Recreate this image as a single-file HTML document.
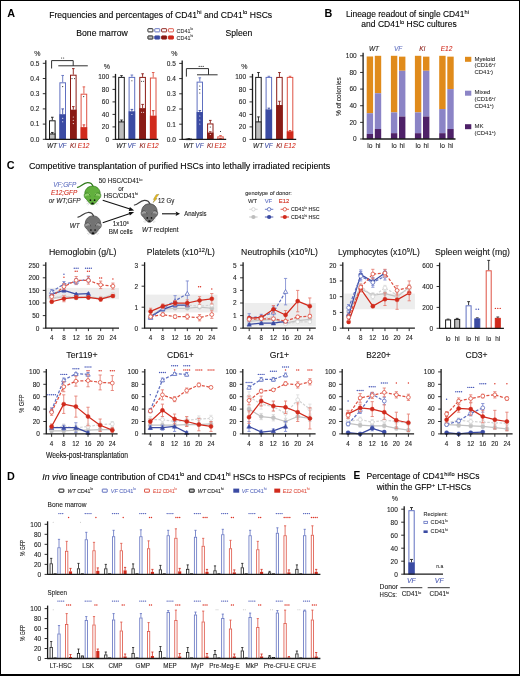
<!DOCTYPE html>
<html><head><meta charset="utf-8"><style>
html,body{margin:0;padding:0;background:#fff;}
#fig{position:relative;width:520px;height:676px;overflow:hidden;background:#fff;}
#fig svg{position:absolute;left:0;top:0;will-change:transform;}
#fig text{font-family:"Liberation Sans", sans-serif;}
#frame{position:absolute;left:0;top:0;width:518px;height:673px;border:1px solid #000;border-bottom-width:2px;}
</style></head><body><div id="fig">
<svg width="520" height="676" viewBox="0 0 520 676" font-family="Liberation Sans, sans-serif">
<text x="7.30" y="17.20" font-size="10.8" font-weight="bold">A</text>
<text x="49.20" y="17.60" font-size="8.6" stroke="#000" stroke-width="0.1" textLength="223.00" lengthAdjust="spacingAndGlyphs">Frequencies and percentages of CD41<tspan dy="-3.4" font-size="5.8">hi</tspan><tspan dy="3.4"> and CD41</tspan><tspan dy="-3.4" font-size="5.8">lo</tspan><tspan dy="3.4"> HSCs</tspan></text>
<text x="76.30" y="36.20" font-size="8.6" stroke="#000" stroke-width="0.1" textLength="51.40" lengthAdjust="spacingAndGlyphs">Bone marrow</text>
<text x="225.50" y="36.00" font-size="8.6" stroke="#000" stroke-width="0.1" textLength="26.80" lengthAdjust="spacingAndGlyphs">Spleen</text>
<rect x="147.90" y="28.70" width="5.00" height="3.20" fill="#fff" stroke="#1a1a1a" stroke-width="0.95" rx="0.5"/>
<rect x="147.90" y="35.90" width="5.00" height="3.20" fill="#bdbdbd" stroke="#1a1a1a" stroke-width="0.95" rx="0.5"/>
<rect x="154.75" y="28.70" width="5.00" height="3.20" fill="#fff" stroke="#6070c0" stroke-width="0.95" rx="0.5"/>
<rect x="154.75" y="35.90" width="5.00" height="3.20" fill="#3b4ba3" stroke="#3b4ba3" stroke-width="0.95" rx="0.5"/>
<rect x="161.60" y="28.70" width="5.00" height="3.20" fill="#fff" stroke="#8a1b15" stroke-width="0.95" rx="0.5"/>
<rect x="161.60" y="35.90" width="5.00" height="3.20" fill="#8a1b15" stroke="#8a1b15" stroke-width="0.95" rx="0.5"/>
<rect x="168.45" y="28.70" width="5.00" height="3.20" fill="#fff" stroke="#de5243" stroke-width="0.95" rx="0.5"/>
<rect x="168.45" y="35.90" width="5.00" height="3.20" fill="#d12a1c" stroke="#d12a1c" stroke-width="0.95" rx="0.5"/>
<text x="176.60" y="32.50" font-size="5.4" fill="#333" stroke="#333" stroke-width="0.1">CD41<tspan dy="-2.2" font-size="3.4">lo</tspan></text>
<text x="176.60" y="39.60" font-size="5.4" fill="#333" stroke="#333" stroke-width="0.1">CD41<tspan dy="-2.2" font-size="3.4">hi</tspan></text>
<line x1="45.80" y1="139.30" x2="45.80" y2="60.30" stroke="#1a1a1a" stroke-width="1.3"/>
<line x1="42.80" y1="139.30" x2="45.80" y2="139.30" stroke="#1a1a1a" stroke-width="0.9"/>
<text x="39.40" y="141.64" font-size="6.5" text-anchor="end" fill="#222" stroke="#222" stroke-width="0.1">0.0</text>
<line x1="42.80" y1="124.10" x2="45.80" y2="124.10" stroke="#1a1a1a" stroke-width="0.9"/>
<text x="39.40" y="126.44" font-size="6.5" text-anchor="end" fill="#222" stroke="#222" stroke-width="0.1">0.1</text>
<line x1="42.80" y1="108.90" x2="45.80" y2="108.90" stroke="#1a1a1a" stroke-width="0.9"/>
<text x="39.40" y="111.24" font-size="6.5" text-anchor="end" fill="#222" stroke="#222" stroke-width="0.1">0.2</text>
<line x1="42.80" y1="93.70" x2="45.80" y2="93.70" stroke="#1a1a1a" stroke-width="0.9"/>
<text x="39.40" y="96.04" font-size="6.5" text-anchor="end" fill="#222" stroke="#222" stroke-width="0.1">0.3</text>
<line x1="42.80" y1="78.50" x2="45.80" y2="78.50" stroke="#1a1a1a" stroke-width="0.9"/>
<text x="39.40" y="80.84" font-size="6.5" text-anchor="end" fill="#222" stroke="#222" stroke-width="0.1">0.4</text>
<line x1="42.80" y1="63.30" x2="45.80" y2="63.30" stroke="#1a1a1a" stroke-width="0.9"/>
<text x="39.40" y="65.64" font-size="6.5" text-anchor="end" fill="#222" stroke="#222" stroke-width="0.1">0.5</text>
<text x="34.30" y="55.60" font-size="7.0" fill="#222" stroke="#222" stroke-width="0.1">%</text>
<line x1="52.30" y1="120.30" x2="52.30" y2="117.26" stroke="#1a1a1a" stroke-width="0.9"/>
<line x1="51.00" y1="117.26" x2="53.60" y2="117.26" stroke="#1a1a1a" stroke-width="0.9"/>
<rect x="49.50" y="120.80" width="5.60" height="18.50" fill="#fff" stroke="#1a1a1a" stroke-width="1.0"/>
<rect x="49.00" y="133.98" width="6.60" height="5.32" fill="#bdbdbd"/>
<rect x="49.50" y="133.98" width="5.60" height="5.32" fill="#bdbdbd" stroke="#1a1a1a" stroke-width="1.0"/>
<line x1="52.30" y1="133.98" x2="52.30" y2="132.46" stroke="#1a1a1a" stroke-width="0.9"/>
<line x1="51.00" y1="132.46" x2="53.60" y2="132.46" stroke="#1a1a1a" stroke-width="0.9"/>
<line x1="62.70" y1="82.30" x2="62.70" y2="75.46" stroke="#6070c0" stroke-width="0.9"/>
<line x1="61.40" y1="75.46" x2="64.00" y2="75.46" stroke="#6070c0" stroke-width="0.9"/>
<rect x="59.90" y="82.80" width="5.60" height="56.50" fill="#fff" stroke="#6070c0" stroke-width="1.0"/>
<rect x="59.40" y="114.22" width="6.60" height="25.08" fill="#3b4ba3"/>
<line x1="62.70" y1="114.22" x2="62.70" y2="108.90" stroke="#3b4ba3" stroke-width="0.9"/>
<line x1="61.40" y1="108.90" x2="64.00" y2="108.90" stroke="#3b4ba3" stroke-width="0.9"/>
<line x1="73.30" y1="74.70" x2="73.30" y2="68.62" stroke="#8a1b15" stroke-width="0.9"/>
<line x1="72.00" y1="68.62" x2="74.60" y2="68.62" stroke="#8a1b15" stroke-width="0.9"/>
<rect x="70.50" y="75.20" width="5.60" height="64.10" fill="#fff" stroke="#8a1b15" stroke-width="1.0"/>
<rect x="70.00" y="109.66" width="6.60" height="29.64" fill="#8a1b15"/>
<line x1="73.30" y1="109.66" x2="73.30" y2="106.62" stroke="#8a1b15" stroke-width="0.9"/>
<line x1="72.00" y1="106.62" x2="74.60" y2="106.62" stroke="#8a1b15" stroke-width="0.9"/>
<line x1="83.90" y1="93.70" x2="83.90" y2="86.86" stroke="#de5243" stroke-width="0.9"/>
<line x1="82.60" y1="86.86" x2="85.20" y2="86.86" stroke="#de5243" stroke-width="0.9"/>
<rect x="81.10" y="94.20" width="5.60" height="45.10" fill="#fff" stroke="#de5243" stroke-width="1.0"/>
<rect x="80.60" y="127.14" width="6.60" height="12.16" fill="#d12a1c"/>
<line x1="83.90" y1="127.14" x2="83.90" y2="124.86" stroke="#d12a1c" stroke-width="0.9"/>
<line x1="82.60" y1="124.86" x2="85.20" y2="124.86" stroke="#d12a1c" stroke-width="0.9"/>
<line x1="45.30" y1="139.30" x2="88.00" y2="139.30" stroke="#1a1a1a" stroke-width="1.3"/>
<text x="52.00" y="147.80" font-size="6.5" text-anchor="middle" fill="#1a1a1a" stroke="#1a1a1a" stroke-width="0.1" font-style="italic">WT</text>
<text x="62.40" y="147.80" font-size="6.5" text-anchor="middle" fill="#3b4ba3" stroke="#3b4ba3" stroke-width="0.1" font-style="italic">VF</text>
<text x="73.00" y="147.80" font-size="6.5" text-anchor="middle" fill="#8a1b15" stroke="#8a1b15" stroke-width="0.1" font-style="italic">Ki</text>
<text x="83.60" y="147.80" font-size="6.5" text-anchor="middle" fill="#d12a1c" stroke="#d12a1c" stroke-width="0.1" font-style="italic">E12</text>
<polyline points="51.60,68.50 51.60,60.60 73.20,60.60 73.20,65.80" fill="none" stroke="#1a1a1a" stroke-width="0.9" stroke-linejoin="round"/>
<line x1="58.30" y1="65.80" x2="87.80" y2="65.80" stroke="#1a1a1a" stroke-width="0.9"/>
<circle cx="61.60" cy="58.00" r="0.6" fill="#333"/>
<circle cx="63.60" cy="58.00" r="0.6" fill="#333"/>
<circle cx="62.7" cy="86.6" r="0.55" fill="#1a1a1a"/>
<circle cx="62.7" cy="118.3" r="0.55" fill="#fff"/>
<circle cx="62.7" cy="121.7" r="0.55" fill="#fff"/>
<circle cx="72.0" cy="78.6" r="0.55" fill="#1a1a1a"/>
<circle cx="74.6" cy="78.6" r="0.55" fill="#1a1a1a"/>
<circle cx="73.3" cy="117" r="0.55" fill="#fff"/>
<circle cx="73.3" cy="120.3" r="0.55" fill="#fff"/>
<circle cx="73.3" cy="123.6" r="0.55" fill="#fff"/>
<circle cx="83.7" cy="96.6" r="0.55" fill="#1a1a1a"/>
<line x1="115.50" y1="139.40" x2="115.50" y2="73.90" stroke="#1a1a1a" stroke-width="1.3"/>
<line x1="112.50" y1="139.40" x2="115.50" y2="139.40" stroke="#1a1a1a" stroke-width="0.9"/>
<text x="109.10" y="141.74" font-size="6.5" text-anchor="end" fill="#222" stroke="#222" stroke-width="0.1">0</text>
<line x1="112.50" y1="126.90" x2="115.50" y2="126.90" stroke="#1a1a1a" stroke-width="0.9"/>
<text x="109.10" y="129.24" font-size="6.5" text-anchor="end" fill="#222" stroke="#222" stroke-width="0.1">20</text>
<line x1="112.50" y1="114.40" x2="115.50" y2="114.40" stroke="#1a1a1a" stroke-width="0.9"/>
<text x="109.10" y="116.74" font-size="6.5" text-anchor="end" fill="#222" stroke="#222" stroke-width="0.1">40</text>
<line x1="112.50" y1="101.90" x2="115.50" y2="101.90" stroke="#1a1a1a" stroke-width="0.9"/>
<text x="109.10" y="104.24" font-size="6.5" text-anchor="end" fill="#222" stroke="#222" stroke-width="0.1">60</text>
<line x1="112.50" y1="89.40" x2="115.50" y2="89.40" stroke="#1a1a1a" stroke-width="0.9"/>
<text x="109.10" y="91.74" font-size="6.5" text-anchor="end" fill="#222" stroke="#222" stroke-width="0.1">80</text>
<line x1="112.50" y1="76.90" x2="115.50" y2="76.90" stroke="#1a1a1a" stroke-width="0.9"/>
<text x="109.10" y="79.24" font-size="6.5" text-anchor="end" fill="#222" stroke="#222" stroke-width="0.1">100</text>
<text x="103.80" y="69.40" font-size="7.0" fill="#222" stroke="#222" stroke-width="0.1">%</text>
<line x1="121.50" y1="76.90" x2="121.50" y2="75.65" stroke="#1a1a1a" stroke-width="0.9"/>
<line x1="120.20" y1="75.65" x2="122.80" y2="75.65" stroke="#1a1a1a" stroke-width="0.9"/>
<rect x="118.70" y="77.40" width="5.60" height="62.00" fill="#fff" stroke="#1a1a1a" stroke-width="1.0"/>
<rect x="118.20" y="121.90" width="6.60" height="17.50" fill="#bdbdbd"/>
<rect x="118.70" y="121.90" width="5.60" height="17.50" fill="#bdbdbd" stroke="#1a1a1a" stroke-width="1.0"/>
<line x1="121.50" y1="121.90" x2="121.50" y2="120.03" stroke="#1a1a1a" stroke-width="0.9"/>
<line x1="120.20" y1="120.03" x2="122.80" y2="120.03" stroke="#1a1a1a" stroke-width="0.9"/>
<line x1="131.90" y1="76.90" x2="131.90" y2="75.03" stroke="#6070c0" stroke-width="0.9"/>
<line x1="130.60" y1="75.03" x2="133.20" y2="75.03" stroke="#6070c0" stroke-width="0.9"/>
<rect x="129.10" y="77.40" width="5.60" height="62.00" fill="#fff" stroke="#6070c0" stroke-width="1.0"/>
<rect x="128.60" y="111.28" width="6.60" height="28.12" fill="#3b4ba3"/>
<line x1="131.90" y1="111.28" x2="131.90" y2="109.40" stroke="#3b4ba3" stroke-width="0.9"/>
<line x1="130.60" y1="109.40" x2="133.20" y2="109.40" stroke="#3b4ba3" stroke-width="0.9"/>
<line x1="142.60" y1="76.90" x2="142.60" y2="73.78" stroke="#8a1b15" stroke-width="0.9"/>
<line x1="141.30" y1="73.78" x2="143.90" y2="73.78" stroke="#8a1b15" stroke-width="0.9"/>
<rect x="139.80" y="77.40" width="5.60" height="62.00" fill="#fff" stroke="#8a1b15" stroke-width="1.0"/>
<rect x="139.30" y="108.15" width="6.60" height="31.25" fill="#8a1b15"/>
<line x1="142.60" y1="108.15" x2="142.60" y2="104.40" stroke="#8a1b15" stroke-width="0.9"/>
<line x1="141.30" y1="104.40" x2="143.90" y2="104.40" stroke="#8a1b15" stroke-width="0.9"/>
<line x1="153.20" y1="77.53" x2="153.20" y2="72.53" stroke="#de5243" stroke-width="0.9"/>
<line x1="151.90" y1="72.53" x2="154.50" y2="72.53" stroke="#de5243" stroke-width="0.9"/>
<rect x="150.40" y="78.03" width="5.60" height="61.38" fill="#fff" stroke="#de5243" stroke-width="1.0"/>
<rect x="149.90" y="115.65" width="6.60" height="23.75" fill="#d12a1c"/>
<line x1="153.20" y1="115.65" x2="153.20" y2="110.65" stroke="#d12a1c" stroke-width="0.9"/>
<line x1="151.90" y1="110.65" x2="154.50" y2="110.65" stroke="#d12a1c" stroke-width="0.9"/>
<line x1="115.00" y1="139.40" x2="158.20" y2="139.40" stroke="#1a1a1a" stroke-width="1.3"/>
<text x="121.20" y="147.80" font-size="6.5" text-anchor="middle" fill="#1a1a1a" stroke="#1a1a1a" stroke-width="0.1" font-style="italic">WT</text>
<text x="131.60" y="147.80" font-size="6.5" text-anchor="middle" fill="#3b4ba3" stroke="#3b4ba3" stroke-width="0.1" font-style="italic">VF</text>
<text x="142.30" y="147.80" font-size="6.5" text-anchor="middle" fill="#8a1b15" stroke="#8a1b15" stroke-width="0.1" font-style="italic">Ki</text>
<text x="152.90" y="147.80" font-size="6.5" text-anchor="middle" fill="#d12a1c" stroke="#d12a1c" stroke-width="0.1" font-style="italic">E12</text>
<circle cx="131.9" cy="80.8" r="0.55" fill="#1a1a1a"/>
<circle cx="131.9" cy="114.5" r="0.55" fill="#fff"/>
<circle cx="141.6" cy="81.2" r="0.55" fill="#1a1a1a"/>
<circle cx="143.6" cy="81.2" r="0.55" fill="#1a1a1a"/>
<circle cx="141.6" cy="112.3" r="0.55" fill="#fff"/>
<circle cx="143.6" cy="112.3" r="0.55" fill="#fff"/>
<line x1="182.20" y1="139.40" x2="182.20" y2="60.40" stroke="#1a1a1a" stroke-width="1.3"/>
<line x1="179.20" y1="139.40" x2="182.20" y2="139.40" stroke="#1a1a1a" stroke-width="0.9"/>
<text x="175.80" y="141.74" font-size="6.5" text-anchor="end" fill="#222" stroke="#222" stroke-width="0.1">0.0</text>
<line x1="179.20" y1="124.20" x2="182.20" y2="124.20" stroke="#1a1a1a" stroke-width="0.9"/>
<text x="175.80" y="126.54" font-size="6.5" text-anchor="end" fill="#222" stroke="#222" stroke-width="0.1">0.1</text>
<line x1="179.20" y1="109.00" x2="182.20" y2="109.00" stroke="#1a1a1a" stroke-width="0.9"/>
<text x="175.80" y="111.34" font-size="6.5" text-anchor="end" fill="#222" stroke="#222" stroke-width="0.1">0.2</text>
<line x1="179.20" y1="93.80" x2="182.20" y2="93.80" stroke="#1a1a1a" stroke-width="0.9"/>
<text x="175.80" y="96.14" font-size="6.5" text-anchor="end" fill="#222" stroke="#222" stroke-width="0.1">0.3</text>
<line x1="179.20" y1="78.60" x2="182.20" y2="78.60" stroke="#1a1a1a" stroke-width="0.9"/>
<text x="175.80" y="80.94" font-size="6.5" text-anchor="end" fill="#222" stroke="#222" stroke-width="0.1">0.4</text>
<line x1="179.20" y1="63.40" x2="182.20" y2="63.40" stroke="#1a1a1a" stroke-width="0.9"/>
<text x="175.80" y="65.74" font-size="6.5" text-anchor="end" fill="#222" stroke="#222" stroke-width="0.1">0.5</text>
<text x="171.30" y="55.60" font-size="7.0" fill="#222" stroke="#222" stroke-width="0.1">%</text>
<line x1="188.80" y1="138.79" x2="188.80" y2="138.64" stroke="#1a1a1a" stroke-width="0.9"/>
<line x1="187.50" y1="138.64" x2="190.10" y2="138.64" stroke="#1a1a1a" stroke-width="0.9"/>
<rect x="186.10" y="139.29" width="5.40" height="0.30" fill="#fff" stroke="#1a1a1a" stroke-width="1.0"/>
<rect x="185.60" y="139.25" width="6.40" height="0.15" fill="#bdbdbd"/>
<rect x="186.10" y="139.25" width="5.40" height="0.15" fill="#bdbdbd" stroke="#1a1a1a" stroke-width="1.0"/>
<line x1="199.80" y1="81.64" x2="199.80" y2="77.84" stroke="#6070c0" stroke-width="0.9"/>
<line x1="198.50" y1="77.84" x2="201.10" y2="77.84" stroke="#6070c0" stroke-width="0.9"/>
<rect x="197.10" y="82.14" width="5.40" height="57.26" fill="#fff" stroke="#6070c0" stroke-width="1.0"/>
<rect x="196.60" y="112.04" width="6.40" height="27.36" fill="#3b4ba3"/>
<line x1="199.80" y1="112.04" x2="199.80" y2="110.52" stroke="#3b4ba3" stroke-width="0.9"/>
<line x1="198.50" y1="110.52" x2="201.10" y2="110.52" stroke="#3b4ba3" stroke-width="0.9"/>
<line x1="210.30" y1="123.44" x2="210.30" y2="120.40" stroke="#8a1b15" stroke-width="0.9"/>
<line x1="209.00" y1="120.40" x2="211.60" y2="120.40" stroke="#8a1b15" stroke-width="0.9"/>
<rect x="207.60" y="123.94" width="5.40" height="15.46" fill="#fff" stroke="#8a1b15" stroke-width="1.0"/>
<rect x="207.10" y="132.56" width="6.40" height="6.84" fill="#8a1b15"/>
<line x1="210.30" y1="132.56" x2="210.30" y2="131.80" stroke="#8a1b15" stroke-width="0.9"/>
<line x1="209.00" y1="131.80" x2="211.60" y2="131.80" stroke="#8a1b15" stroke-width="0.9"/>
<line x1="220.50" y1="136.36" x2="220.50" y2="135.60" stroke="#de5243" stroke-width="0.9"/>
<line x1="219.20" y1="135.60" x2="221.80" y2="135.60" stroke="#de5243" stroke-width="0.9"/>
<rect x="217.80" y="136.86" width="5.40" height="2.54" fill="#fff" stroke="#de5243" stroke-width="1.0"/>
<rect x="217.30" y="138.64" width="6.40" height="0.76" fill="#d12a1c"/>
<line x1="220.50" y1="138.64" x2="220.50" y2="138.49" stroke="#d12a1c" stroke-width="0.9"/>
<line x1="219.20" y1="138.49" x2="221.80" y2="138.49" stroke="#d12a1c" stroke-width="0.9"/>
<line x1="181.70" y1="139.40" x2="226.20" y2="139.40" stroke="#1a1a1a" stroke-width="1.3"/>
<text x="188.50" y="147.80" font-size="6.5" text-anchor="middle" fill="#1a1a1a" stroke="#1a1a1a" stroke-width="0.1" font-style="italic">WT</text>
<text x="199.50" y="147.80" font-size="6.5" text-anchor="middle" fill="#3b4ba3" stroke="#3b4ba3" stroke-width="0.1" font-style="italic">VF</text>
<text x="210.00" y="147.80" font-size="6.5" text-anchor="middle" fill="#8a1b15" stroke="#8a1b15" stroke-width="0.1" font-style="italic">Ki</text>
<text x="220.20" y="147.80" font-size="6.5" text-anchor="middle" fill="#d12a1c" stroke="#d12a1c" stroke-width="0.1" font-style="italic">E12</text>
<polyline points="186.40,76.60 186.40,68.60 208.50,68.60 208.50,74.70" fill="none" stroke="#1a1a1a" stroke-width="0.9" stroke-linejoin="round"/>
<line x1="197.00" y1="74.80" x2="217.60" y2="74.80" stroke="#1a1a1a" stroke-width="0.9"/>
<circle cx="199.20" cy="66.40" r="0.6" fill="#333"/>
<circle cx="201.20" cy="66.40" r="0.6" fill="#333"/>
<circle cx="203.20" cy="66.40" r="0.6" fill="#333"/>
<circle cx="199.8" cy="86" r="0.55" fill="#1a1a1a"/>
<circle cx="199.8" cy="89.5" r="0.55" fill="#1a1a1a"/>
<circle cx="199.8" cy="93" r="0.55" fill="#1a1a1a"/>
<circle cx="199.8" cy="116" r="0.55" fill="#fff"/>
<circle cx="199.8" cy="120" r="0.55" fill="#fff"/>
<circle cx="199.8" cy="124" r="0.55" fill="#fff"/>
<circle cx="210.3" cy="127" r="0.55" fill="#1a1a1a"/>
<circle cx="210.3" cy="134.5" r="0.55" fill="#fff"/>
<circle cx="220.5" cy="131.5" r="0.55" fill="#1a1a1a"/>
<line x1="252.50" y1="139.40" x2="252.50" y2="73.90" stroke="#1a1a1a" stroke-width="1.3"/>
<line x1="249.50" y1="139.40" x2="252.50" y2="139.40" stroke="#1a1a1a" stroke-width="0.9"/>
<text x="246.10" y="141.74" font-size="6.5" text-anchor="end" fill="#222" stroke="#222" stroke-width="0.1">0</text>
<line x1="249.50" y1="126.90" x2="252.50" y2="126.90" stroke="#1a1a1a" stroke-width="0.9"/>
<text x="246.10" y="129.24" font-size="6.5" text-anchor="end" fill="#222" stroke="#222" stroke-width="0.1">20</text>
<line x1="249.50" y1="114.40" x2="252.50" y2="114.40" stroke="#1a1a1a" stroke-width="0.9"/>
<text x="246.10" y="116.74" font-size="6.5" text-anchor="end" fill="#222" stroke="#222" stroke-width="0.1">40</text>
<line x1="249.50" y1="101.90" x2="252.50" y2="101.90" stroke="#1a1a1a" stroke-width="0.9"/>
<text x="246.10" y="104.24" font-size="6.5" text-anchor="end" fill="#222" stroke="#222" stroke-width="0.1">60</text>
<line x1="249.50" y1="89.40" x2="252.50" y2="89.40" stroke="#1a1a1a" stroke-width="0.9"/>
<text x="246.10" y="91.74" font-size="6.5" text-anchor="end" fill="#222" stroke="#222" stroke-width="0.1">80</text>
<line x1="249.50" y1="76.90" x2="252.50" y2="76.90" stroke="#1a1a1a" stroke-width="0.9"/>
<text x="246.10" y="79.24" font-size="6.5" text-anchor="end" fill="#222" stroke="#222" stroke-width="0.1">100</text>
<text x="241.30" y="69.40" font-size="7.0" fill="#222" stroke="#222" stroke-width="0.1">%</text>
<line x1="258.45" y1="76.90" x2="258.45" y2="72.53" stroke="#1a1a1a" stroke-width="0.9"/>
<line x1="257.15" y1="72.53" x2="259.75" y2="72.53" stroke="#1a1a1a" stroke-width="0.9"/>
<rect x="255.70" y="77.40" width="5.50" height="62.00" fill="#fff" stroke="#1a1a1a" stroke-width="1.0"/>
<rect x="255.20" y="121.90" width="6.50" height="17.50" fill="#bdbdbd"/>
<rect x="255.70" y="121.90" width="5.50" height="17.50" fill="#bdbdbd" stroke="#1a1a1a" stroke-width="1.0"/>
<line x1="258.45" y1="121.90" x2="258.45" y2="116.90" stroke="#1a1a1a" stroke-width="0.9"/>
<line x1="257.15" y1="116.90" x2="259.75" y2="116.90" stroke="#1a1a1a" stroke-width="0.9"/>
<line x1="268.85" y1="76.90" x2="268.85" y2="76.28" stroke="#6070c0" stroke-width="0.9"/>
<line x1="267.55" y1="76.28" x2="270.15" y2="76.28" stroke="#6070c0" stroke-width="0.9"/>
<rect x="266.10" y="77.40" width="5.50" height="62.00" fill="#fff" stroke="#6070c0" stroke-width="1.0"/>
<rect x="265.60" y="109.40" width="6.50" height="30.00" fill="#3b4ba3"/>
<line x1="268.85" y1="109.40" x2="268.85" y2="108.15" stroke="#3b4ba3" stroke-width="0.9"/>
<line x1="267.55" y1="108.15" x2="270.15" y2="108.15" stroke="#3b4ba3" stroke-width="0.9"/>
<line x1="279.45" y1="76.90" x2="279.45" y2="72.53" stroke="#8a1b15" stroke-width="0.9"/>
<line x1="278.15" y1="72.53" x2="280.75" y2="72.53" stroke="#8a1b15" stroke-width="0.9"/>
<rect x="276.70" y="77.40" width="5.50" height="62.00" fill="#fff" stroke="#8a1b15" stroke-width="1.0"/>
<rect x="276.20" y="105.03" width="6.50" height="34.38" fill="#8a1b15"/>
<line x1="279.45" y1="105.03" x2="279.45" y2="101.28" stroke="#8a1b15" stroke-width="0.9"/>
<line x1="278.15" y1="101.28" x2="280.75" y2="101.28" stroke="#8a1b15" stroke-width="0.9"/>
<line x1="290.05" y1="76.90" x2="290.05" y2="76.28" stroke="#de5243" stroke-width="0.9"/>
<line x1="288.75" y1="76.28" x2="291.35" y2="76.28" stroke="#de5243" stroke-width="0.9"/>
<rect x="287.30" y="77.40" width="5.50" height="62.00" fill="#fff" stroke="#de5243" stroke-width="1.0"/>
<rect x="286.80" y="131.28" width="6.50" height="8.12" fill="#d12a1c"/>
<line x1="290.05" y1="131.28" x2="290.05" y2="130.65" stroke="#d12a1c" stroke-width="0.9"/>
<line x1="288.75" y1="130.65" x2="291.35" y2="130.65" stroke="#d12a1c" stroke-width="0.9"/>
<line x1="252.00" y1="139.40" x2="296.20" y2="139.40" stroke="#1a1a1a" stroke-width="1.3"/>
<text x="258.15" y="147.80" font-size="6.5" text-anchor="middle" fill="#1a1a1a" stroke="#1a1a1a" stroke-width="0.1" font-style="italic">WT</text>
<text x="268.55" y="147.80" font-size="6.5" text-anchor="middle" fill="#3b4ba3" stroke="#3b4ba3" stroke-width="0.1" font-style="italic">VF</text>
<text x="279.15" y="147.80" font-size="6.5" text-anchor="middle" fill="#8a1b15" stroke="#8a1b15" stroke-width="0.1" font-style="italic">Ki</text>
<text x="289.75" y="147.80" font-size="6.5" text-anchor="middle" fill="#d12a1c" stroke="#d12a1c" stroke-width="0.1" font-style="italic">E12</text>
<text x="324.60" y="17.40" font-size="10.8" font-weight="bold">B</text>
<text x="345.90" y="17.40" font-size="8.4" stroke="#000" stroke-width="0.1" textLength="123.00" lengthAdjust="spacingAndGlyphs">Lineage readout of single CD41<tspan dy="-3.4" font-size="5.6">hi</tspan></text>
<text x="361.30" y="27.40" font-size="8.4" stroke="#000" stroke-width="0.1" textLength="95.40" lengthAdjust="spacingAndGlyphs">and CD41<tspan dy="-3.4" font-size="5.6">lo</tspan><tspan dy="3.4"> HSC cultures</tspan></text>
<line x1="363.10" y1="139.00" x2="363.10" y2="52.80" stroke="#1a1a1a" stroke-width="1.3"/>
<line x1="360.10" y1="139.00" x2="363.10" y2="139.00" stroke="#1a1a1a" stroke-width="0.9"/>
<text x="356.70" y="141.34" font-size="6.5" text-anchor="end" fill="#222" stroke="#222" stroke-width="0.1">0</text>
<line x1="360.10" y1="122.36" x2="363.10" y2="122.36" stroke="#1a1a1a" stroke-width="0.9"/>
<text x="356.70" y="124.70" font-size="6.5" text-anchor="end" fill="#222" stroke="#222" stroke-width="0.1">20</text>
<line x1="360.10" y1="105.72" x2="363.10" y2="105.72" stroke="#1a1a1a" stroke-width="0.9"/>
<text x="356.70" y="108.06" font-size="6.5" text-anchor="end" fill="#222" stroke="#222" stroke-width="0.1">40</text>
<line x1="360.10" y1="89.08" x2="363.10" y2="89.08" stroke="#1a1a1a" stroke-width="0.9"/>
<text x="356.70" y="91.42" font-size="6.5" text-anchor="end" fill="#222" stroke="#222" stroke-width="0.1">60</text>
<line x1="360.10" y1="72.44" x2="363.10" y2="72.44" stroke="#1a1a1a" stroke-width="0.9"/>
<text x="356.70" y="74.78" font-size="6.5" text-anchor="end" fill="#222" stroke="#222" stroke-width="0.1">80</text>
<line x1="360.10" y1="55.80" x2="363.10" y2="55.80" stroke="#1a1a1a" stroke-width="0.9"/>
<text x="356.70" y="58.14" font-size="6.5" text-anchor="end" fill="#222" stroke="#222" stroke-width="0.1">100</text>
<text x="0.00" y="0.00" font-size="7.0" text-anchor="middle" fill="#222" stroke="#222" stroke-width="0.1" textLength="39.00" lengthAdjust="spacingAndGlyphs" transform="translate(340.8,96.6) rotate(-90)">% of colonies</text>
<rect x="366.70" y="56.47" width="6.40" height="56.74" fill="#e08b1b"/>
<rect x="366.70" y="113.21" width="6.40" height="20.80" fill="#8b84c6"/>
<rect x="366.70" y="134.01" width="6.40" height="4.99" fill="#4e2168"/>
<text x="369.90" y="148.00" font-size="6.7" text-anchor="middle" fill="#222" stroke="#222" stroke-width="0.1">lo</text>
<rect x="374.80" y="55.80" width="6.40" height="37.44" fill="#e08b1b"/>
<rect x="374.80" y="93.24" width="6.40" height="35.78" fill="#8b84c6"/>
<rect x="374.80" y="129.02" width="6.40" height="9.98" fill="#4e2168"/>
<text x="378.00" y="148.00" font-size="6.7" text-anchor="middle" fill="#222" stroke="#222" stroke-width="0.1">hi</text>
<text x="374.00" y="51.30" font-size="6.5" text-anchor="middle" fill="#1a1a1a" stroke="#1a1a1a" stroke-width="0.1" font-style="italic">WT</text>
<rect x="390.90" y="55.80" width="6.40" height="56.58" fill="#e08b1b"/>
<rect x="390.90" y="112.38" width="6.40" height="20.80" fill="#8b84c6"/>
<rect x="390.90" y="133.18" width="6.40" height="5.82" fill="#4e2168"/>
<text x="394.10" y="148.00" font-size="6.7" text-anchor="middle" fill="#222" stroke="#222" stroke-width="0.1">lo</text>
<rect x="399.00" y="56.63" width="6.40" height="14.14" fill="#e08b1b"/>
<rect x="399.00" y="70.78" width="6.40" height="45.76" fill="#8b84c6"/>
<rect x="399.00" y="116.54" width="6.40" height="22.46" fill="#4e2168"/>
<text x="402.20" y="148.00" font-size="6.7" text-anchor="middle" fill="#222" stroke="#222" stroke-width="0.1">hi</text>
<text x="398.20" y="51.30" font-size="6.5" text-anchor="middle" fill="#6070c0" stroke="#6070c0" stroke-width="0.1" font-style="italic">VF</text>
<rect x="414.90" y="55.80" width="6.40" height="56.58" fill="#e08b1b"/>
<rect x="414.90" y="112.38" width="6.40" height="20.80" fill="#8b84c6"/>
<rect x="414.90" y="133.18" width="6.40" height="5.82" fill="#4e2168"/>
<text x="418.10" y="148.00" font-size="6.7" text-anchor="middle" fill="#222" stroke="#222" stroke-width="0.1">lo</text>
<rect x="423.00" y="56.63" width="6.40" height="14.14" fill="#e08b1b"/>
<rect x="423.00" y="70.78" width="6.40" height="45.76" fill="#8b84c6"/>
<rect x="423.00" y="116.54" width="6.40" height="22.46" fill="#4e2168"/>
<text x="426.20" y="148.00" font-size="6.7" text-anchor="middle" fill="#222" stroke="#222" stroke-width="0.1">hi</text>
<text x="422.20" y="51.30" font-size="6.5" text-anchor="middle" fill="#8a1b15" stroke="#8a1b15" stroke-width="0.1" font-style="italic">Ki</text>
<rect x="439.20" y="55.80" width="6.40" height="53.25" fill="#e08b1b"/>
<rect x="439.20" y="109.05" width="6.40" height="24.13" fill="#8b84c6"/>
<rect x="439.20" y="133.18" width="6.40" height="5.82" fill="#4e2168"/>
<text x="442.40" y="148.00" font-size="6.7" text-anchor="middle" fill="#222" stroke="#222" stroke-width="0.1">lo</text>
<rect x="447.30" y="56.63" width="6.40" height="32.45" fill="#e08b1b"/>
<rect x="447.30" y="89.08" width="6.40" height="39.94" fill="#8b84c6"/>
<rect x="447.30" y="129.02" width="6.40" height="9.98" fill="#4e2168"/>
<text x="450.50" y="148.00" font-size="6.7" text-anchor="middle" fill="#222" stroke="#222" stroke-width="0.1">hi</text>
<text x="446.50" y="51.30" font-size="6.5" text-anchor="middle" fill="#d12a1c" stroke="#d12a1c" stroke-width="0.1" font-style="italic">E12</text>
<line x1="362.60" y1="139.00" x2="455.50" y2="139.00" stroke="#1a1a1a" stroke-width="1.3"/>
<rect x="465.00" y="56.80" width="6.30" height="5.00" fill="#e08b1b"/>
<text x="474.40" y="60.50" font-size="6.0" fill="#333" stroke="#333" stroke-width="0.1">Myeloid</text>
<text x="474.40" y="67.20" font-size="6.0" fill="#333" stroke="#333" stroke-width="0.1">(CD16<tspan dy="-1.8" font-size="3.4">+</tspan><tspan dy="1.8">/</tspan></text>
<text x="474.40" y="73.90" font-size="6.0" fill="#333" stroke="#333" stroke-width="0.1">CD41<tspan dy="-1.8" font-size="3.4">-</tspan><tspan dy="1.8">)</tspan></text>
<rect x="465.00" y="90.70" width="6.30" height="5.00" fill="#8b84c6"/>
<text x="474.40" y="94.40" font-size="6.0" fill="#333" stroke="#333" stroke-width="0.1">Mixed</text>
<text x="474.40" y="101.10" font-size="6.0" fill="#333" stroke="#333" stroke-width="0.1">(CD16<tspan dy="-1.8" font-size="3.4">+</tspan><tspan dy="1.8">/</tspan></text>
<text x="474.40" y="107.80" font-size="6.0" fill="#333" stroke="#333" stroke-width="0.1">CD41<tspan dy="-1.8" font-size="3.4">+</tspan><tspan dy="1.8">)</tspan></text>
<rect x="465.00" y="124.20" width="6.30" height="5.00" fill="#4e2168"/>
<text x="474.40" y="127.90" font-size="6.0" fill="#333" stroke="#333" stroke-width="0.1">MK</text>
<text x="474.40" y="134.60" font-size="6.0" fill="#333" stroke="#333" stroke-width="0.1">(CD41<tspan dy="-1.8" font-size="3.4">+</tspan><tspan dy="1.8">)</tspan></text>
<text x="6.80" y="168.90" font-size="10.8" font-weight="bold">C</text>
<text x="28.90" y="168.80" font-size="8.6" stroke="#000" stroke-width="0.1" textLength="301.30" lengthAdjust="spacingAndGlyphs">Competitive transplantation of purified HSCs into lethally irradiated recipients</text>
<text x="76.30" y="187.10" font-size="6.4" text-anchor="end" fill="#6070c0" stroke="#6070c0" stroke-width="0.1" font-style="italic">VF;GFP</text>
<text x="77.20" y="194.90" font-size="6.4" text-anchor="end" fill="#d12a1c" stroke="#d12a1c" stroke-width="0.1" font-style="italic">E12;GFP</text>
<text x="80.60" y="202.70" font-size="6.4" text-anchor="end" fill="#222" stroke="#222" stroke-width="0.1" font-style="italic">or WT;GFP</text>
<text x="79.60" y="227.70" font-size="6.4" text-anchor="end" fill="#222" stroke="#222" stroke-width="0.1" font-style="italic">WT</text>
<g transform="translate(92.50,186.10) scale(1.0)">
<path d="M -15,1.2 C -11.5,0.8 -9.5,-3.2 -5,-3.4 C -2,-3.5 -0.2,-2.2 0.6,0.4" fill="none" stroke="#2f7a1a" stroke-width="1.25" stroke-linecap="round"/>
<path d="M -2.4,15.4 L -6.4,15.0 M -2.4,16.0 L -6.0,17.8 M -2.6,16.6 L -4.8,19.2 M 2.4,15.4 L 6.4,15.0 M 2.4,16.0 L 6.0,17.8 M 2.6,16.6 L 4.8,19.2" stroke="#c4c4c4" stroke-width="0.55" fill="none"/>
<path d="M 0,0 C 4.8,0 7.7,3.6 7.7,7.4 C 8.5,8.4 8.5,10.4 7.6,11.6 C 6.4,13.0 5.0,14.2 3.6,16.2 C 2.4,17.8 1.2,18.5 0,18.5 C -1.2,18.5 -2.4,17.8 -3.6,16.2 C -5.0,14.2 -6.4,13.0 -7.6,11.6 C -8.5,10.4 -8.5,8.4 -7.7,7.4 C -7.7,3.6 -4.8,0 0,0 Z" fill="#62b03e" stroke="#2f7a1a" stroke-width="0.7"/>
<path d="M -7.90,10.60 C -8.00,8.00 -6.20,6.60 -4.60,6.60 C -3.00,6.60 -2.00,7.80 -2.00,10.20 C -2.90,9.40 -3.90,9.20 -5.00,9.50 C -6.20,9.80 -7.20,10.20 -7.90,10.60 Z" fill="#93d06e"/>
<path d="M -7.40,8.00 C -6.20,6.40 -3.00,6.00 -2.30,10.40" fill="none" stroke="#2f7a1a" stroke-width="0.75"/>
<path d="M 7.90,10.60 C 8.00,8.00 6.20,6.60 4.60,6.60 C 3.00,6.60 2.00,7.80 2.00,10.20 C 2.90,9.40 3.90,9.20 5.00,9.50 C 6.20,9.80 7.20,10.20 7.90,10.60 Z" fill="#93d06e"/>
<path d="M 7.40,8.00 C 6.20,6.40 3.00,6.00 2.30,10.40" fill="none" stroke="#2f7a1a" stroke-width="0.75"/>
<circle cx="-2.1" cy="14.1" r="0.85" fill="#111"/><circle cx="2.1" cy="14.1" r="0.85" fill="#111"/>
<ellipse cx="0" cy="17.3" rx="1.3" ry="0.85" fill="#111"/>
</g>
<g transform="translate(93.00,215.90) scale(1.0)">
<path d="M -15,1.2 C -11.5,0.8 -9.5,-3.2 -5,-3.4 C -2,-3.5 -0.2,-2.2 0.6,0.4" fill="none" stroke="#3e3e3e" stroke-width="1.25" stroke-linecap="round"/>
<path d="M -2.4,15.4 L -6.4,15.0 M -2.4,16.0 L -6.0,17.8 M -2.6,16.6 L -4.8,19.2 M 2.4,15.4 L 6.4,15.0 M 2.4,16.0 L 6.0,17.8 M 2.6,16.6 L 4.8,19.2" stroke="#c4c4c4" stroke-width="0.55" fill="none"/>
<path d="M 0,0 C 4.8,0 7.7,3.6 7.7,7.4 C 8.5,8.4 8.5,10.4 7.6,11.6 C 6.4,13.0 5.0,14.2 3.6,16.2 C 2.4,17.8 1.2,18.5 0,18.5 C -1.2,18.5 -2.4,17.8 -3.6,16.2 C -5.0,14.2 -6.4,13.0 -7.6,11.6 C -8.5,10.4 -8.5,8.4 -7.7,7.4 C -7.7,3.6 -4.8,0 0,0 Z" fill="#737373" stroke="#3e3e3e" stroke-width="0.7"/>
<path d="M -7.90,10.60 C -8.00,8.00 -6.20,6.60 -4.60,6.60 C -3.00,6.60 -2.00,7.80 -2.00,10.20 C -2.90,9.40 -3.90,9.20 -5.00,9.50 C -6.20,9.80 -7.20,10.20 -7.90,10.60 Z" fill="#a0a0a0"/>
<path d="M -7.40,8.00 C -6.20,6.40 -3.00,6.00 -2.30,10.40" fill="none" stroke="#3e3e3e" stroke-width="0.75"/>
<path d="M 7.90,10.60 C 8.00,8.00 6.20,6.60 4.60,6.60 C 3.00,6.60 2.00,7.80 2.00,10.20 C 2.90,9.40 3.90,9.20 5.00,9.50 C 6.20,9.80 7.20,10.20 7.90,10.60 Z" fill="#a0a0a0"/>
<path d="M 7.40,8.00 C 6.20,6.40 3.00,6.00 2.30,10.40" fill="none" stroke="#3e3e3e" stroke-width="0.75"/>
<circle cx="-2.1" cy="14.1" r="0.85" fill="#111"/><circle cx="2.1" cy="14.1" r="0.85" fill="#111"/>
<ellipse cx="0" cy="17.3" rx="1.3" ry="0.85" fill="#111"/>
</g>
<g transform="translate(149.40,203.80) scale(1.0)">
<path d="M -15,1.2 C -11.5,0.8 -9.5,-3.2 -5,-3.4 C -2,-3.5 -0.2,-2.2 0.6,0.4" fill="none" stroke="#3e3e3e" stroke-width="1.25" stroke-linecap="round"/>
<path d="M -2.4,15.4 L -6.4,15.0 M -2.4,16.0 L -6.0,17.8 M -2.6,16.6 L -4.8,19.2 M 2.4,15.4 L 6.4,15.0 M 2.4,16.0 L 6.0,17.8 M 2.6,16.6 L 4.8,19.2" stroke="#c4c4c4" stroke-width="0.55" fill="none"/>
<path d="M 0,0 C 4.8,0 7.7,3.6 7.7,7.4 C 8.5,8.4 8.5,10.4 7.6,11.6 C 6.4,13.0 5.0,14.2 3.6,16.2 C 2.4,17.8 1.2,18.5 0,18.5 C -1.2,18.5 -2.4,17.8 -3.6,16.2 C -5.0,14.2 -6.4,13.0 -7.6,11.6 C -8.5,10.4 -8.5,8.4 -7.7,7.4 C -7.7,3.6 -4.8,0 0,0 Z" fill="#737373" stroke="#3e3e3e" stroke-width="0.7"/>
<path d="M -7.90,10.60 C -8.00,8.00 -6.20,6.60 -4.60,6.60 C -3.00,6.60 -2.00,7.80 -2.00,10.20 C -2.90,9.40 -3.90,9.20 -5.00,9.50 C -6.20,9.80 -7.20,10.20 -7.90,10.60 Z" fill="#a0a0a0"/>
<path d="M -7.40,8.00 C -6.20,6.40 -3.00,6.00 -2.30,10.40" fill="none" stroke="#3e3e3e" stroke-width="0.75"/>
<path d="M 7.90,10.60 C 8.00,8.00 6.20,6.60 4.60,6.60 C 3.00,6.60 2.00,7.80 2.00,10.20 C 2.90,9.40 3.90,9.20 5.00,9.50 C 6.20,9.80 7.20,10.20 7.90,10.60 Z" fill="#a0a0a0"/>
<path d="M 7.40,8.00 C 6.20,6.40 3.00,6.00 2.30,10.40" fill="none" stroke="#3e3e3e" stroke-width="0.75"/>
<circle cx="-2.1" cy="14.1" r="0.85" fill="#111"/><circle cx="2.1" cy="14.1" r="0.85" fill="#111"/>
<ellipse cx="0" cy="17.3" rx="1.3" ry="0.85" fill="#111"/>
</g>
<text x="98.80" y="183.10" font-size="6.4" fill="#222" stroke="#222" stroke-width="0.1">50 HSC/CD41<tspan dy="-2.6" font-size="4">lo</tspan></text>
<text x="121.10" y="190.60" font-size="6.4" text-anchor="middle" fill="#222" stroke="#222" stroke-width="0.1">or</text>
<text x="103.50" y="197.70" font-size="6.4" fill="#222" stroke="#222" stroke-width="0.1">HSC/CD41<tspan dy="-2.6" font-size="4">hi</tspan></text>
<text x="112.70" y="226.10" font-size="6.4" fill="#222" stroke="#222" stroke-width="0.1">1x10<tspan dy="-2.6" font-size="4">6</tspan></text>
<text x="108.80" y="233.70" font-size="6.4" fill="#222" stroke="#222" stroke-width="0.1" textLength="23.90" lengthAdjust="spacingAndGlyphs">BM cells</text>
<line x1="102.70" y1="200.20" x2="130.00" y2="209.00" stroke="#111" stroke-width="1.1"/>
<line x1="102.70" y1="222.80" x2="130.00" y2="213.60" stroke="#111" stroke-width="1.1"/>
<polygon points="134.2,210.4 129.9,206.9 128.7,210.9" fill="#111"/>
<polygon points="134.2,211.9 128.7,211.9 129.9,215.6" fill="#111"/>
<line x1="162.00" y1="213.80" x2="176.50" y2="213.80" stroke="#111" stroke-width="1.1"/>
<polygon points="180.0,213.8 175.6,211.6 176.4,213.8 175.6,216.0" fill="#111"/>
<path d="M 158.9,194.3 L 155.6,198.4 L 157.1,198.6 L 153.0,202.6 L 154.6,199.6 L 153.4,199.4 L 156.2,194.7 Z" fill="#f2c21b" stroke="#6b5a10" stroke-width="0.35"/>
<text x="157.90" y="202.80" font-size="6.4" fill="#222" stroke="#222" stroke-width="0.1" textLength="16.30" lengthAdjust="spacingAndGlyphs">12 Gy</text>
<text x="184.30" y="215.60" font-size="6.4" fill="#222" stroke="#222" stroke-width="0.1" textLength="22.20" lengthAdjust="spacingAndGlyphs">Analysis</text>
<text x="142.00" y="232.20" font-size="6.4" fill="#222" stroke="#222" stroke-width="0.1" textLength="36.50" lengthAdjust="spacingAndGlyphs"><tspan font-style="italic">WT</tspan> recipient</text>
<text x="245.20" y="194.80" font-size="5.5" fill="#333" stroke="#333" stroke-width="0.1" textLength="46.70" lengthAdjust="spacingAndGlyphs">genotype of donor:</text>
<text x="252.60" y="203.30" font-size="5.9" text-anchor="middle" fill="#333" stroke="#333" stroke-width="0.1">WT</text>
<text x="268.40" y="203.30" font-size="5.9" text-anchor="middle" fill="#6070c0" stroke="#6070c0" stroke-width="0.1">VF</text>
<text x="284.10" y="203.30" font-size="5.9" text-anchor="middle" fill="#d12a1c" stroke="#d12a1c" stroke-width="0.1">E12</text>
<line x1="249.20" y1="209.30" x2="257.60" y2="209.30" stroke="#d3d3d3" stroke-width="0.9"/>
<circle cx="253.40" cy="209.3" r="1.75" fill="#fff" stroke="#d3d3d3" stroke-width="0.9"/>
<line x1="249.20" y1="217.00" x2="257.60" y2="217.00" stroke="#bdbdbd" stroke-width="0.9"/>
<circle cx="253.40" cy="217.0" r="2.1" fill="#bdbdbd"/>
<line x1="264.90" y1="209.30" x2="273.30" y2="209.30" stroke="#6070c0" stroke-width="0.9"/>
<circle cx="269.10" cy="209.3" r="1.75" fill="#fff" stroke="#6070c0" stroke-width="0.9"/>
<line x1="264.90" y1="217.00" x2="273.30" y2="217.00" stroke="#3b4ba3" stroke-width="0.9"/>
<circle cx="269.10" cy="217.0" r="2.1" fill="#3b4ba3"/>
<line x1="280.60" y1="209.30" x2="289.00" y2="209.30" stroke="#de5243" stroke-width="0.9"/>
<circle cx="284.80" cy="209.3" r="1.75" fill="#fff" stroke="#de5243" stroke-width="0.9"/>
<line x1="280.60" y1="217.00" x2="289.00" y2="217.00" stroke="#d12a1c" stroke-width="0.9"/>
<circle cx="284.80" cy="217.0" r="2.1" fill="#d12a1c"/>
<text x="291.00" y="211.30" font-size="5.9" fill="#222" stroke="#222" stroke-width="0.1" textLength="28.60" lengthAdjust="spacingAndGlyphs">CD41<tspan dy="-2.2" font-size="3.6">lo</tspan><tspan dy="2.2"> HSC</tspan></text>
<text x="291.00" y="219.00" font-size="5.9" fill="#222" stroke="#222" stroke-width="0.1" textLength="28.60" lengthAdjust="spacingAndGlyphs">CD41<tspan dy="-2.2" font-size="3.6">hi</tspan><tspan dy="2.2"> HSC</tspan></text>
<rect x="47.30" y="287.88" width="71.70" height="11.34" fill="#ededed"/>
<text x="48.90" y="255.20" font-size="8.6" fill="#111" stroke="#111" stroke-width="0.1" textLength="67.60" lengthAdjust="spacingAndGlyphs">Hemoglobin (g/L)</text>
<line x1="51.70" y1="297.20" x2="51.70" y2="299.72" stroke="#d6d6d6" stroke-width="0.85"/>
<line x1="50.10" y1="297.20" x2="53.30" y2="297.20" stroke="#d6d6d6" stroke-width="0.85"/>
<line x1="50.10" y1="299.72" x2="53.30" y2="299.72" stroke="#d6d6d6" stroke-width="0.85"/>
<line x1="63.94" y1="295.44" x2="63.94" y2="297.96" stroke="#d6d6d6" stroke-width="0.85"/>
<line x1="62.34" y1="295.44" x2="65.54" y2="295.44" stroke="#d6d6d6" stroke-width="0.85"/>
<line x1="62.34" y1="297.96" x2="65.54" y2="297.96" stroke="#d6d6d6" stroke-width="0.85"/>
<line x1="76.18" y1="296.70" x2="76.18" y2="299.22" stroke="#d6d6d6" stroke-width="0.85"/>
<line x1="74.58" y1="296.70" x2="77.78" y2="296.70" stroke="#d6d6d6" stroke-width="0.85"/>
<line x1="74.58" y1="299.22" x2="77.78" y2="299.22" stroke="#d6d6d6" stroke-width="0.85"/>
<line x1="88.42" y1="295.94" x2="88.42" y2="298.46" stroke="#d6d6d6" stroke-width="0.85"/>
<line x1="86.82" y1="295.94" x2="90.02" y2="295.94" stroke="#d6d6d6" stroke-width="0.85"/>
<line x1="86.82" y1="298.46" x2="90.02" y2="298.46" stroke="#d6d6d6" stroke-width="0.85"/>
<line x1="100.66" y1="297.20" x2="100.66" y2="299.72" stroke="#d6d6d6" stroke-width="0.85"/>
<line x1="99.06" y1="297.20" x2="102.26" y2="297.20" stroke="#d6d6d6" stroke-width="0.85"/>
<line x1="99.06" y1="299.72" x2="102.26" y2="299.72" stroke="#d6d6d6" stroke-width="0.85"/>
<line x1="112.90" y1="293.68" x2="112.90" y2="296.20" stroke="#d6d6d6" stroke-width="0.85"/>
<line x1="111.30" y1="293.68" x2="114.50" y2="293.68" stroke="#d6d6d6" stroke-width="0.85"/>
<line x1="111.30" y1="296.20" x2="114.50" y2="296.20" stroke="#d6d6d6" stroke-width="0.85"/>
<polyline points="51.70,298.46 63.94,296.70 76.18,297.96 88.42,297.20 100.66,298.46 112.90,294.94" fill="none" stroke="#c2c2c2" stroke-width="1.25" stroke-linejoin="round"/>
<circle cx="51.70" cy="298.46" r="2.00" fill="#c2c2c2" stroke="#c2c2c2" stroke-width="0.5"/>
<circle cx="63.94" cy="296.70" r="2.00" fill="#c2c2c2" stroke="#c2c2c2" stroke-width="0.5"/>
<circle cx="76.18" cy="297.96" r="2.00" fill="#c2c2c2" stroke="#c2c2c2" stroke-width="0.5"/>
<circle cx="88.42" cy="297.20" r="2.00" fill="#c2c2c2" stroke="#c2c2c2" stroke-width="0.5"/>
<circle cx="100.66" cy="298.46" r="2.00" fill="#c2c2c2" stroke="#c2c2c2" stroke-width="0.5"/>
<circle cx="112.90" cy="294.94" r="2.00" fill="#c2c2c2" stroke="#c2c2c2" stroke-width="0.5"/>
<line x1="51.70" y1="296.45" x2="51.70" y2="299.47" stroke="#dedede" stroke-width="0.85"/>
<line x1="50.10" y1="296.45" x2="53.30" y2="296.45" stroke="#dedede" stroke-width="0.85"/>
<line x1="50.10" y1="299.47" x2="53.30" y2="299.47" stroke="#dedede" stroke-width="0.85"/>
<line x1="63.94" y1="294.43" x2="63.94" y2="297.46" stroke="#dedede" stroke-width="0.85"/>
<line x1="62.34" y1="294.43" x2="65.54" y2="294.43" stroke="#dedede" stroke-width="0.85"/>
<line x1="62.34" y1="297.46" x2="65.54" y2="297.46" stroke="#dedede" stroke-width="0.85"/>
<line x1="76.18" y1="295.94" x2="76.18" y2="298.97" stroke="#dedede" stroke-width="0.85"/>
<line x1="74.58" y1="295.94" x2="77.78" y2="295.94" stroke="#dedede" stroke-width="0.85"/>
<line x1="74.58" y1="298.97" x2="77.78" y2="298.97" stroke="#dedede" stroke-width="0.85"/>
<line x1="88.42" y1="295.19" x2="88.42" y2="298.21" stroke="#dedede" stroke-width="0.85"/>
<line x1="86.82" y1="295.19" x2="90.02" y2="295.19" stroke="#dedede" stroke-width="0.85"/>
<line x1="86.82" y1="298.21" x2="90.02" y2="298.21" stroke="#dedede" stroke-width="0.85"/>
<line x1="100.66" y1="296.45" x2="100.66" y2="299.47" stroke="#dedede" stroke-width="0.85"/>
<line x1="99.06" y1="296.45" x2="102.26" y2="296.45" stroke="#dedede" stroke-width="0.85"/>
<line x1="99.06" y1="299.47" x2="102.26" y2="299.47" stroke="#dedede" stroke-width="0.85"/>
<line x1="112.90" y1="292.67" x2="112.90" y2="295.69" stroke="#dedede" stroke-width="0.85"/>
<line x1="111.30" y1="292.67" x2="114.50" y2="292.67" stroke="#dedede" stroke-width="0.85"/>
<line x1="111.30" y1="295.69" x2="114.50" y2="295.69" stroke="#dedede" stroke-width="0.85"/>
<polyline points="51.70,297.96 63.94,295.94 76.18,297.46 88.42,296.70 100.66,297.96 112.90,294.18" fill="none" stroke="#d4d4d4" stroke-width="1.25" stroke-linejoin="round" stroke-dasharray="2.6,1.5"/>
<circle cx="51.70" cy="297.96" r="1.90" fill="#fff" stroke="#d4d4d4" stroke-width="0.8"/>
<circle cx="63.94" cy="295.94" r="1.90" fill="#fff" stroke="#d4d4d4" stroke-width="0.8"/>
<circle cx="76.18" cy="297.46" r="1.90" fill="#fff" stroke="#d4d4d4" stroke-width="0.8"/>
<circle cx="88.42" cy="296.70" r="1.90" fill="#fff" stroke="#d4d4d4" stroke-width="0.8"/>
<circle cx="100.66" cy="297.96" r="1.90" fill="#fff" stroke="#d4d4d4" stroke-width="0.8"/>
<circle cx="112.90" cy="294.18" r="1.90" fill="#fff" stroke="#d4d4d4" stroke-width="0.8"/>
<line x1="51.70" y1="292.92" x2="51.70" y2="295.44" stroke="#7d8ad0" stroke-width="0.85"/>
<line x1="50.10" y1="292.92" x2="53.30" y2="292.92" stroke="#7d8ad0" stroke-width="0.85"/>
<line x1="50.10" y1="295.44" x2="53.30" y2="295.44" stroke="#7d8ad0" stroke-width="0.85"/>
<line x1="63.94" y1="289.14" x2="63.94" y2="291.66" stroke="#7d8ad0" stroke-width="0.85"/>
<line x1="62.34" y1="289.14" x2="65.54" y2="289.14" stroke="#7d8ad0" stroke-width="0.85"/>
<line x1="62.34" y1="291.66" x2="65.54" y2="291.66" stroke="#7d8ad0" stroke-width="0.85"/>
<line x1="76.18" y1="293.42" x2="76.18" y2="294.94" stroke="#7d8ad0" stroke-width="0.85"/>
<line x1="74.58" y1="293.42" x2="77.78" y2="293.42" stroke="#7d8ad0" stroke-width="0.85"/>
<line x1="74.58" y1="294.94" x2="77.78" y2="294.94" stroke="#7d8ad0" stroke-width="0.85"/>
<line x1="88.42" y1="292.92" x2="88.42" y2="294.43" stroke="#7d8ad0" stroke-width="0.85"/>
<line x1="86.82" y1="292.92" x2="90.02" y2="292.92" stroke="#7d8ad0" stroke-width="0.85"/>
<line x1="86.82" y1="294.43" x2="90.02" y2="294.43" stroke="#7d8ad0" stroke-width="0.85"/>
<polyline points="51.70,294.18 63.94,290.40 76.18,294.18 88.42,293.68" fill="none" stroke="#3b4ba3" stroke-width="1.25" stroke-linejoin="round"/>
<polygon points="51.70,291.98 53.90,295.94 49.50,295.94" fill="#3b4ba3" stroke="#3b4ba3" stroke-width="0.5"/>
<polygon points="63.94,288.20 66.14,292.16 61.74,292.16" fill="#3b4ba3" stroke="#3b4ba3" stroke-width="0.5"/>
<polygon points="76.18,291.98 78.38,295.94 73.98,295.94" fill="#3b4ba3" stroke="#3b4ba3" stroke-width="0.5"/>
<polygon points="88.42,291.48 90.62,295.44 86.22,295.44" fill="#3b4ba3" stroke="#3b4ba3" stroke-width="0.5"/>
<line x1="51.70" y1="289.64" x2="51.70" y2="293.68" stroke="#7d8ad0" stroke-width="0.85"/>
<line x1="50.10" y1="289.64" x2="53.30" y2="289.64" stroke="#7d8ad0" stroke-width="0.85"/>
<line x1="50.10" y1="293.68" x2="53.30" y2="293.68" stroke="#7d8ad0" stroke-width="0.85"/>
<line x1="63.94" y1="281.58" x2="63.94" y2="286.62" stroke="#7d8ad0" stroke-width="0.85"/>
<line x1="62.34" y1="281.58" x2="65.54" y2="281.58" stroke="#7d8ad0" stroke-width="0.85"/>
<line x1="62.34" y1="286.62" x2="65.54" y2="286.62" stroke="#7d8ad0" stroke-width="0.85"/>
<line x1="76.18" y1="278.56" x2="76.18" y2="284.60" stroke="#7d8ad0" stroke-width="0.85"/>
<line x1="74.58" y1="278.56" x2="77.78" y2="278.56" stroke="#7d8ad0" stroke-width="0.85"/>
<line x1="74.58" y1="284.60" x2="77.78" y2="284.60" stroke="#7d8ad0" stroke-width="0.85"/>
<line x1="88.42" y1="276.04" x2="88.42" y2="282.08" stroke="#7d8ad0" stroke-width="0.85"/>
<line x1="86.82" y1="276.04" x2="90.02" y2="276.04" stroke="#7d8ad0" stroke-width="0.85"/>
<line x1="86.82" y1="282.08" x2="90.02" y2="282.08" stroke="#7d8ad0" stroke-width="0.85"/>
<polyline points="51.70,291.66 63.94,284.10 76.18,281.58 88.42,279.06" fill="none" stroke="#6070c0" stroke-width="1.25" stroke-linejoin="round" stroke-dasharray="3,1.6"/>
<polygon points="51.70,289.46 53.90,293.42 49.50,293.42" fill="#fff" stroke="#6070c0" stroke-width="0.8"/>
<polygon points="63.94,281.90 66.14,285.86 61.74,285.86" fill="#fff" stroke="#6070c0" stroke-width="0.8"/>
<polygon points="76.18,279.38 78.38,283.34 73.98,283.34" fill="#fff" stroke="#6070c0" stroke-width="0.8"/>
<polygon points="88.42,276.86 90.62,280.82 86.22,280.82" fill="#fff" stroke="#6070c0" stroke-width="0.8"/>
<line x1="51.70" y1="300.48" x2="51.70" y2="303.00" stroke="#e57b6f" stroke-width="0.85"/>
<line x1="50.10" y1="300.48" x2="53.30" y2="300.48" stroke="#e57b6f" stroke-width="0.85"/>
<line x1="50.10" y1="303.00" x2="53.30" y2="303.00" stroke="#e57b6f" stroke-width="0.85"/>
<line x1="63.94" y1="295.69" x2="63.94" y2="301.74" stroke="#e57b6f" stroke-width="0.85"/>
<line x1="62.34" y1="295.69" x2="65.54" y2="295.69" stroke="#e57b6f" stroke-width="0.85"/>
<line x1="62.34" y1="301.74" x2="65.54" y2="301.74" stroke="#e57b6f" stroke-width="0.85"/>
<line x1="76.18" y1="295.44" x2="76.18" y2="299.47" stroke="#e57b6f" stroke-width="0.85"/>
<line x1="74.58" y1="295.44" x2="77.78" y2="295.44" stroke="#e57b6f" stroke-width="0.85"/>
<line x1="74.58" y1="299.47" x2="77.78" y2="299.47" stroke="#e57b6f" stroke-width="0.85"/>
<line x1="88.42" y1="295.94" x2="88.42" y2="298.97" stroke="#e57b6f" stroke-width="0.85"/>
<line x1="86.82" y1="295.94" x2="90.02" y2="295.94" stroke="#e57b6f" stroke-width="0.85"/>
<line x1="86.82" y1="298.97" x2="90.02" y2="298.97" stroke="#e57b6f" stroke-width="0.85"/>
<line x1="100.66" y1="297.20" x2="100.66" y2="301.24" stroke="#e57b6f" stroke-width="0.85"/>
<line x1="99.06" y1="297.20" x2="102.26" y2="297.20" stroke="#e57b6f" stroke-width="0.85"/>
<line x1="99.06" y1="301.24" x2="102.26" y2="301.24" stroke="#e57b6f" stroke-width="0.85"/>
<line x1="112.90" y1="294.68" x2="112.90" y2="297.20" stroke="#e57b6f" stroke-width="0.85"/>
<line x1="111.30" y1="294.68" x2="114.50" y2="294.68" stroke="#e57b6f" stroke-width="0.85"/>
<line x1="111.30" y1="297.20" x2="114.50" y2="297.20" stroke="#e57b6f" stroke-width="0.85"/>
<polyline points="51.70,301.74 63.94,298.72 76.18,297.46 88.42,297.46 100.66,299.22 112.90,295.94" fill="none" stroke="#d12a1c" stroke-width="1.25" stroke-linejoin="round"/>
<circle cx="51.70" cy="301.74" r="2.00" fill="#d12a1c" stroke="#d12a1c" stroke-width="0.5"/>
<circle cx="63.94" cy="298.72" r="2.00" fill="#d12a1c" stroke="#d12a1c" stroke-width="0.5"/>
<circle cx="76.18" cy="297.46" r="2.00" fill="#d12a1c" stroke="#d12a1c" stroke-width="0.5"/>
<circle cx="88.42" cy="297.46" r="2.00" fill="#d12a1c" stroke="#d12a1c" stroke-width="0.5"/>
<circle cx="100.66" cy="299.22" r="2.00" fill="#d12a1c" stroke="#d12a1c" stroke-width="0.5"/>
<circle cx="112.90" cy="295.94" r="2.00" fill="#d12a1c" stroke="#d12a1c" stroke-width="0.5"/>
<line x1="51.70" y1="294.18" x2="51.70" y2="299.22" stroke="#e57b6f" stroke-width="0.85"/>
<line x1="50.10" y1="294.18" x2="53.30" y2="294.18" stroke="#e57b6f" stroke-width="0.85"/>
<line x1="50.10" y1="299.22" x2="53.30" y2="299.22" stroke="#e57b6f" stroke-width="0.85"/>
<line x1="63.94" y1="283.60" x2="63.94" y2="289.64" stroke="#e57b6f" stroke-width="0.85"/>
<line x1="62.34" y1="283.60" x2="65.54" y2="283.60" stroke="#e57b6f" stroke-width="0.85"/>
<line x1="62.34" y1="289.64" x2="65.54" y2="289.64" stroke="#e57b6f" stroke-width="0.85"/>
<line x1="76.18" y1="276.54" x2="76.18" y2="284.10" stroke="#e57b6f" stroke-width="0.85"/>
<line x1="74.58" y1="276.54" x2="77.78" y2="276.54" stroke="#e57b6f" stroke-width="0.85"/>
<line x1="74.58" y1="284.10" x2="77.78" y2="284.10" stroke="#e57b6f" stroke-width="0.85"/>
<line x1="88.42" y1="276.54" x2="88.42" y2="284.10" stroke="#e57b6f" stroke-width="0.85"/>
<line x1="86.82" y1="276.54" x2="90.02" y2="276.54" stroke="#e57b6f" stroke-width="0.85"/>
<line x1="86.82" y1="284.10" x2="90.02" y2="284.10" stroke="#e57b6f" stroke-width="0.85"/>
<line x1="100.66" y1="281.08" x2="100.66" y2="288.64" stroke="#e57b6f" stroke-width="0.85"/>
<line x1="99.06" y1="281.08" x2="102.26" y2="281.08" stroke="#e57b6f" stroke-width="0.85"/>
<line x1="99.06" y1="288.64" x2="102.26" y2="288.64" stroke="#e57b6f" stroke-width="0.85"/>
<line x1="112.90" y1="283.09" x2="112.90" y2="289.14" stroke="#e57b6f" stroke-width="0.85"/>
<line x1="111.30" y1="283.09" x2="114.50" y2="283.09" stroke="#e57b6f" stroke-width="0.85"/>
<line x1="111.30" y1="289.14" x2="114.50" y2="289.14" stroke="#e57b6f" stroke-width="0.85"/>
<polyline points="51.70,296.70 63.94,286.62 76.18,280.32 88.42,280.32 100.66,284.86 112.90,286.12" fill="none" stroke="#de5243" stroke-width="1.25" stroke-linejoin="round" stroke-dasharray="3,1.6"/>
<circle cx="51.70" cy="296.70" r="1.90" fill="#fff" stroke="#de5243" stroke-width="0.8"/>
<circle cx="63.94" cy="286.62" r="1.90" fill="#fff" stroke="#de5243" stroke-width="0.8"/>
<circle cx="76.18" cy="280.32" r="1.90" fill="#fff" stroke="#de5243" stroke-width="0.8"/>
<circle cx="88.42" cy="280.32" r="1.90" fill="#fff" stroke="#de5243" stroke-width="0.8"/>
<circle cx="100.66" cy="284.86" r="1.90" fill="#fff" stroke="#de5243" stroke-width="0.8"/>
<circle cx="112.90" cy="286.12" r="1.90" fill="#fff" stroke="#de5243" stroke-width="0.8"/>
<circle cx="63.94" cy="274.27" r="0.72" fill="#4858b8"/>
<circle cx="63.94" cy="277.30" r="0.72" fill="#dc3325"/>
<circle cx="74.28" cy="268.22" r="0.72" fill="#4858b8"/>
<circle cx="76.18" cy="268.22" r="0.72" fill="#4858b8"/>
<circle cx="78.08" cy="268.22" r="0.72" fill="#4858b8"/>
<circle cx="75.23" cy="271.25" r="0.72" fill="#dc3325"/>
<circle cx="77.13" cy="271.25" r="0.72" fill="#dc3325"/>
<circle cx="85.57" cy="268.22" r="0.72" fill="#4858b8"/>
<circle cx="87.47" cy="268.22" r="0.72" fill="#4858b8"/>
<circle cx="89.37" cy="268.22" r="0.72" fill="#4858b8"/>
<circle cx="91.27" cy="268.22" r="0.72" fill="#4858b8"/>
<circle cx="87.47" cy="271.25" r="0.72" fill="#dc3325"/>
<circle cx="89.37" cy="271.25" r="0.72" fill="#dc3325"/>
<circle cx="99.71" cy="278.05" r="0.72" fill="#dc3325"/>
<circle cx="101.61" cy="278.05" r="0.72" fill="#dc3325"/>
<circle cx="112.90" cy="279.06" r="0.72" fill="#dc3325"/>
<line x1="45.80" y1="328.20" x2="45.80" y2="262.20" stroke="#1a1a1a" stroke-width="1.3"/>
<line x1="42.80" y1="328.20" x2="45.80" y2="328.20" stroke="#1a1a1a" stroke-width="0.9"/>
<text x="39.40" y="330.54" font-size="6.5" text-anchor="end" fill="#222" stroke="#222" stroke-width="0.1">0</text>
<line x1="42.80" y1="315.60" x2="45.80" y2="315.60" stroke="#1a1a1a" stroke-width="0.9"/>
<text x="39.40" y="317.94" font-size="6.5" text-anchor="end" fill="#222" stroke="#222" stroke-width="0.1">50</text>
<line x1="42.80" y1="303.00" x2="45.80" y2="303.00" stroke="#1a1a1a" stroke-width="0.9"/>
<text x="39.40" y="305.34" font-size="6.5" text-anchor="end" fill="#222" stroke="#222" stroke-width="0.1">100</text>
<line x1="42.80" y1="290.40" x2="45.80" y2="290.40" stroke="#1a1a1a" stroke-width="0.9"/>
<text x="39.40" y="292.74" font-size="6.5" text-anchor="end" fill="#222" stroke="#222" stroke-width="0.1">150</text>
<line x1="42.80" y1="277.80" x2="45.80" y2="277.80" stroke="#1a1a1a" stroke-width="0.9"/>
<text x="39.40" y="280.14" font-size="6.5" text-anchor="end" fill="#222" stroke="#222" stroke-width="0.1">200</text>
<line x1="42.80" y1="265.20" x2="45.80" y2="265.20" stroke="#1a1a1a" stroke-width="0.9"/>
<text x="39.40" y="267.54" font-size="6.5" text-anchor="end" fill="#222" stroke="#222" stroke-width="0.1">250</text>
<line x1="45.30" y1="328.20" x2="119.00" y2="328.20" stroke="#1a1a1a" stroke-width="1.3"/>
<line x1="51.70" y1="328.20" x2="51.70" y2="331.10" stroke="#1a1a1a" stroke-width="0.9"/>
<text x="51.70" y="340.10" font-size="6.3" text-anchor="middle" fill="#222" stroke="#222" stroke-width="0.1">4</text>
<line x1="63.94" y1="328.20" x2="63.94" y2="331.10" stroke="#1a1a1a" stroke-width="0.9"/>
<text x="63.94" y="340.10" font-size="6.3" text-anchor="middle" fill="#222" stroke="#222" stroke-width="0.1">8</text>
<line x1="76.18" y1="328.20" x2="76.18" y2="331.10" stroke="#1a1a1a" stroke-width="0.9"/>
<text x="76.18" y="340.10" font-size="6.3" text-anchor="middle" fill="#222" stroke="#222" stroke-width="0.1">12</text>
<line x1="88.42" y1="328.20" x2="88.42" y2="331.10" stroke="#1a1a1a" stroke-width="0.9"/>
<text x="88.42" y="340.10" font-size="6.3" text-anchor="middle" fill="#222" stroke="#222" stroke-width="0.1">16</text>
<line x1="100.66" y1="328.20" x2="100.66" y2="331.10" stroke="#1a1a1a" stroke-width="0.9"/>
<text x="100.66" y="340.10" font-size="6.3" text-anchor="middle" fill="#222" stroke="#222" stroke-width="0.1">20</text>
<line x1="112.90" y1="328.20" x2="112.90" y2="331.10" stroke="#1a1a1a" stroke-width="0.9"/>
<text x="112.90" y="340.10" font-size="6.3" text-anchor="middle" fill="#222" stroke="#222" stroke-width="0.1">24</text>
<rect x="146.10" y="294.60" width="71.40" height="17.85" fill="#ededed"/>
<text x="146.80" y="255.20" font-size="8.6" fill="#111" stroke="#111" stroke-width="0.1" textLength="68.10" lengthAdjust="spacingAndGlyphs">Platelets (x10<tspan dy="-3.3" font-size="5.8">12</tspan><tspan dy="3.3">/L)</tspan></text>
<line x1="150.60" y1="314.34" x2="150.60" y2="316.86" stroke="#d6d6d6" stroke-width="0.85"/>
<line x1="149.00" y1="314.34" x2="152.20" y2="314.34" stroke="#d6d6d6" stroke-width="0.85"/>
<line x1="149.00" y1="316.86" x2="152.20" y2="316.86" stroke="#d6d6d6" stroke-width="0.85"/>
<line x1="162.84" y1="308.04" x2="162.84" y2="310.56" stroke="#d6d6d6" stroke-width="0.85"/>
<line x1="161.24" y1="308.04" x2="164.44" y2="308.04" stroke="#d6d6d6" stroke-width="0.85"/>
<line x1="161.24" y1="310.56" x2="164.44" y2="310.56" stroke="#d6d6d6" stroke-width="0.85"/>
<line x1="175.08" y1="306.99" x2="175.08" y2="309.51" stroke="#d6d6d6" stroke-width="0.85"/>
<line x1="173.48" y1="306.99" x2="176.68" y2="306.99" stroke="#d6d6d6" stroke-width="0.85"/>
<line x1="173.48" y1="309.51" x2="176.68" y2="309.51" stroke="#d6d6d6" stroke-width="0.85"/>
<line x1="187.32" y1="306.99" x2="187.32" y2="309.51" stroke="#d6d6d6" stroke-width="0.85"/>
<line x1="185.72" y1="306.99" x2="188.92" y2="306.99" stroke="#d6d6d6" stroke-width="0.85"/>
<line x1="185.72" y1="309.51" x2="188.92" y2="309.51" stroke="#d6d6d6" stroke-width="0.85"/>
<line x1="199.56" y1="305.94" x2="199.56" y2="308.46" stroke="#d6d6d6" stroke-width="0.85"/>
<line x1="197.96" y1="305.94" x2="201.16" y2="305.94" stroke="#d6d6d6" stroke-width="0.85"/>
<line x1="197.96" y1="308.46" x2="201.16" y2="308.46" stroke="#d6d6d6" stroke-width="0.85"/>
<line x1="211.80" y1="306.99" x2="211.80" y2="309.51" stroke="#d6d6d6" stroke-width="0.85"/>
<line x1="210.20" y1="306.99" x2="213.40" y2="306.99" stroke="#d6d6d6" stroke-width="0.85"/>
<line x1="210.20" y1="309.51" x2="213.40" y2="309.51" stroke="#d6d6d6" stroke-width="0.85"/>
<polyline points="150.60,315.60 162.84,309.30 175.08,308.25 187.32,308.25 199.56,307.20 211.80,308.25" fill="none" stroke="#c2c2c2" stroke-width="1.25" stroke-linejoin="round"/>
<circle cx="150.60" cy="315.60" r="2.00" fill="#c2c2c2" stroke="#c2c2c2" stroke-width="0.5"/>
<circle cx="162.84" cy="309.30" r="2.00" fill="#c2c2c2" stroke="#c2c2c2" stroke-width="0.5"/>
<circle cx="175.08" cy="308.25" r="2.00" fill="#c2c2c2" stroke="#c2c2c2" stroke-width="0.5"/>
<circle cx="187.32" cy="308.25" r="2.00" fill="#c2c2c2" stroke="#c2c2c2" stroke-width="0.5"/>
<circle cx="199.56" cy="307.20" r="2.00" fill="#c2c2c2" stroke="#c2c2c2" stroke-width="0.5"/>
<circle cx="211.80" cy="308.25" r="2.00" fill="#c2c2c2" stroke="#c2c2c2" stroke-width="0.5"/>
<line x1="150.60" y1="313.92" x2="150.60" y2="317.28" stroke="#dedede" stroke-width="0.85"/>
<line x1="149.00" y1="313.92" x2="152.20" y2="313.92" stroke="#dedede" stroke-width="0.85"/>
<line x1="149.00" y1="317.28" x2="152.20" y2="317.28" stroke="#dedede" stroke-width="0.85"/>
<line x1="162.84" y1="306.57" x2="162.84" y2="309.93" stroke="#dedede" stroke-width="0.85"/>
<line x1="161.24" y1="306.57" x2="164.44" y2="306.57" stroke="#dedede" stroke-width="0.85"/>
<line x1="161.24" y1="309.93" x2="164.44" y2="309.93" stroke="#dedede" stroke-width="0.85"/>
<line x1="175.08" y1="304.47" x2="175.08" y2="307.83" stroke="#dedede" stroke-width="0.85"/>
<line x1="173.48" y1="304.47" x2="176.68" y2="304.47" stroke="#dedede" stroke-width="0.85"/>
<line x1="173.48" y1="307.83" x2="176.68" y2="307.83" stroke="#dedede" stroke-width="0.85"/>
<line x1="187.32" y1="303.42" x2="187.32" y2="306.78" stroke="#dedede" stroke-width="0.85"/>
<line x1="185.72" y1="303.42" x2="188.92" y2="303.42" stroke="#dedede" stroke-width="0.85"/>
<line x1="185.72" y1="306.78" x2="188.92" y2="306.78" stroke="#dedede" stroke-width="0.85"/>
<line x1="199.56" y1="304.47" x2="199.56" y2="307.83" stroke="#dedede" stroke-width="0.85"/>
<line x1="197.96" y1="304.47" x2="201.16" y2="304.47" stroke="#dedede" stroke-width="0.85"/>
<line x1="197.96" y1="307.83" x2="201.16" y2="307.83" stroke="#dedede" stroke-width="0.85"/>
<line x1="211.80" y1="303.42" x2="211.80" y2="306.78" stroke="#dedede" stroke-width="0.85"/>
<line x1="210.20" y1="303.42" x2="213.40" y2="303.42" stroke="#dedede" stroke-width="0.85"/>
<line x1="210.20" y1="306.78" x2="213.40" y2="306.78" stroke="#dedede" stroke-width="0.85"/>
<polyline points="150.60,315.60 162.84,308.25 175.08,306.15 187.32,305.10 199.56,306.15 211.80,305.10" fill="none" stroke="#d4d4d4" stroke-width="1.25" stroke-linejoin="round" stroke-dasharray="2.6,1.5"/>
<circle cx="150.60" cy="315.60" r="1.90" fill="#fff" stroke="#d4d4d4" stroke-width="0.8"/>
<circle cx="162.84" cy="308.25" r="1.90" fill="#fff" stroke="#d4d4d4" stroke-width="0.8"/>
<circle cx="175.08" cy="306.15" r="1.90" fill="#fff" stroke="#d4d4d4" stroke-width="0.8"/>
<circle cx="187.32" cy="305.10" r="1.90" fill="#fff" stroke="#d4d4d4" stroke-width="0.8"/>
<circle cx="199.56" cy="306.15" r="1.90" fill="#fff" stroke="#d4d4d4" stroke-width="0.8"/>
<circle cx="211.80" cy="305.10" r="1.90" fill="#fff" stroke="#d4d4d4" stroke-width="0.8"/>
<line x1="150.60" y1="315.60" x2="150.60" y2="317.70" stroke="#7d8ad0" stroke-width="0.85"/>
<line x1="149.00" y1="315.60" x2="152.20" y2="315.60" stroke="#7d8ad0" stroke-width="0.85"/>
<line x1="149.00" y1="317.70" x2="152.20" y2="317.70" stroke="#7d8ad0" stroke-width="0.85"/>
<line x1="162.84" y1="307.62" x2="162.84" y2="310.98" stroke="#7d8ad0" stroke-width="0.85"/>
<line x1="161.24" y1="307.62" x2="164.44" y2="307.62" stroke="#7d8ad0" stroke-width="0.85"/>
<line x1="161.24" y1="310.98" x2="164.44" y2="310.98" stroke="#7d8ad0" stroke-width="0.85"/>
<line x1="175.08" y1="303.00" x2="175.08" y2="307.20" stroke="#7d8ad0" stroke-width="0.85"/>
<line x1="173.48" y1="303.00" x2="176.68" y2="303.00" stroke="#7d8ad0" stroke-width="0.85"/>
<line x1="173.48" y1="307.20" x2="176.68" y2="307.20" stroke="#7d8ad0" stroke-width="0.85"/>
<line x1="187.32" y1="303.42" x2="187.32" y2="306.78" stroke="#7d8ad0" stroke-width="0.85"/>
<line x1="185.72" y1="303.42" x2="188.92" y2="303.42" stroke="#7d8ad0" stroke-width="0.85"/>
<line x1="185.72" y1="306.78" x2="188.92" y2="306.78" stroke="#7d8ad0" stroke-width="0.85"/>
<polyline points="150.60,316.65 162.84,309.30 175.08,305.10 187.32,305.10" fill="none" stroke="#3b4ba3" stroke-width="1.25" stroke-linejoin="round"/>
<polygon points="150.60,314.45 152.80,318.41 148.40,318.41" fill="#3b4ba3" stroke="#3b4ba3" stroke-width="0.5"/>
<polygon points="162.84,307.10 165.04,311.06 160.64,311.06" fill="#3b4ba3" stroke="#3b4ba3" stroke-width="0.5"/>
<polygon points="175.08,302.90 177.28,306.86 172.88,306.86" fill="#3b4ba3" stroke="#3b4ba3" stroke-width="0.5"/>
<polygon points="187.32,302.90 189.52,306.86 185.12,306.86" fill="#3b4ba3" stroke="#3b4ba3" stroke-width="0.5"/>
<line x1="150.60" y1="316.65" x2="150.60" y2="318.75" stroke="#7d8ad0" stroke-width="0.85"/>
<line x1="149.00" y1="316.65" x2="152.20" y2="316.65" stroke="#7d8ad0" stroke-width="0.85"/>
<line x1="149.00" y1="318.75" x2="152.20" y2="318.75" stroke="#7d8ad0" stroke-width="0.85"/>
<line x1="162.84" y1="306.15" x2="162.84" y2="310.35" stroke="#7d8ad0" stroke-width="0.85"/>
<line x1="161.24" y1="306.15" x2="164.44" y2="306.15" stroke="#7d8ad0" stroke-width="0.85"/>
<line x1="161.24" y1="310.35" x2="164.44" y2="310.35" stroke="#7d8ad0" stroke-width="0.85"/>
<line x1="175.08" y1="295.65" x2="175.08" y2="306.15" stroke="#7d8ad0" stroke-width="0.85"/>
<line x1="173.48" y1="295.65" x2="176.68" y2="295.65" stroke="#7d8ad0" stroke-width="0.85"/>
<line x1="173.48" y1="306.15" x2="176.68" y2="306.15" stroke="#7d8ad0" stroke-width="0.85"/>
<line x1="187.32" y1="280.95" x2="187.32" y2="306.15" stroke="#7d8ad0" stroke-width="0.85"/>
<line x1="185.72" y1="280.95" x2="188.92" y2="280.95" stroke="#7d8ad0" stroke-width="0.85"/>
<line x1="185.72" y1="306.15" x2="188.92" y2="306.15" stroke="#7d8ad0" stroke-width="0.85"/>
<polyline points="150.60,317.70 162.84,308.25 175.08,300.90 187.32,293.55" fill="none" stroke="#6070c0" stroke-width="1.25" stroke-linejoin="round" stroke-dasharray="3,1.6"/>
<polygon points="150.60,315.50 152.80,319.46 148.40,319.46" fill="#fff" stroke="#6070c0" stroke-width="0.8"/>
<polygon points="162.84,306.05 165.04,310.01 160.64,310.01" fill="#fff" stroke="#6070c0" stroke-width="0.8"/>
<polygon points="175.08,298.70 177.28,302.66 172.88,302.66" fill="#fff" stroke="#6070c0" stroke-width="0.8"/>
<polygon points="187.32,291.35 189.52,295.31 185.12,295.31" fill="#fff" stroke="#6070c0" stroke-width="0.8"/>
<line x1="150.60" y1="308.25" x2="150.60" y2="314.55" stroke="#e57b6f" stroke-width="0.85"/>
<line x1="149.00" y1="308.25" x2="152.20" y2="308.25" stroke="#e57b6f" stroke-width="0.85"/>
<line x1="149.00" y1="314.55" x2="152.20" y2="314.55" stroke="#e57b6f" stroke-width="0.85"/>
<line x1="162.84" y1="304.05" x2="162.84" y2="308.25" stroke="#e57b6f" stroke-width="0.85"/>
<line x1="161.24" y1="304.05" x2="164.44" y2="304.05" stroke="#e57b6f" stroke-width="0.85"/>
<line x1="161.24" y1="308.25" x2="164.44" y2="308.25" stroke="#e57b6f" stroke-width="0.85"/>
<line x1="175.08" y1="300.48" x2="175.08" y2="305.52" stroke="#e57b6f" stroke-width="0.85"/>
<line x1="173.48" y1="300.48" x2="176.68" y2="300.48" stroke="#e57b6f" stroke-width="0.85"/>
<line x1="173.48" y1="305.52" x2="176.68" y2="305.52" stroke="#e57b6f" stroke-width="0.85"/>
<line x1="187.32" y1="299.85" x2="187.32" y2="306.15" stroke="#e57b6f" stroke-width="0.85"/>
<line x1="185.72" y1="299.85" x2="188.92" y2="299.85" stroke="#e57b6f" stroke-width="0.85"/>
<line x1="185.72" y1="306.15" x2="188.92" y2="306.15" stroke="#e57b6f" stroke-width="0.85"/>
<line x1="199.56" y1="296.70" x2="199.56" y2="304.26" stroke="#e57b6f" stroke-width="0.85"/>
<line x1="197.96" y1="296.70" x2="201.16" y2="296.70" stroke="#e57b6f" stroke-width="0.85"/>
<line x1="197.96" y1="304.26" x2="201.16" y2="304.26" stroke="#e57b6f" stroke-width="0.85"/>
<line x1="211.80" y1="293.55" x2="211.80" y2="304.05" stroke="#e57b6f" stroke-width="0.85"/>
<line x1="210.20" y1="293.55" x2="213.40" y2="293.55" stroke="#e57b6f" stroke-width="0.85"/>
<line x1="210.20" y1="304.05" x2="213.40" y2="304.05" stroke="#e57b6f" stroke-width="0.85"/>
<polyline points="150.60,311.40 162.84,306.15 175.08,303.00 187.32,303.00 199.56,300.48 211.80,298.80" fill="none" stroke="#d12a1c" stroke-width="1.25" stroke-linejoin="round"/>
<circle cx="150.60" cy="311.40" r="2.00" fill="#d12a1c" stroke="#d12a1c" stroke-width="0.5"/>
<circle cx="162.84" cy="306.15" r="2.00" fill="#d12a1c" stroke="#d12a1c" stroke-width="0.5"/>
<circle cx="175.08" cy="303.00" r="2.00" fill="#d12a1c" stroke="#d12a1c" stroke-width="0.5"/>
<circle cx="187.32" cy="303.00" r="2.00" fill="#d12a1c" stroke="#d12a1c" stroke-width="0.5"/>
<circle cx="199.56" cy="300.48" r="2.00" fill="#d12a1c" stroke="#d12a1c" stroke-width="0.5"/>
<circle cx="211.80" cy="298.80" r="2.00" fill="#d12a1c" stroke="#d12a1c" stroke-width="0.5"/>
<line x1="150.60" y1="315.60" x2="150.60" y2="317.70" stroke="#e57b6f" stroke-width="0.85"/>
<line x1="149.00" y1="315.60" x2="152.20" y2="315.60" stroke="#e57b6f" stroke-width="0.85"/>
<line x1="149.00" y1="317.70" x2="152.20" y2="317.70" stroke="#e57b6f" stroke-width="0.85"/>
<line x1="162.84" y1="312.87" x2="162.84" y2="316.23" stroke="#e57b6f" stroke-width="0.85"/>
<line x1="161.24" y1="312.87" x2="164.44" y2="312.87" stroke="#e57b6f" stroke-width="0.85"/>
<line x1="161.24" y1="316.23" x2="164.44" y2="316.23" stroke="#e57b6f" stroke-width="0.85"/>
<line x1="175.08" y1="314.97" x2="175.08" y2="318.33" stroke="#e57b6f" stroke-width="0.85"/>
<line x1="173.48" y1="314.97" x2="176.68" y2="314.97" stroke="#e57b6f" stroke-width="0.85"/>
<line x1="173.48" y1="318.33" x2="176.68" y2="318.33" stroke="#e57b6f" stroke-width="0.85"/>
<line x1="187.32" y1="314.13" x2="187.32" y2="319.17" stroke="#e57b6f" stroke-width="0.85"/>
<line x1="185.72" y1="314.13" x2="188.92" y2="314.13" stroke="#e57b6f" stroke-width="0.85"/>
<line x1="185.72" y1="319.17" x2="188.92" y2="319.17" stroke="#e57b6f" stroke-width="0.85"/>
<line x1="199.56" y1="314.55" x2="199.56" y2="320.85" stroke="#e57b6f" stroke-width="0.85"/>
<line x1="197.96" y1="314.55" x2="201.16" y2="314.55" stroke="#e57b6f" stroke-width="0.85"/>
<line x1="197.96" y1="320.85" x2="201.16" y2="320.85" stroke="#e57b6f" stroke-width="0.85"/>
<line x1="211.80" y1="310.77" x2="211.80" y2="318.33" stroke="#e57b6f" stroke-width="0.85"/>
<line x1="210.20" y1="310.77" x2="213.40" y2="310.77" stroke="#e57b6f" stroke-width="0.85"/>
<line x1="210.20" y1="318.33" x2="213.40" y2="318.33" stroke="#e57b6f" stroke-width="0.85"/>
<polyline points="150.60,316.65 162.84,314.55 175.08,316.65 187.32,316.65 199.56,317.70 211.80,314.55" fill="none" stroke="#de5243" stroke-width="1.25" stroke-linejoin="round" stroke-dasharray="3,1.6"/>
<circle cx="150.60" cy="316.65" r="1.90" fill="#fff" stroke="#de5243" stroke-width="0.8"/>
<circle cx="162.84" cy="314.55" r="1.90" fill="#fff" stroke="#de5243" stroke-width="0.8"/>
<circle cx="175.08" cy="316.65" r="1.90" fill="#fff" stroke="#de5243" stroke-width="0.8"/>
<circle cx="187.32" cy="316.65" r="1.90" fill="#fff" stroke="#de5243" stroke-width="0.8"/>
<circle cx="199.56" cy="317.70" r="1.90" fill="#fff" stroke="#de5243" stroke-width="0.8"/>
<circle cx="211.80" cy="314.55" r="1.90" fill="#fff" stroke="#de5243" stroke-width="0.8"/>
<circle cx="198.61" cy="286.83" r="0.72" fill="#dc3325"/>
<circle cx="200.51" cy="286.83" r="0.72" fill="#dc3325"/>
<circle cx="211.80" cy="288.93" r="0.72" fill="#dc3325"/>
<line x1="144.60" y1="328.20" x2="144.60" y2="262.20" stroke="#1a1a1a" stroke-width="1.3"/>
<line x1="141.60" y1="328.20" x2="144.60" y2="328.20" stroke="#1a1a1a" stroke-width="0.9"/>
<text x="138.20" y="330.54" font-size="6.5" text-anchor="end" fill="#222" stroke="#222" stroke-width="0.1">0</text>
<line x1="141.60" y1="307.20" x2="144.60" y2="307.20" stroke="#1a1a1a" stroke-width="0.9"/>
<text x="138.20" y="309.54" font-size="6.5" text-anchor="end" fill="#222" stroke="#222" stroke-width="0.1">1</text>
<line x1="141.60" y1="286.20" x2="144.60" y2="286.20" stroke="#1a1a1a" stroke-width="0.9"/>
<text x="138.20" y="288.54" font-size="6.5" text-anchor="end" fill="#222" stroke="#222" stroke-width="0.1">2</text>
<line x1="141.60" y1="265.20" x2="144.60" y2="265.20" stroke="#1a1a1a" stroke-width="0.9"/>
<text x="138.20" y="267.54" font-size="6.5" text-anchor="end" fill="#222" stroke="#222" stroke-width="0.1">3</text>
<line x1="144.10" y1="328.20" x2="217.50" y2="328.20" stroke="#1a1a1a" stroke-width="1.3"/>
<line x1="150.60" y1="328.20" x2="150.60" y2="331.10" stroke="#1a1a1a" stroke-width="0.9"/>
<text x="150.60" y="340.10" font-size="6.3" text-anchor="middle" fill="#222" stroke="#222" stroke-width="0.1">4</text>
<line x1="162.84" y1="328.20" x2="162.84" y2="331.10" stroke="#1a1a1a" stroke-width="0.9"/>
<text x="162.84" y="340.10" font-size="6.3" text-anchor="middle" fill="#222" stroke="#222" stroke-width="0.1">8</text>
<line x1="175.08" y1="328.20" x2="175.08" y2="331.10" stroke="#1a1a1a" stroke-width="0.9"/>
<text x="175.08" y="340.10" font-size="6.3" text-anchor="middle" fill="#222" stroke="#222" stroke-width="0.1">12</text>
<line x1="187.32" y1="328.20" x2="187.32" y2="331.10" stroke="#1a1a1a" stroke-width="0.9"/>
<text x="187.32" y="340.10" font-size="6.3" text-anchor="middle" fill="#222" stroke="#222" stroke-width="0.1">16</text>
<line x1="199.56" y1="328.20" x2="199.56" y2="331.10" stroke="#1a1a1a" stroke-width="0.9"/>
<text x="199.56" y="340.10" font-size="6.3" text-anchor="middle" fill="#222" stroke="#222" stroke-width="0.1">20</text>
<line x1="211.80" y1="328.20" x2="211.80" y2="331.10" stroke="#1a1a1a" stroke-width="0.9"/>
<text x="211.80" y="340.10" font-size="6.3" text-anchor="middle" fill="#222" stroke="#222" stroke-width="0.1">24</text>
<rect x="244.60" y="303.00" width="71.20" height="23.31" fill="#ededed"/>
<text x="241.10" y="255.20" font-size="8.6" fill="#111" stroke="#111" stroke-width="0.1" textLength="76.80" lengthAdjust="spacingAndGlyphs">Neutrophils (x10<tspan dy="-3.3" font-size="5.8">9</tspan><tspan dy="3.3">/L)</tspan></text>
<line x1="249.20" y1="320.26" x2="249.20" y2="322.28" stroke="#d6d6d6" stroke-width="0.85"/>
<line x1="247.60" y1="320.26" x2="250.80" y2="320.26" stroke="#d6d6d6" stroke-width="0.85"/>
<line x1="247.60" y1="322.28" x2="250.80" y2="322.28" stroke="#d6d6d6" stroke-width="0.85"/>
<line x1="261.32" y1="319.00" x2="261.32" y2="321.02" stroke="#d6d6d6" stroke-width="0.85"/>
<line x1="259.72" y1="319.00" x2="262.92" y2="319.00" stroke="#d6d6d6" stroke-width="0.85"/>
<line x1="259.72" y1="321.02" x2="262.92" y2="321.02" stroke="#d6d6d6" stroke-width="0.85"/>
<line x1="273.44" y1="318.37" x2="273.44" y2="320.39" stroke="#d6d6d6" stroke-width="0.85"/>
<line x1="271.84" y1="318.37" x2="275.04" y2="318.37" stroke="#d6d6d6" stroke-width="0.85"/>
<line x1="271.84" y1="320.39" x2="275.04" y2="320.39" stroke="#d6d6d6" stroke-width="0.85"/>
<line x1="285.56" y1="322.15" x2="285.56" y2="324.17" stroke="#d6d6d6" stroke-width="0.85"/>
<line x1="283.96" y1="322.15" x2="287.16" y2="322.15" stroke="#d6d6d6" stroke-width="0.85"/>
<line x1="283.96" y1="324.17" x2="287.16" y2="324.17" stroke="#d6d6d6" stroke-width="0.85"/>
<line x1="297.68" y1="319.63" x2="297.68" y2="321.65" stroke="#d6d6d6" stroke-width="0.85"/>
<line x1="296.08" y1="319.63" x2="299.28" y2="319.63" stroke="#d6d6d6" stroke-width="0.85"/>
<line x1="296.08" y1="321.65" x2="299.28" y2="321.65" stroke="#d6d6d6" stroke-width="0.85"/>
<line x1="309.80" y1="318.37" x2="309.80" y2="320.39" stroke="#d6d6d6" stroke-width="0.85"/>
<line x1="308.20" y1="318.37" x2="311.40" y2="318.37" stroke="#d6d6d6" stroke-width="0.85"/>
<line x1="308.20" y1="320.39" x2="311.40" y2="320.39" stroke="#d6d6d6" stroke-width="0.85"/>
<polyline points="249.20,321.27 261.32,320.01 273.44,319.38 285.56,323.16 297.68,320.64 309.80,319.38" fill="none" stroke="#c2c2c2" stroke-width="1.25" stroke-linejoin="round"/>
<circle cx="249.20" cy="321.27" r="2.00" fill="#c2c2c2" stroke="#c2c2c2" stroke-width="0.5"/>
<circle cx="261.32" cy="320.01" r="2.00" fill="#c2c2c2" stroke="#c2c2c2" stroke-width="0.5"/>
<circle cx="273.44" cy="319.38" r="2.00" fill="#c2c2c2" stroke="#c2c2c2" stroke-width="0.5"/>
<circle cx="285.56" cy="323.16" r="2.00" fill="#c2c2c2" stroke="#c2c2c2" stroke-width="0.5"/>
<circle cx="297.68" cy="320.64" r="2.00" fill="#c2c2c2" stroke="#c2c2c2" stroke-width="0.5"/>
<circle cx="309.80" cy="319.38" r="2.00" fill="#c2c2c2" stroke="#c2c2c2" stroke-width="0.5"/>
<line x1="249.20" y1="319.38" x2="249.20" y2="321.90" stroke="#dedede" stroke-width="0.85"/>
<line x1="247.60" y1="319.38" x2="250.80" y2="319.38" stroke="#dedede" stroke-width="0.85"/>
<line x1="247.60" y1="321.90" x2="250.80" y2="321.90" stroke="#dedede" stroke-width="0.85"/>
<line x1="261.32" y1="317.49" x2="261.32" y2="320.01" stroke="#dedede" stroke-width="0.85"/>
<line x1="259.72" y1="317.49" x2="262.92" y2="317.49" stroke="#dedede" stroke-width="0.85"/>
<line x1="259.72" y1="320.01" x2="262.92" y2="320.01" stroke="#dedede" stroke-width="0.85"/>
<line x1="273.44" y1="315.60" x2="273.44" y2="318.12" stroke="#dedede" stroke-width="0.85"/>
<line x1="271.84" y1="315.60" x2="275.04" y2="315.60" stroke="#dedede" stroke-width="0.85"/>
<line x1="271.84" y1="318.12" x2="275.04" y2="318.12" stroke="#dedede" stroke-width="0.85"/>
<line x1="285.56" y1="322.53" x2="285.56" y2="325.05" stroke="#dedede" stroke-width="0.85"/>
<line x1="283.96" y1="322.53" x2="287.16" y2="322.53" stroke="#dedede" stroke-width="0.85"/>
<line x1="283.96" y1="325.05" x2="287.16" y2="325.05" stroke="#dedede" stroke-width="0.85"/>
<line x1="297.68" y1="320.64" x2="297.68" y2="323.16" stroke="#dedede" stroke-width="0.85"/>
<line x1="296.08" y1="320.64" x2="299.28" y2="320.64" stroke="#dedede" stroke-width="0.85"/>
<line x1="296.08" y1="323.16" x2="299.28" y2="323.16" stroke="#dedede" stroke-width="0.85"/>
<line x1="309.80" y1="320.64" x2="309.80" y2="323.16" stroke="#dedede" stroke-width="0.85"/>
<line x1="308.20" y1="320.64" x2="311.40" y2="320.64" stroke="#dedede" stroke-width="0.85"/>
<line x1="308.20" y1="323.16" x2="311.40" y2="323.16" stroke="#dedede" stroke-width="0.85"/>
<polyline points="249.20,320.64 261.32,318.75 273.44,316.86 285.56,323.79 297.68,321.90 309.80,321.90" fill="none" stroke="#d4d4d4" stroke-width="1.25" stroke-linejoin="round" stroke-dasharray="2.6,1.5"/>
<circle cx="249.20" cy="320.64" r="1.90" fill="#fff" stroke="#d4d4d4" stroke-width="0.8"/>
<circle cx="261.32" cy="318.75" r="1.90" fill="#fff" stroke="#d4d4d4" stroke-width="0.8"/>
<circle cx="273.44" cy="316.86" r="1.90" fill="#fff" stroke="#d4d4d4" stroke-width="0.8"/>
<circle cx="285.56" cy="323.79" r="1.90" fill="#fff" stroke="#d4d4d4" stroke-width="0.8"/>
<circle cx="297.68" cy="321.90" r="1.90" fill="#fff" stroke="#d4d4d4" stroke-width="0.8"/>
<circle cx="309.80" cy="321.90" r="1.90" fill="#fff" stroke="#d4d4d4" stroke-width="0.8"/>
<line x1="249.20" y1="323.66" x2="249.20" y2="325.18" stroke="#7d8ad0" stroke-width="0.85"/>
<line x1="247.60" y1="323.66" x2="250.80" y2="323.66" stroke="#7d8ad0" stroke-width="0.85"/>
<line x1="247.60" y1="325.18" x2="250.80" y2="325.18" stroke="#7d8ad0" stroke-width="0.85"/>
<line x1="261.32" y1="322.40" x2="261.32" y2="323.92" stroke="#7d8ad0" stroke-width="0.85"/>
<line x1="259.72" y1="322.40" x2="262.92" y2="322.40" stroke="#7d8ad0" stroke-width="0.85"/>
<line x1="259.72" y1="323.92" x2="262.92" y2="323.92" stroke="#7d8ad0" stroke-width="0.85"/>
<line x1="273.44" y1="322.40" x2="273.44" y2="323.92" stroke="#7d8ad0" stroke-width="0.85"/>
<line x1="271.84" y1="322.40" x2="275.04" y2="322.40" stroke="#7d8ad0" stroke-width="0.85"/>
<line x1="271.84" y1="323.92" x2="275.04" y2="323.92" stroke="#7d8ad0" stroke-width="0.85"/>
<line x1="285.56" y1="320.51" x2="285.56" y2="322.03" stroke="#7d8ad0" stroke-width="0.85"/>
<line x1="283.96" y1="320.51" x2="287.16" y2="320.51" stroke="#7d8ad0" stroke-width="0.85"/>
<line x1="283.96" y1="322.03" x2="287.16" y2="322.03" stroke="#7d8ad0" stroke-width="0.85"/>
<polyline points="249.20,324.42 261.32,323.16 273.44,323.16 285.56,321.27" fill="none" stroke="#3b4ba3" stroke-width="1.25" stroke-linejoin="round"/>
<polygon points="249.20,322.22 251.40,326.18 247.00,326.18" fill="#3b4ba3" stroke="#3b4ba3" stroke-width="0.5"/>
<polygon points="261.32,320.96 263.52,324.92 259.12,324.92" fill="#3b4ba3" stroke="#3b4ba3" stroke-width="0.5"/>
<polygon points="273.44,320.96 275.64,324.92 271.24,324.92" fill="#3b4ba3" stroke="#3b4ba3" stroke-width="0.5"/>
<polygon points="285.56,319.07 287.76,323.03 283.36,323.03" fill="#3b4ba3" stroke="#3b4ba3" stroke-width="0.5"/>
<line x1="249.20" y1="313.71" x2="249.20" y2="321.27" stroke="#7d8ad0" stroke-width="0.85"/>
<line x1="247.60" y1="313.71" x2="250.80" y2="313.71" stroke="#7d8ad0" stroke-width="0.85"/>
<line x1="247.60" y1="321.27" x2="250.80" y2="321.27" stroke="#7d8ad0" stroke-width="0.85"/>
<line x1="261.32" y1="314.34" x2="261.32" y2="319.38" stroke="#7d8ad0" stroke-width="0.85"/>
<line x1="259.72" y1="314.34" x2="262.92" y2="314.34" stroke="#7d8ad0" stroke-width="0.85"/>
<line x1="259.72" y1="319.38" x2="262.92" y2="319.38" stroke="#7d8ad0" stroke-width="0.85"/>
<line x1="273.44" y1="306.15" x2="273.44" y2="318.75" stroke="#7d8ad0" stroke-width="0.85"/>
<line x1="271.84" y1="306.15" x2="275.04" y2="306.15" stroke="#7d8ad0" stroke-width="0.85"/>
<line x1="271.84" y1="318.75" x2="275.04" y2="318.75" stroke="#7d8ad0" stroke-width="0.85"/>
<line x1="285.56" y1="278.43" x2="285.56" y2="304.89" stroke="#7d8ad0" stroke-width="0.85"/>
<line x1="283.96" y1="278.43" x2="287.16" y2="278.43" stroke="#7d8ad0" stroke-width="0.85"/>
<line x1="283.96" y1="304.89" x2="287.16" y2="304.89" stroke="#7d8ad0" stroke-width="0.85"/>
<polyline points="249.20,317.49 261.32,316.86 273.44,312.45 285.56,291.66" fill="none" stroke="#6070c0" stroke-width="1.25" stroke-linejoin="round" stroke-dasharray="3,1.6"/>
<polygon points="249.20,315.29 251.40,319.25 247.00,319.25" fill="#fff" stroke="#6070c0" stroke-width="0.8"/>
<polygon points="261.32,314.66 263.52,318.62 259.12,318.62" fill="#fff" stroke="#6070c0" stroke-width="0.8"/>
<polygon points="273.44,310.25 275.64,314.21 271.24,314.21" fill="#fff" stroke="#6070c0" stroke-width="0.8"/>
<polygon points="285.56,289.46 287.76,293.42 283.36,293.42" fill="#fff" stroke="#6070c0" stroke-width="0.8"/>
<line x1="249.20" y1="316.86" x2="249.20" y2="319.38" stroke="#e57b6f" stroke-width="0.85"/>
<line x1="247.60" y1="316.86" x2="250.80" y2="316.86" stroke="#e57b6f" stroke-width="0.85"/>
<line x1="247.60" y1="319.38" x2="250.80" y2="319.38" stroke="#e57b6f" stroke-width="0.85"/>
<line x1="261.32" y1="315.60" x2="261.32" y2="319.38" stroke="#e57b6f" stroke-width="0.85"/>
<line x1="259.72" y1="315.60" x2="262.92" y2="315.60" stroke="#e57b6f" stroke-width="0.85"/>
<line x1="259.72" y1="319.38" x2="262.92" y2="319.38" stroke="#e57b6f" stroke-width="0.85"/>
<line x1="273.44" y1="305.52" x2="273.44" y2="313.08" stroke="#e57b6f" stroke-width="0.85"/>
<line x1="271.84" y1="305.52" x2="275.04" y2="305.52" stroke="#e57b6f" stroke-width="0.85"/>
<line x1="271.84" y1="313.08" x2="275.04" y2="313.08" stroke="#e57b6f" stroke-width="0.85"/>
<line x1="285.56" y1="310.56" x2="285.56" y2="319.38" stroke="#e57b6f" stroke-width="0.85"/>
<line x1="283.96" y1="310.56" x2="287.16" y2="310.56" stroke="#e57b6f" stroke-width="0.85"/>
<line x1="283.96" y1="319.38" x2="287.16" y2="319.38" stroke="#e57b6f" stroke-width="0.85"/>
<line x1="297.68" y1="290.40" x2="297.68" y2="311.82" stroke="#e57b6f" stroke-width="0.85"/>
<line x1="296.08" y1="290.40" x2="299.28" y2="290.40" stroke="#e57b6f" stroke-width="0.85"/>
<line x1="296.08" y1="311.82" x2="299.28" y2="311.82" stroke="#e57b6f" stroke-width="0.85"/>
<line x1="309.80" y1="297.96" x2="309.80" y2="314.34" stroke="#e57b6f" stroke-width="0.85"/>
<line x1="308.20" y1="297.96" x2="311.40" y2="297.96" stroke="#e57b6f" stroke-width="0.85"/>
<line x1="308.20" y1="314.34" x2="311.40" y2="314.34" stroke="#e57b6f" stroke-width="0.85"/>
<polyline points="249.20,318.12 261.32,317.49 273.44,309.30 285.56,314.97 297.68,301.11 309.80,306.15" fill="none" stroke="#d12a1c" stroke-width="1.25" stroke-linejoin="round"/>
<circle cx="249.20" cy="318.12" r="2.00" fill="#d12a1c" stroke="#d12a1c" stroke-width="0.5"/>
<circle cx="261.32" cy="317.49" r="2.00" fill="#d12a1c" stroke="#d12a1c" stroke-width="0.5"/>
<circle cx="273.44" cy="309.30" r="2.00" fill="#d12a1c" stroke="#d12a1c" stroke-width="0.5"/>
<circle cx="285.56" cy="314.97" r="2.00" fill="#d12a1c" stroke="#d12a1c" stroke-width="0.5"/>
<circle cx="297.68" cy="301.11" r="2.00" fill="#d12a1c" stroke="#d12a1c" stroke-width="0.5"/>
<circle cx="309.80" cy="306.15" r="2.00" fill="#d12a1c" stroke="#d12a1c" stroke-width="0.5"/>
<line x1="249.20" y1="317.87" x2="249.20" y2="320.89" stroke="#e57b6f" stroke-width="0.85"/>
<line x1="247.60" y1="317.87" x2="250.80" y2="317.87" stroke="#e57b6f" stroke-width="0.85"/>
<line x1="247.60" y1="320.89" x2="250.80" y2="320.89" stroke="#e57b6f" stroke-width="0.85"/>
<line x1="261.32" y1="317.24" x2="261.32" y2="320.26" stroke="#e57b6f" stroke-width="0.85"/>
<line x1="259.72" y1="317.24" x2="262.92" y2="317.24" stroke="#e57b6f" stroke-width="0.85"/>
<line x1="259.72" y1="320.26" x2="262.92" y2="320.26" stroke="#e57b6f" stroke-width="0.85"/>
<line x1="273.44" y1="317.24" x2="273.44" y2="320.26" stroke="#e57b6f" stroke-width="0.85"/>
<line x1="271.84" y1="317.24" x2="275.04" y2="317.24" stroke="#e57b6f" stroke-width="0.85"/>
<line x1="271.84" y1="320.26" x2="275.04" y2="320.26" stroke="#e57b6f" stroke-width="0.85"/>
<line x1="285.56" y1="319.76" x2="285.56" y2="322.78" stroke="#e57b6f" stroke-width="0.85"/>
<line x1="283.96" y1="319.76" x2="287.16" y2="319.76" stroke="#e57b6f" stroke-width="0.85"/>
<line x1="283.96" y1="322.78" x2="287.16" y2="322.78" stroke="#e57b6f" stroke-width="0.85"/>
<line x1="297.68" y1="315.35" x2="297.68" y2="318.37" stroke="#e57b6f" stroke-width="0.85"/>
<line x1="296.08" y1="315.35" x2="299.28" y2="315.35" stroke="#e57b6f" stroke-width="0.85"/>
<line x1="296.08" y1="318.37" x2="299.28" y2="318.37" stroke="#e57b6f" stroke-width="0.85"/>
<line x1="309.80" y1="314.72" x2="309.80" y2="317.74" stroke="#e57b6f" stroke-width="0.85"/>
<line x1="308.20" y1="314.72" x2="311.40" y2="314.72" stroke="#e57b6f" stroke-width="0.85"/>
<line x1="308.20" y1="317.74" x2="311.40" y2="317.74" stroke="#e57b6f" stroke-width="0.85"/>
<polyline points="249.20,319.38 261.32,318.75 273.44,318.75 285.56,321.27 297.68,316.86 309.80,316.23" fill="none" stroke="#de5243" stroke-width="1.25" stroke-linejoin="round" stroke-dasharray="3,1.6"/>
<circle cx="249.20" cy="319.38" r="1.90" fill="#fff" stroke="#de5243" stroke-width="0.8"/>
<circle cx="261.32" cy="318.75" r="1.90" fill="#fff" stroke="#de5243" stroke-width="0.8"/>
<circle cx="273.44" cy="318.75" r="1.90" fill="#fff" stroke="#de5243" stroke-width="0.8"/>
<circle cx="285.56" cy="321.27" r="1.90" fill="#fff" stroke="#de5243" stroke-width="0.8"/>
<circle cx="297.68" cy="316.86" r="1.90" fill="#fff" stroke="#de5243" stroke-width="0.8"/>
<circle cx="309.80" cy="316.23" r="1.90" fill="#fff" stroke="#de5243" stroke-width="0.8"/>
<line x1="243.10" y1="328.20" x2="243.10" y2="262.20" stroke="#1a1a1a" stroke-width="1.3"/>
<line x1="240.10" y1="328.20" x2="243.10" y2="328.20" stroke="#1a1a1a" stroke-width="0.9"/>
<text x="236.70" y="330.54" font-size="6.5" text-anchor="end" fill="#222" stroke="#222" stroke-width="0.1">0</text>
<line x1="240.10" y1="315.60" x2="243.10" y2="315.60" stroke="#1a1a1a" stroke-width="0.9"/>
<text x="236.70" y="317.94" font-size="6.5" text-anchor="end" fill="#222" stroke="#222" stroke-width="0.1">1</text>
<line x1="240.10" y1="303.00" x2="243.10" y2="303.00" stroke="#1a1a1a" stroke-width="0.9"/>
<text x="236.70" y="305.34" font-size="6.5" text-anchor="end" fill="#222" stroke="#222" stroke-width="0.1">2</text>
<line x1="240.10" y1="290.40" x2="243.10" y2="290.40" stroke="#1a1a1a" stroke-width="0.9"/>
<text x="236.70" y="292.74" font-size="6.5" text-anchor="end" fill="#222" stroke="#222" stroke-width="0.1">3</text>
<line x1="240.10" y1="277.80" x2="243.10" y2="277.80" stroke="#1a1a1a" stroke-width="0.9"/>
<text x="236.70" y="280.14" font-size="6.5" text-anchor="end" fill="#222" stroke="#222" stroke-width="0.1">4</text>
<line x1="240.10" y1="265.20" x2="243.10" y2="265.20" stroke="#1a1a1a" stroke-width="0.9"/>
<text x="236.70" y="267.54" font-size="6.5" text-anchor="end" fill="#222" stroke="#222" stroke-width="0.1">5</text>
<line x1="242.60" y1="328.20" x2="315.80" y2="328.20" stroke="#1a1a1a" stroke-width="1.3"/>
<line x1="249.20" y1="328.20" x2="249.20" y2="331.10" stroke="#1a1a1a" stroke-width="0.9"/>
<text x="249.20" y="340.10" font-size="6.3" text-anchor="middle" fill="#222" stroke="#222" stroke-width="0.1">4</text>
<line x1="261.32" y1="328.20" x2="261.32" y2="331.10" stroke="#1a1a1a" stroke-width="0.9"/>
<text x="261.32" y="340.10" font-size="6.3" text-anchor="middle" fill="#222" stroke="#222" stroke-width="0.1">8</text>
<line x1="273.44" y1="328.20" x2="273.44" y2="331.10" stroke="#1a1a1a" stroke-width="0.9"/>
<text x="273.44" y="340.10" font-size="6.3" text-anchor="middle" fill="#222" stroke="#222" stroke-width="0.1">12</text>
<line x1="285.56" y1="328.20" x2="285.56" y2="331.10" stroke="#1a1a1a" stroke-width="0.9"/>
<text x="285.56" y="340.10" font-size="6.3" text-anchor="middle" fill="#222" stroke="#222" stroke-width="0.1">16</text>
<line x1="297.68" y1="328.20" x2="297.68" y2="331.10" stroke="#1a1a1a" stroke-width="0.9"/>
<text x="297.68" y="340.10" font-size="6.3" text-anchor="middle" fill="#222" stroke="#222" stroke-width="0.1">20</text>
<line x1="309.80" y1="328.20" x2="309.80" y2="331.10" stroke="#1a1a1a" stroke-width="0.9"/>
<text x="309.80" y="340.10" font-size="6.3" text-anchor="middle" fill="#222" stroke="#222" stroke-width="0.1">24</text>
<rect x="344.30" y="293.55" width="70.60" height="15.75" fill="#ededed"/>
<text x="338.10" y="255.20" font-size="8.6" fill="#111" stroke="#111" stroke-width="0.1" textLength="81.80" lengthAdjust="spacingAndGlyphs">Lymphocytes (x10<tspan dy="-3.3" font-size="5.8">9</tspan><tspan dy="3.3">/L)</tspan></text>
<line x1="348.60" y1="308.67" x2="348.60" y2="313.08" stroke="#d6d6d6" stroke-width="0.85"/>
<line x1="347.00" y1="308.67" x2="350.20" y2="308.67" stroke="#d6d6d6" stroke-width="0.85"/>
<line x1="347.00" y1="313.08" x2="350.20" y2="313.08" stroke="#d6d6d6" stroke-width="0.85"/>
<line x1="360.72" y1="286.62" x2="360.72" y2="291.03" stroke="#d6d6d6" stroke-width="0.85"/>
<line x1="359.12" y1="286.62" x2="362.32" y2="286.62" stroke="#d6d6d6" stroke-width="0.85"/>
<line x1="359.12" y1="291.03" x2="362.32" y2="291.03" stroke="#d6d6d6" stroke-width="0.85"/>
<line x1="372.84" y1="292.92" x2="372.84" y2="297.33" stroke="#d6d6d6" stroke-width="0.85"/>
<line x1="371.24" y1="292.92" x2="374.44" y2="292.92" stroke="#d6d6d6" stroke-width="0.85"/>
<line x1="371.24" y1="297.33" x2="374.44" y2="297.33" stroke="#d6d6d6" stroke-width="0.85"/>
<line x1="384.96" y1="291.34" x2="384.96" y2="295.75" stroke="#d6d6d6" stroke-width="0.85"/>
<line x1="383.36" y1="291.34" x2="386.56" y2="291.34" stroke="#d6d6d6" stroke-width="0.85"/>
<line x1="383.36" y1="295.75" x2="386.56" y2="295.75" stroke="#d6d6d6" stroke-width="0.85"/>
<line x1="397.08" y1="294.50" x2="397.08" y2="298.90" stroke="#d6d6d6" stroke-width="0.85"/>
<line x1="395.48" y1="294.50" x2="398.68" y2="294.50" stroke="#d6d6d6" stroke-width="0.85"/>
<line x1="395.48" y1="298.90" x2="398.68" y2="298.90" stroke="#d6d6d6" stroke-width="0.85"/>
<line x1="409.20" y1="285.05" x2="409.20" y2="289.45" stroke="#d6d6d6" stroke-width="0.85"/>
<line x1="407.60" y1="285.05" x2="410.80" y2="285.05" stroke="#d6d6d6" stroke-width="0.85"/>
<line x1="407.60" y1="289.45" x2="410.80" y2="289.45" stroke="#d6d6d6" stroke-width="0.85"/>
<polyline points="348.60,310.88 360.72,288.82 372.84,295.12 384.96,293.55 397.08,296.70 409.20,287.25" fill="none" stroke="#c2c2c2" stroke-width="1.25" stroke-linejoin="round"/>
<circle cx="348.60" cy="310.88" r="2.00" fill="#c2c2c2" stroke="#c2c2c2" stroke-width="0.5"/>
<circle cx="360.72" cy="288.82" r="2.00" fill="#c2c2c2" stroke="#c2c2c2" stroke-width="0.5"/>
<circle cx="372.84" cy="295.12" r="2.00" fill="#c2c2c2" stroke="#c2c2c2" stroke-width="0.5"/>
<circle cx="384.96" cy="293.55" r="2.00" fill="#c2c2c2" stroke="#c2c2c2" stroke-width="0.5"/>
<circle cx="397.08" cy="296.70" r="2.00" fill="#c2c2c2" stroke="#c2c2c2" stroke-width="0.5"/>
<circle cx="409.20" cy="287.25" r="2.00" fill="#c2c2c2" stroke="#c2c2c2" stroke-width="0.5"/>
<line x1="348.60" y1="309.93" x2="348.60" y2="314.97" stroke="#dedede" stroke-width="0.85"/>
<line x1="347.00" y1="309.93" x2="350.20" y2="309.93" stroke="#dedede" stroke-width="0.85"/>
<line x1="347.00" y1="314.97" x2="350.20" y2="314.97" stroke="#dedede" stroke-width="0.85"/>
<line x1="360.72" y1="283.15" x2="360.72" y2="288.19" stroke="#dedede" stroke-width="0.85"/>
<line x1="359.12" y1="283.15" x2="362.32" y2="283.15" stroke="#dedede" stroke-width="0.85"/>
<line x1="359.12" y1="288.19" x2="362.32" y2="288.19" stroke="#dedede" stroke-width="0.85"/>
<line x1="372.84" y1="294.18" x2="372.84" y2="299.22" stroke="#dedede" stroke-width="0.85"/>
<line x1="371.24" y1="294.18" x2="374.44" y2="294.18" stroke="#dedede" stroke-width="0.85"/>
<line x1="371.24" y1="299.22" x2="374.44" y2="299.22" stroke="#dedede" stroke-width="0.85"/>
<line x1="384.96" y1="285.36" x2="384.96" y2="290.40" stroke="#dedede" stroke-width="0.85"/>
<line x1="383.36" y1="285.36" x2="386.56" y2="285.36" stroke="#dedede" stroke-width="0.85"/>
<line x1="383.36" y1="290.40" x2="386.56" y2="290.40" stroke="#dedede" stroke-width="0.85"/>
<line x1="397.08" y1="292.61" x2="397.08" y2="297.64" stroke="#dedede" stroke-width="0.85"/>
<line x1="395.48" y1="292.61" x2="398.68" y2="292.61" stroke="#dedede" stroke-width="0.85"/>
<line x1="395.48" y1="297.64" x2="398.68" y2="297.64" stroke="#dedede" stroke-width="0.85"/>
<line x1="409.20" y1="286.31" x2="409.20" y2="291.34" stroke="#dedede" stroke-width="0.85"/>
<line x1="407.60" y1="286.31" x2="410.80" y2="286.31" stroke="#dedede" stroke-width="0.85"/>
<line x1="407.60" y1="291.34" x2="410.80" y2="291.34" stroke="#dedede" stroke-width="0.85"/>
<polyline points="348.60,312.45 360.72,285.68 372.84,296.70 384.96,287.88 397.08,295.12 409.20,288.82" fill="none" stroke="#d4d4d4" stroke-width="1.25" stroke-linejoin="round" stroke-dasharray="2.6,1.5"/>
<circle cx="348.60" cy="312.45" r="1.90" fill="#fff" stroke="#d4d4d4" stroke-width="0.8"/>
<circle cx="360.72" cy="285.68" r="1.90" fill="#fff" stroke="#d4d4d4" stroke-width="0.8"/>
<circle cx="372.84" cy="296.70" r="1.90" fill="#fff" stroke="#d4d4d4" stroke-width="0.8"/>
<circle cx="384.96" cy="287.88" r="1.90" fill="#fff" stroke="#d4d4d4" stroke-width="0.8"/>
<circle cx="397.08" cy="295.12" r="1.90" fill="#fff" stroke="#d4d4d4" stroke-width="0.8"/>
<circle cx="409.20" cy="288.82" r="1.90" fill="#fff" stroke="#d4d4d4" stroke-width="0.8"/>
<line x1="348.60" y1="312.45" x2="348.60" y2="318.75" stroke="#7d8ad0" stroke-width="0.85"/>
<line x1="347.00" y1="312.45" x2="350.20" y2="312.45" stroke="#7d8ad0" stroke-width="0.85"/>
<line x1="347.00" y1="318.75" x2="350.20" y2="318.75" stroke="#7d8ad0" stroke-width="0.85"/>
<line x1="360.72" y1="269.93" x2="360.72" y2="279.38" stroke="#7d8ad0" stroke-width="0.85"/>
<line x1="359.12" y1="269.93" x2="362.32" y2="269.93" stroke="#7d8ad0" stroke-width="0.85"/>
<line x1="359.12" y1="279.38" x2="362.32" y2="279.38" stroke="#7d8ad0" stroke-width="0.85"/>
<line x1="372.84" y1="277.80" x2="372.84" y2="285.36" stroke="#7d8ad0" stroke-width="0.85"/>
<line x1="371.24" y1="277.80" x2="374.44" y2="277.80" stroke="#7d8ad0" stroke-width="0.85"/>
<line x1="371.24" y1="285.36" x2="374.44" y2="285.36" stroke="#7d8ad0" stroke-width="0.85"/>
<line x1="384.96" y1="269.93" x2="384.96" y2="276.22" stroke="#7d8ad0" stroke-width="0.85"/>
<line x1="383.36" y1="269.93" x2="386.56" y2="269.93" stroke="#7d8ad0" stroke-width="0.85"/>
<line x1="383.36" y1="276.22" x2="386.56" y2="276.22" stroke="#7d8ad0" stroke-width="0.85"/>
<polyline points="348.60,315.60 360.72,274.65 372.84,281.58 384.96,273.07" fill="none" stroke="#3b4ba3" stroke-width="1.25" stroke-linejoin="round"/>
<circle cx="348.60" cy="315.60" r="2.00" fill="#3b4ba3" stroke="#3b4ba3" stroke-width="0.5"/>
<circle cx="360.72" cy="274.65" r="2.00" fill="#3b4ba3" stroke="#3b4ba3" stroke-width="0.5"/>
<circle cx="372.84" cy="281.58" r="2.00" fill="#3b4ba3" stroke="#3b4ba3" stroke-width="0.5"/>
<circle cx="384.96" cy="273.07" r="2.00" fill="#3b4ba3" stroke="#3b4ba3" stroke-width="0.5"/>
<line x1="348.60" y1="304.57" x2="348.60" y2="310.88" stroke="#7d8ad0" stroke-width="0.85"/>
<line x1="347.00" y1="304.57" x2="350.20" y2="304.57" stroke="#7d8ad0" stroke-width="0.85"/>
<line x1="347.00" y1="310.88" x2="350.20" y2="310.88" stroke="#7d8ad0" stroke-width="0.85"/>
<line x1="360.72" y1="271.50" x2="360.72" y2="280.95" stroke="#7d8ad0" stroke-width="0.85"/>
<line x1="359.12" y1="271.50" x2="362.32" y2="271.50" stroke="#7d8ad0" stroke-width="0.85"/>
<line x1="359.12" y1="280.95" x2="362.32" y2="280.95" stroke="#7d8ad0" stroke-width="0.85"/>
<line x1="372.84" y1="277.80" x2="372.84" y2="287.25" stroke="#7d8ad0" stroke-width="0.85"/>
<line x1="371.24" y1="277.80" x2="374.44" y2="277.80" stroke="#7d8ad0" stroke-width="0.85"/>
<line x1="371.24" y1="287.25" x2="374.44" y2="287.25" stroke="#7d8ad0" stroke-width="0.85"/>
<line x1="384.96" y1="272.44" x2="384.96" y2="280.00" stroke="#7d8ad0" stroke-width="0.85"/>
<line x1="383.36" y1="272.44" x2="386.56" y2="272.44" stroke="#7d8ad0" stroke-width="0.85"/>
<line x1="383.36" y1="280.00" x2="386.56" y2="280.00" stroke="#7d8ad0" stroke-width="0.85"/>
<polyline points="348.60,307.72 360.72,276.22 372.84,282.52 384.96,276.22" fill="none" stroke="#6070c0" stroke-width="1.25" stroke-linejoin="round" stroke-dasharray="3,1.6"/>
<circle cx="348.60" cy="307.72" r="1.90" fill="#fff" stroke="#6070c0" stroke-width="0.8"/>
<circle cx="360.72" cy="276.22" r="1.90" fill="#fff" stroke="#6070c0" stroke-width="0.8"/>
<circle cx="372.84" cy="282.52" r="1.90" fill="#fff" stroke="#6070c0" stroke-width="0.8"/>
<circle cx="384.96" cy="276.22" r="1.90" fill="#fff" stroke="#6070c0" stroke-width="0.8"/>
<line x1="348.60" y1="320.32" x2="348.60" y2="323.47" stroke="#e57b6f" stroke-width="0.85"/>
<line x1="347.00" y1="320.32" x2="350.20" y2="320.32" stroke="#e57b6f" stroke-width="0.85"/>
<line x1="347.00" y1="323.47" x2="350.20" y2="323.47" stroke="#e57b6f" stroke-width="0.85"/>
<line x1="360.72" y1="285.68" x2="360.72" y2="291.97" stroke="#e57b6f" stroke-width="0.85"/>
<line x1="359.12" y1="285.68" x2="362.32" y2="285.68" stroke="#e57b6f" stroke-width="0.85"/>
<line x1="359.12" y1="291.97" x2="362.32" y2="291.97" stroke="#e57b6f" stroke-width="0.85"/>
<line x1="372.84" y1="304.57" x2="372.84" y2="307.72" stroke="#e57b6f" stroke-width="0.85"/>
<line x1="371.24" y1="304.57" x2="374.44" y2="304.57" stroke="#e57b6f" stroke-width="0.85"/>
<line x1="371.24" y1="307.72" x2="374.44" y2="307.72" stroke="#e57b6f" stroke-width="0.85"/>
<line x1="384.96" y1="292.92" x2="384.96" y2="305.52" stroke="#e57b6f" stroke-width="0.85"/>
<line x1="383.36" y1="292.92" x2="386.56" y2="292.92" stroke="#e57b6f" stroke-width="0.85"/>
<line x1="383.36" y1="305.52" x2="386.56" y2="305.52" stroke="#e57b6f" stroke-width="0.85"/>
<line x1="397.08" y1="290.40" x2="397.08" y2="309.30" stroke="#e57b6f" stroke-width="0.85"/>
<line x1="395.48" y1="290.40" x2="398.68" y2="290.40" stroke="#e57b6f" stroke-width="0.85"/>
<line x1="395.48" y1="309.30" x2="398.68" y2="309.30" stroke="#e57b6f" stroke-width="0.85"/>
<line x1="409.20" y1="285.05" x2="409.20" y2="300.80" stroke="#e57b6f" stroke-width="0.85"/>
<line x1="407.60" y1="285.05" x2="410.80" y2="285.05" stroke="#e57b6f" stroke-width="0.85"/>
<line x1="407.60" y1="300.80" x2="410.80" y2="300.80" stroke="#e57b6f" stroke-width="0.85"/>
<polyline points="348.60,321.90 360.72,288.82 372.84,306.15 384.96,299.22 397.08,299.85 409.20,292.92" fill="none" stroke="#d12a1c" stroke-width="1.25" stroke-linejoin="round"/>
<circle cx="348.60" cy="321.90" r="2.00" fill="#d12a1c" stroke="#d12a1c" stroke-width="0.5"/>
<circle cx="360.72" cy="288.82" r="2.00" fill="#d12a1c" stroke="#d12a1c" stroke-width="0.5"/>
<circle cx="372.84" cy="306.15" r="2.00" fill="#d12a1c" stroke="#d12a1c" stroke-width="0.5"/>
<circle cx="384.96" cy="299.22" r="2.00" fill="#d12a1c" stroke="#d12a1c" stroke-width="0.5"/>
<circle cx="397.08" cy="299.85" r="2.00" fill="#d12a1c" stroke="#d12a1c" stroke-width="0.5"/>
<circle cx="409.20" cy="292.92" r="2.00" fill="#d12a1c" stroke="#d12a1c" stroke-width="0.5"/>
<line x1="348.60" y1="314.02" x2="348.60" y2="320.32" stroke="#e57b6f" stroke-width="0.85"/>
<line x1="347.00" y1="314.02" x2="350.20" y2="314.02" stroke="#e57b6f" stroke-width="0.85"/>
<line x1="347.00" y1="320.32" x2="350.20" y2="320.32" stroke="#e57b6f" stroke-width="0.85"/>
<line x1="360.72" y1="284.10" x2="360.72" y2="290.40" stroke="#e57b6f" stroke-width="0.85"/>
<line x1="359.12" y1="284.10" x2="362.32" y2="284.10" stroke="#e57b6f" stroke-width="0.85"/>
<line x1="359.12" y1="290.40" x2="362.32" y2="290.40" stroke="#e57b6f" stroke-width="0.85"/>
<line x1="372.84" y1="269.30" x2="372.84" y2="278.75" stroke="#e57b6f" stroke-width="0.85"/>
<line x1="371.24" y1="269.30" x2="374.44" y2="269.30" stroke="#e57b6f" stroke-width="0.85"/>
<line x1="371.24" y1="278.75" x2="374.44" y2="278.75" stroke="#e57b6f" stroke-width="0.85"/>
<line x1="384.96" y1="269.30" x2="384.96" y2="276.86" stroke="#e57b6f" stroke-width="0.85"/>
<line x1="383.36" y1="269.30" x2="386.56" y2="269.30" stroke="#e57b6f" stroke-width="0.85"/>
<line x1="383.36" y1="276.86" x2="386.56" y2="276.86" stroke="#e57b6f" stroke-width="0.85"/>
<line x1="397.08" y1="285.68" x2="397.08" y2="295.12" stroke="#e57b6f" stroke-width="0.85"/>
<line x1="395.48" y1="285.68" x2="398.68" y2="285.68" stroke="#e57b6f" stroke-width="0.85"/>
<line x1="395.48" y1="295.12" x2="398.68" y2="295.12" stroke="#e57b6f" stroke-width="0.85"/>
<line x1="409.20" y1="280.95" x2="409.20" y2="293.55" stroke="#e57b6f" stroke-width="0.85"/>
<line x1="407.60" y1="280.95" x2="410.80" y2="280.95" stroke="#e57b6f" stroke-width="0.85"/>
<line x1="407.60" y1="293.55" x2="410.80" y2="293.55" stroke="#e57b6f" stroke-width="0.85"/>
<polyline points="348.60,317.18 360.72,287.25 372.84,274.02 384.96,273.07 397.08,290.40 409.20,287.25" fill="none" stroke="#de5243" stroke-width="1.25" stroke-linejoin="round" stroke-dasharray="3,1.6"/>
<circle cx="348.60" cy="317.18" r="1.90" fill="#fff" stroke="#de5243" stroke-width="0.8"/>
<circle cx="360.72" cy="287.25" r="1.90" fill="#fff" stroke="#de5243" stroke-width="0.8"/>
<circle cx="372.84" cy="274.02" r="1.90" fill="#fff" stroke="#de5243" stroke-width="0.8"/>
<circle cx="384.96" cy="273.07" r="1.90" fill="#fff" stroke="#de5243" stroke-width="0.8"/>
<circle cx="397.08" cy="290.40" r="1.90" fill="#fff" stroke="#de5243" stroke-width="0.8"/>
<circle cx="409.20" cy="287.25" r="1.90" fill="#fff" stroke="#de5243" stroke-width="0.8"/>
<line x1="342.80" y1="328.20" x2="342.80" y2="262.20" stroke="#1a1a1a" stroke-width="1.3"/>
<line x1="339.80" y1="328.20" x2="342.80" y2="328.20" stroke="#1a1a1a" stroke-width="0.9"/>
<text x="336.40" y="330.54" font-size="6.5" text-anchor="end" fill="#222" stroke="#222" stroke-width="0.1">0</text>
<line x1="339.80" y1="312.45" x2="342.80" y2="312.45" stroke="#1a1a1a" stroke-width="0.9"/>
<text x="336.40" y="314.79" font-size="6.5" text-anchor="end" fill="#222" stroke="#222" stroke-width="0.1">5</text>
<line x1="339.80" y1="296.70" x2="342.80" y2="296.70" stroke="#1a1a1a" stroke-width="0.9"/>
<text x="336.40" y="299.04" font-size="6.5" text-anchor="end" fill="#222" stroke="#222" stroke-width="0.1">10</text>
<line x1="339.80" y1="280.95" x2="342.80" y2="280.95" stroke="#1a1a1a" stroke-width="0.9"/>
<text x="336.40" y="283.29" font-size="6.5" text-anchor="end" fill="#222" stroke="#222" stroke-width="0.1">15</text>
<line x1="339.80" y1="265.20" x2="342.80" y2="265.20" stroke="#1a1a1a" stroke-width="0.9"/>
<text x="336.40" y="267.54" font-size="6.5" text-anchor="end" fill="#222" stroke="#222" stroke-width="0.1">20</text>
<line x1="342.30" y1="328.20" x2="414.90" y2="328.20" stroke="#1a1a1a" stroke-width="1.3"/>
<line x1="348.60" y1="328.20" x2="348.60" y2="331.10" stroke="#1a1a1a" stroke-width="0.9"/>
<text x="348.60" y="340.10" font-size="6.3" text-anchor="middle" fill="#222" stroke="#222" stroke-width="0.1">4</text>
<line x1="360.72" y1="328.20" x2="360.72" y2="331.10" stroke="#1a1a1a" stroke-width="0.9"/>
<text x="360.72" y="340.10" font-size="6.3" text-anchor="middle" fill="#222" stroke="#222" stroke-width="0.1">8</text>
<line x1="372.84" y1="328.20" x2="372.84" y2="331.10" stroke="#1a1a1a" stroke-width="0.9"/>
<text x="372.84" y="340.10" font-size="6.3" text-anchor="middle" fill="#222" stroke="#222" stroke-width="0.1">12</text>
<line x1="384.96" y1="328.20" x2="384.96" y2="331.10" stroke="#1a1a1a" stroke-width="0.9"/>
<text x="384.96" y="340.10" font-size="6.3" text-anchor="middle" fill="#222" stroke="#222" stroke-width="0.1">16</text>
<line x1="397.08" y1="328.20" x2="397.08" y2="331.10" stroke="#1a1a1a" stroke-width="0.9"/>
<text x="397.08" y="340.10" font-size="6.3" text-anchor="middle" fill="#222" stroke="#222" stroke-width="0.1">20</text>
<line x1="409.20" y1="328.20" x2="409.20" y2="331.10" stroke="#1a1a1a" stroke-width="0.9"/>
<text x="409.20" y="340.10" font-size="6.3" text-anchor="middle" fill="#222" stroke="#222" stroke-width="0.1">24</text>
<text x="435.00" y="255.20" font-size="8.6" fill="#111" stroke="#111" stroke-width="0.1" textLength="75.00" lengthAdjust="spacingAndGlyphs">Spleen weight (mg)</text>
<line x1="448.10" y1="319.42" x2="448.10" y2="319.10" stroke="#222" stroke-width="0.9"/>
<line x1="446.70" y1="319.10" x2="449.50" y2="319.10" stroke="#222" stroke-width="0.9"/>
<rect x="445.60" y="319.92" width="5.00" height="8.38" fill="#fff" stroke="#1a1a1a" stroke-width="1.0"/>
<text x="448.10" y="340.60" font-size="6.3" text-anchor="middle" fill="#222" stroke="#222" stroke-width="0.1">lo</text>
<line x1="457.20" y1="318.90" x2="457.20" y2="318.37" stroke="#222" stroke-width="0.9"/>
<line x1="455.80" y1="318.37" x2="458.60" y2="318.37" stroke="#222" stroke-width="0.9"/>
<rect x="454.70" y="319.40" width="5.00" height="8.90" fill="#bdbdbd" stroke="#1a1a1a" stroke-width="1.0"/>
<text x="457.20" y="340.60" font-size="6.3" text-anchor="middle" fill="#222" stroke="#222" stroke-width="0.1">hi</text>
<line x1="468.60" y1="305.31" x2="468.60" y2="301.65" stroke="#222" stroke-width="0.9"/>
<line x1="467.20" y1="301.65" x2="470.00" y2="301.65" stroke="#222" stroke-width="0.9"/>
<rect x="466.10" y="305.81" width="5.00" height="22.49" fill="#fff" stroke="#6070c0" stroke-width="1.0"/>
<text x="468.60" y="340.60" font-size="6.3" text-anchor="middle" fill="#222" stroke="#222" stroke-width="0.1">lo</text>
<line x1="477.30" y1="318.37" x2="477.30" y2="317.85" stroke="#222" stroke-width="0.9"/>
<line x1="475.90" y1="317.85" x2="478.70" y2="317.85" stroke="#222" stroke-width="0.9"/>
<rect x="474.80" y="318.87" width="5.00" height="9.43" fill="#3b4ba3" stroke="#3b4ba3" stroke-width="1.0"/>
<text x="477.30" y="340.60" font-size="6.3" text-anchor="middle" fill="#222" stroke="#222" stroke-width="0.1">hi</text>
<line x1="488.70" y1="270.30" x2="488.70" y2="260.38" stroke="#222" stroke-width="0.9"/>
<line x1="487.30" y1="260.38" x2="490.10" y2="260.38" stroke="#222" stroke-width="0.9"/>
<rect x="486.20" y="270.80" width="5.00" height="57.50" fill="#fff" stroke="#de5243" stroke-width="1.0"/>
<text x="488.70" y="340.60" font-size="6.3" text-anchor="middle" fill="#222" stroke="#222" stroke-width="0.1">lo</text>
<line x1="497.80" y1="317.85" x2="497.80" y2="317.01" stroke="#222" stroke-width="0.9"/>
<line x1="496.40" y1="317.01" x2="499.20" y2="317.01" stroke="#222" stroke-width="0.9"/>
<rect x="495.30" y="318.35" width="5.00" height="9.95" fill="#d12a1c" stroke="#d12a1c" stroke-width="1.0"/>
<text x="497.80" y="340.60" font-size="6.3" text-anchor="middle" fill="#222" stroke="#222" stroke-width="0.1">hi</text>
<circle cx="476.10" cy="309.20" r="0.72" fill="#4858b8"/>
<circle cx="478.50" cy="309.20" r="0.72" fill="#4858b8"/>
<circle cx="495.40" cy="308.40" r="0.72" fill="#dc3325"/>
<circle cx="497.80" cy="308.40" r="0.72" fill="#dc3325"/>
<circle cx="500.20" cy="308.40" r="0.72" fill="#dc3325"/>
<line x1="439.60" y1="328.30" x2="439.60" y2="262.60" stroke="#1a1a1a" stroke-width="1.3"/>
<line x1="436.60" y1="328.30" x2="439.60" y2="328.30" stroke="#1a1a1a" stroke-width="0.9"/>
<text x="433.20" y="330.64" font-size="6.5" text-anchor="end" fill="#222" stroke="#222" stroke-width="0.1">0</text>
<line x1="436.60" y1="307.40" x2="439.60" y2="307.40" stroke="#1a1a1a" stroke-width="0.9"/>
<text x="433.20" y="309.74" font-size="6.5" text-anchor="end" fill="#222" stroke="#222" stroke-width="0.1">200</text>
<line x1="436.60" y1="286.50" x2="439.60" y2="286.50" stroke="#1a1a1a" stroke-width="0.9"/>
<text x="433.20" y="288.84" font-size="6.5" text-anchor="end" fill="#222" stroke="#222" stroke-width="0.1">400</text>
<line x1="436.60" y1="265.60" x2="439.60" y2="265.60" stroke="#1a1a1a" stroke-width="0.9"/>
<text x="433.20" y="267.94" font-size="6.5" text-anchor="end" fill="#222" stroke="#222" stroke-width="0.1">600</text>
<line x1="439.10" y1="328.30" x2="503.90" y2="328.30" stroke="#1a1a1a" stroke-width="1.3"/>
<text x="66.30" y="358.20" font-size="8.8" fill="#111" stroke="#111" stroke-width="0.1" textLength="31.20" lengthAdjust="spacingAndGlyphs">Ter119+</text>
<line x1="51.60" y1="428.94" x2="51.60" y2="432.66" stroke="#d6d6d6" stroke-width="0.85"/>
<line x1="50.00" y1="428.94" x2="53.20" y2="428.94" stroke="#d6d6d6" stroke-width="0.85"/>
<line x1="50.00" y1="432.66" x2="53.20" y2="432.66" stroke="#d6d6d6" stroke-width="0.85"/>
<line x1="63.74" y1="428.94" x2="63.74" y2="432.66" stroke="#d6d6d6" stroke-width="0.85"/>
<line x1="62.14" y1="428.94" x2="65.34" y2="428.94" stroke="#d6d6d6" stroke-width="0.85"/>
<line x1="62.14" y1="432.66" x2="65.34" y2="432.66" stroke="#d6d6d6" stroke-width="0.85"/>
<line x1="75.88" y1="428.32" x2="75.88" y2="432.04" stroke="#d6d6d6" stroke-width="0.85"/>
<line x1="74.28" y1="428.32" x2="77.48" y2="428.32" stroke="#d6d6d6" stroke-width="0.85"/>
<line x1="74.28" y1="432.04" x2="77.48" y2="432.04" stroke="#d6d6d6" stroke-width="0.85"/>
<line x1="88.02" y1="428.32" x2="88.02" y2="432.04" stroke="#d6d6d6" stroke-width="0.85"/>
<line x1="86.42" y1="428.32" x2="89.62" y2="428.32" stroke="#d6d6d6" stroke-width="0.85"/>
<line x1="86.42" y1="432.04" x2="89.62" y2="432.04" stroke="#d6d6d6" stroke-width="0.85"/>
<line x1="100.16" y1="427.70" x2="100.16" y2="431.42" stroke="#d6d6d6" stroke-width="0.85"/>
<line x1="98.56" y1="427.70" x2="101.76" y2="427.70" stroke="#d6d6d6" stroke-width="0.85"/>
<line x1="98.56" y1="431.42" x2="101.76" y2="431.42" stroke="#d6d6d6" stroke-width="0.85"/>
<line x1="112.30" y1="427.70" x2="112.30" y2="431.42" stroke="#d6d6d6" stroke-width="0.85"/>
<line x1="110.70" y1="427.70" x2="113.90" y2="427.70" stroke="#d6d6d6" stroke-width="0.85"/>
<line x1="110.70" y1="431.42" x2="113.90" y2="431.42" stroke="#d6d6d6" stroke-width="0.85"/>
<polyline points="51.60,430.80 63.74,430.80 75.88,430.18 88.02,430.18 100.16,429.56 112.30,429.56" fill="none" stroke="#c2c2c2" stroke-width="1.25" stroke-linejoin="round"/>
<circle cx="51.60" cy="430.80" r="2.00" fill="#c2c2c2" stroke="#c2c2c2" stroke-width="0.5"/>
<circle cx="63.74" cy="430.80" r="2.00" fill="#c2c2c2" stroke="#c2c2c2" stroke-width="0.5"/>
<circle cx="75.88" cy="430.18" r="2.00" fill="#c2c2c2" stroke="#c2c2c2" stroke-width="0.5"/>
<circle cx="88.02" cy="430.18" r="2.00" fill="#c2c2c2" stroke="#c2c2c2" stroke-width="0.5"/>
<circle cx="100.16" cy="429.56" r="2.00" fill="#c2c2c2" stroke="#c2c2c2" stroke-width="0.5"/>
<circle cx="112.30" cy="429.56" r="2.00" fill="#c2c2c2" stroke="#c2c2c2" stroke-width="0.5"/>
<line x1="51.60" y1="425.22" x2="51.60" y2="430.18" stroke="#dedede" stroke-width="0.85"/>
<line x1="50.00" y1="425.22" x2="53.20" y2="425.22" stroke="#dedede" stroke-width="0.85"/>
<line x1="50.00" y1="430.18" x2="53.20" y2="430.18" stroke="#dedede" stroke-width="0.85"/>
<line x1="63.74" y1="423.98" x2="63.74" y2="428.94" stroke="#dedede" stroke-width="0.85"/>
<line x1="62.14" y1="423.98" x2="65.34" y2="423.98" stroke="#dedede" stroke-width="0.85"/>
<line x1="62.14" y1="428.94" x2="65.34" y2="428.94" stroke="#dedede" stroke-width="0.85"/>
<line x1="75.88" y1="425.22" x2="75.88" y2="430.18" stroke="#dedede" stroke-width="0.85"/>
<line x1="74.28" y1="425.22" x2="77.48" y2="425.22" stroke="#dedede" stroke-width="0.85"/>
<line x1="74.28" y1="430.18" x2="77.48" y2="430.18" stroke="#dedede" stroke-width="0.85"/>
<line x1="88.02" y1="423.98" x2="88.02" y2="428.94" stroke="#dedede" stroke-width="0.85"/>
<line x1="86.42" y1="423.98" x2="89.62" y2="423.98" stroke="#dedede" stroke-width="0.85"/>
<line x1="86.42" y1="428.94" x2="89.62" y2="428.94" stroke="#dedede" stroke-width="0.85"/>
<line x1="100.16" y1="422.12" x2="100.16" y2="427.08" stroke="#dedede" stroke-width="0.85"/>
<line x1="98.56" y1="422.12" x2="101.76" y2="422.12" stroke="#dedede" stroke-width="0.85"/>
<line x1="98.56" y1="427.08" x2="101.76" y2="427.08" stroke="#dedede" stroke-width="0.85"/>
<line x1="112.30" y1="421.50" x2="112.30" y2="426.46" stroke="#dedede" stroke-width="0.85"/>
<line x1="110.70" y1="421.50" x2="113.90" y2="421.50" stroke="#dedede" stroke-width="0.85"/>
<line x1="110.70" y1="426.46" x2="113.90" y2="426.46" stroke="#dedede" stroke-width="0.85"/>
<polyline points="51.60,427.70 63.74,426.46 75.88,427.70 88.02,426.46 100.16,424.60 112.30,423.98" fill="none" stroke="#d4d4d4" stroke-width="1.25" stroke-linejoin="round" stroke-dasharray="2.6,1.5"/>
<circle cx="51.60" cy="427.70" r="1.90" fill="#fff" stroke="#d4d4d4" stroke-width="0.8"/>
<circle cx="63.74" cy="426.46" r="1.90" fill="#fff" stroke="#d4d4d4" stroke-width="0.8"/>
<circle cx="75.88" cy="427.70" r="1.90" fill="#fff" stroke="#d4d4d4" stroke-width="0.8"/>
<circle cx="88.02" cy="426.46" r="1.90" fill="#fff" stroke="#d4d4d4" stroke-width="0.8"/>
<circle cx="100.16" cy="424.60" r="1.90" fill="#fff" stroke="#d4d4d4" stroke-width="0.8"/>
<circle cx="112.30" cy="423.98" r="1.90" fill="#fff" stroke="#d4d4d4" stroke-width="0.8"/>
<line x1="51.60" y1="425.84" x2="51.60" y2="429.56" stroke="#7d8ad0" stroke-width="0.85"/>
<line x1="50.00" y1="425.84" x2="53.20" y2="425.84" stroke="#7d8ad0" stroke-width="0.85"/>
<line x1="50.00" y1="429.56" x2="53.20" y2="429.56" stroke="#7d8ad0" stroke-width="0.85"/>
<line x1="63.74" y1="425.22" x2="63.74" y2="430.18" stroke="#7d8ad0" stroke-width="0.85"/>
<line x1="62.14" y1="425.22" x2="65.34" y2="425.22" stroke="#7d8ad0" stroke-width="0.85"/>
<line x1="62.14" y1="430.18" x2="65.34" y2="430.18" stroke="#7d8ad0" stroke-width="0.85"/>
<line x1="75.88" y1="422.74" x2="75.88" y2="432.66" stroke="#7d8ad0" stroke-width="0.85"/>
<line x1="74.28" y1="422.74" x2="77.48" y2="422.74" stroke="#7d8ad0" stroke-width="0.85"/>
<line x1="74.28" y1="432.66" x2="77.48" y2="432.66" stroke="#7d8ad0" stroke-width="0.85"/>
<line x1="88.02" y1="431.42" x2="88.02" y2="433.90" stroke="#7d8ad0" stroke-width="0.85"/>
<line x1="86.42" y1="431.42" x2="89.62" y2="431.42" stroke="#7d8ad0" stroke-width="0.85"/>
<line x1="86.42" y1="433.90" x2="89.62" y2="433.90" stroke="#7d8ad0" stroke-width="0.85"/>
<polyline points="51.60,427.70 63.74,427.70 75.88,427.70 88.02,432.66" fill="none" stroke="#3b4ba3" stroke-width="1.25" stroke-linejoin="round"/>
<polygon points="51.60,425.50 53.80,429.46 49.40,429.46" fill="#3b4ba3" stroke="#3b4ba3" stroke-width="0.5"/>
<polygon points="63.74,425.50 65.94,429.46 61.54,429.46" fill="#3b4ba3" stroke="#3b4ba3" stroke-width="0.5"/>
<polygon points="75.88,425.50 78.08,429.46 73.68,429.46" fill="#3b4ba3" stroke="#3b4ba3" stroke-width="0.5"/>
<polygon points="88.02,430.46 90.22,434.42 85.82,434.42" fill="#3b4ba3" stroke="#3b4ba3" stroke-width="0.5"/>
<line x1="51.60" y1="407.86" x2="51.60" y2="412.82" stroke="#7d8ad0" stroke-width="0.85"/>
<line x1="50.00" y1="407.86" x2="53.20" y2="407.86" stroke="#7d8ad0" stroke-width="0.85"/>
<line x1="50.00" y1="412.82" x2="53.20" y2="412.82" stroke="#7d8ad0" stroke-width="0.85"/>
<line x1="63.74" y1="378.10" x2="63.74" y2="381.82" stroke="#7d8ad0" stroke-width="0.85"/>
<line x1="62.14" y1="378.10" x2="65.34" y2="378.10" stroke="#7d8ad0" stroke-width="0.85"/>
<line x1="62.14" y1="381.82" x2="65.34" y2="381.82" stroke="#7d8ad0" stroke-width="0.85"/>
<line x1="75.88" y1="372.52" x2="75.88" y2="375.00" stroke="#7d8ad0" stroke-width="0.85"/>
<line x1="74.28" y1="372.52" x2="77.48" y2="372.52" stroke="#7d8ad0" stroke-width="0.85"/>
<line x1="74.28" y1="375.00" x2="77.48" y2="375.00" stroke="#7d8ad0" stroke-width="0.85"/>
<line x1="88.02" y1="372.52" x2="88.02" y2="376.24" stroke="#7d8ad0" stroke-width="0.85"/>
<line x1="86.42" y1="372.52" x2="89.62" y2="372.52" stroke="#7d8ad0" stroke-width="0.85"/>
<line x1="86.42" y1="376.24" x2="89.62" y2="376.24" stroke="#7d8ad0" stroke-width="0.85"/>
<polyline points="51.60,410.34 63.74,379.96 75.88,373.76 88.02,374.38" fill="none" stroke="#6070c0" stroke-width="1.25" stroke-linejoin="round" stroke-dasharray="3,1.6"/>
<polygon points="51.60,408.14 53.80,412.10 49.40,412.10" fill="#fff" stroke="#6070c0" stroke-width="0.8"/>
<polygon points="63.74,377.76 65.94,381.72 61.54,381.72" fill="#fff" stroke="#6070c0" stroke-width="0.8"/>
<polygon points="75.88,371.56 78.08,375.52 73.68,375.52" fill="#fff" stroke="#6070c0" stroke-width="0.8"/>
<polygon points="88.02,372.18 90.22,376.14 85.82,376.14" fill="#fff" stroke="#6070c0" stroke-width="0.8"/>
<line x1="51.60" y1="423.98" x2="51.60" y2="428.94" stroke="#e57b6f" stroke-width="0.85"/>
<line x1="50.00" y1="423.98" x2="53.20" y2="423.98" stroke="#e57b6f" stroke-width="0.85"/>
<line x1="50.00" y1="428.94" x2="53.20" y2="428.94" stroke="#e57b6f" stroke-width="0.85"/>
<line x1="63.74" y1="394.84" x2="63.74" y2="413.44" stroke="#e57b6f" stroke-width="0.85"/>
<line x1="62.14" y1="394.84" x2="65.34" y2="394.84" stroke="#e57b6f" stroke-width="0.85"/>
<line x1="62.14" y1="413.44" x2="65.34" y2="413.44" stroke="#e57b6f" stroke-width="0.85"/>
<line x1="75.88" y1="396.08" x2="75.88" y2="417.16" stroke="#e57b6f" stroke-width="0.85"/>
<line x1="74.28" y1="396.08" x2="77.48" y2="396.08" stroke="#e57b6f" stroke-width="0.85"/>
<line x1="74.28" y1="417.16" x2="77.48" y2="417.16" stroke="#e57b6f" stroke-width="0.85"/>
<line x1="88.02" y1="407.24" x2="88.02" y2="425.84" stroke="#e57b6f" stroke-width="0.85"/>
<line x1="86.42" y1="407.24" x2="89.62" y2="407.24" stroke="#e57b6f" stroke-width="0.85"/>
<line x1="86.42" y1="425.84" x2="89.62" y2="425.84" stroke="#e57b6f" stroke-width="0.85"/>
<line x1="100.16" y1="419.02" x2="100.16" y2="431.42" stroke="#e57b6f" stroke-width="0.85"/>
<line x1="98.56" y1="419.02" x2="101.76" y2="419.02" stroke="#e57b6f" stroke-width="0.85"/>
<line x1="98.56" y1="431.42" x2="101.76" y2="431.42" stroke="#e57b6f" stroke-width="0.85"/>
<line x1="112.30" y1="427.70" x2="112.30" y2="432.66" stroke="#e57b6f" stroke-width="0.85"/>
<line x1="110.70" y1="427.70" x2="113.90" y2="427.70" stroke="#e57b6f" stroke-width="0.85"/>
<line x1="110.70" y1="432.66" x2="113.90" y2="432.66" stroke="#e57b6f" stroke-width="0.85"/>
<polyline points="51.60,426.46 63.74,404.14 75.88,406.62 88.02,416.54 100.16,425.22 112.30,430.18" fill="none" stroke="#d12a1c" stroke-width="1.25" stroke-linejoin="round"/>
<circle cx="51.60" cy="426.46" r="2.00" fill="#d12a1c" stroke="#d12a1c" stroke-width="0.5"/>
<circle cx="63.74" cy="404.14" r="2.00" fill="#d12a1c" stroke="#d12a1c" stroke-width="0.5"/>
<circle cx="75.88" cy="406.62" r="2.00" fill="#d12a1c" stroke="#d12a1c" stroke-width="0.5"/>
<circle cx="88.02" cy="416.54" r="2.00" fill="#d12a1c" stroke="#d12a1c" stroke-width="0.5"/>
<circle cx="100.16" cy="425.22" r="2.00" fill="#d12a1c" stroke="#d12a1c" stroke-width="0.5"/>
<circle cx="112.30" cy="430.18" r="2.00" fill="#d12a1c" stroke="#d12a1c" stroke-width="0.5"/>
<line x1="51.60" y1="409.10" x2="51.60" y2="415.30" stroke="#e57b6f" stroke-width="0.85"/>
<line x1="50.00" y1="409.10" x2="53.20" y2="409.10" stroke="#e57b6f" stroke-width="0.85"/>
<line x1="50.00" y1="415.30" x2="53.20" y2="415.30" stroke="#e57b6f" stroke-width="0.85"/>
<line x1="63.74" y1="381.82" x2="63.74" y2="391.74" stroke="#e57b6f" stroke-width="0.85"/>
<line x1="62.14" y1="381.82" x2="65.34" y2="381.82" stroke="#e57b6f" stroke-width="0.85"/>
<line x1="62.14" y1="391.74" x2="65.34" y2="391.74" stroke="#e57b6f" stroke-width="0.85"/>
<line x1="75.88" y1="376.24" x2="75.88" y2="386.16" stroke="#e57b6f" stroke-width="0.85"/>
<line x1="74.28" y1="376.24" x2="77.48" y2="376.24" stroke="#e57b6f" stroke-width="0.85"/>
<line x1="74.28" y1="386.16" x2="77.48" y2="386.16" stroke="#e57b6f" stroke-width="0.85"/>
<line x1="88.02" y1="374.38" x2="88.02" y2="386.78" stroke="#e57b6f" stroke-width="0.85"/>
<line x1="86.42" y1="374.38" x2="89.62" y2="374.38" stroke="#e57b6f" stroke-width="0.85"/>
<line x1="86.42" y1="386.78" x2="89.62" y2="386.78" stroke="#e57b6f" stroke-width="0.85"/>
<line x1="100.16" y1="375.00" x2="100.16" y2="389.88" stroke="#e57b6f" stroke-width="0.85"/>
<line x1="98.56" y1="375.00" x2="101.76" y2="375.00" stroke="#e57b6f" stroke-width="0.85"/>
<line x1="98.56" y1="389.88" x2="101.76" y2="389.88" stroke="#e57b6f" stroke-width="0.85"/>
<line x1="112.30" y1="375.62" x2="112.30" y2="390.50" stroke="#e57b6f" stroke-width="0.85"/>
<line x1="110.70" y1="375.62" x2="113.90" y2="375.62" stroke="#e57b6f" stroke-width="0.85"/>
<line x1="110.70" y1="390.50" x2="113.90" y2="390.50" stroke="#e57b6f" stroke-width="0.85"/>
<polyline points="51.60,412.20 63.74,386.78 75.88,381.20 88.02,380.58 100.16,382.44 112.30,383.06" fill="none" stroke="#de5243" stroke-width="1.25" stroke-linejoin="round" stroke-dasharray="3,1.6"/>
<circle cx="51.60" cy="412.20" r="1.90" fill="#fff" stroke="#de5243" stroke-width="0.8"/>
<circle cx="63.74" cy="386.78" r="1.90" fill="#fff" stroke="#de5243" stroke-width="0.8"/>
<circle cx="75.88" cy="381.20" r="1.90" fill="#fff" stroke="#de5243" stroke-width="0.8"/>
<circle cx="88.02" cy="380.58" r="1.90" fill="#fff" stroke="#de5243" stroke-width="0.8"/>
<circle cx="100.16" cy="382.44" r="1.90" fill="#fff" stroke="#de5243" stroke-width="0.8"/>
<circle cx="112.30" cy="383.06" r="1.90" fill="#fff" stroke="#de5243" stroke-width="0.8"/>
<circle cx="47.80" cy="394.84" r="0.72" fill="#4858b8"/>
<circle cx="49.70" cy="394.84" r="0.72" fill="#4858b8"/>
<circle cx="51.60" cy="394.84" r="0.72" fill="#4858b8"/>
<circle cx="53.50" cy="394.84" r="0.72" fill="#4858b8"/>
<circle cx="55.40" cy="394.84" r="0.72" fill="#4858b8"/>
<circle cx="60.89" cy="374.38" r="0.72" fill="#4858b8"/>
<circle cx="62.79" cy="374.38" r="0.72" fill="#4858b8"/>
<circle cx="64.69" cy="374.38" r="0.72" fill="#4858b8"/>
<circle cx="66.59" cy="374.38" r="0.72" fill="#4858b8"/>
<circle cx="73.03" cy="368.80" r="0.72" fill="#4858b8"/>
<circle cx="74.93" cy="368.80" r="0.72" fill="#4858b8"/>
<circle cx="76.83" cy="368.80" r="0.72" fill="#4858b8"/>
<circle cx="78.73" cy="368.80" r="0.72" fill="#4858b8"/>
<circle cx="85.17" cy="366.94" r="0.72" fill="#4858b8"/>
<circle cx="87.07" cy="366.94" r="0.72" fill="#4858b8"/>
<circle cx="88.97" cy="366.94" r="0.72" fill="#4858b8"/>
<circle cx="90.87" cy="366.94" r="0.72" fill="#4858b8"/>
<circle cx="87.07" cy="370.66" r="0.72" fill="#dc3325"/>
<circle cx="88.97" cy="370.66" r="0.72" fill="#dc3325"/>
<circle cx="99.21" cy="370.66" r="0.72" fill="#dc3325"/>
<circle cx="101.11" cy="370.66" r="0.72" fill="#dc3325"/>
<circle cx="110.40" cy="370.66" r="0.72" fill="#dc3325"/>
<circle cx="112.30" cy="370.66" r="0.72" fill="#dc3325"/>
<circle cx="114.20" cy="370.66" r="0.72" fill="#dc3325"/>
<line x1="46.30" y1="433.90" x2="46.30" y2="368.90" stroke="#1a1a1a" stroke-width="1.3"/>
<line x1="43.30" y1="433.90" x2="46.30" y2="433.90" stroke="#1a1a1a" stroke-width="0.9"/>
<text x="39.90" y="436.24" font-size="6.5" text-anchor="end" fill="#222" stroke="#222" stroke-width="0.1">0</text>
<line x1="43.30" y1="421.50" x2="46.30" y2="421.50" stroke="#1a1a1a" stroke-width="0.9"/>
<text x="39.90" y="423.84" font-size="6.5" text-anchor="end" fill="#222" stroke="#222" stroke-width="0.1">20</text>
<line x1="43.30" y1="409.10" x2="46.30" y2="409.10" stroke="#1a1a1a" stroke-width="0.9"/>
<text x="39.90" y="411.44" font-size="6.5" text-anchor="end" fill="#222" stroke="#222" stroke-width="0.1">40</text>
<line x1="43.30" y1="396.70" x2="46.30" y2="396.70" stroke="#1a1a1a" stroke-width="0.9"/>
<text x="39.90" y="399.04" font-size="6.5" text-anchor="end" fill="#222" stroke="#222" stroke-width="0.1">60</text>
<line x1="43.30" y1="384.30" x2="46.30" y2="384.30" stroke="#1a1a1a" stroke-width="0.9"/>
<text x="39.90" y="386.64" font-size="6.5" text-anchor="end" fill="#222" stroke="#222" stroke-width="0.1">80</text>
<line x1="43.30" y1="371.90" x2="46.30" y2="371.90" stroke="#1a1a1a" stroke-width="0.9"/>
<text x="39.90" y="374.24" font-size="6.5" text-anchor="end" fill="#222" stroke="#222" stroke-width="0.1">100</text>
<line x1="45.80" y1="433.90" x2="117.60" y2="433.90" stroke="#1a1a1a" stroke-width="1.3"/>
<line x1="51.60" y1="433.90" x2="51.60" y2="436.80" stroke="#1a1a1a" stroke-width="0.9"/>
<text x="51.60" y="446.10" font-size="6.3" text-anchor="middle" fill="#222" stroke="#222" stroke-width="0.1">4</text>
<line x1="63.74" y1="433.90" x2="63.74" y2="436.80" stroke="#1a1a1a" stroke-width="0.9"/>
<text x="63.74" y="446.10" font-size="6.3" text-anchor="middle" fill="#222" stroke="#222" stroke-width="0.1">8</text>
<line x1="75.88" y1="433.90" x2="75.88" y2="436.80" stroke="#1a1a1a" stroke-width="0.9"/>
<text x="75.88" y="446.10" font-size="6.3" text-anchor="middle" fill="#222" stroke="#222" stroke-width="0.1">12</text>
<line x1="88.02" y1="433.90" x2="88.02" y2="436.80" stroke="#1a1a1a" stroke-width="0.9"/>
<text x="88.02" y="446.10" font-size="6.3" text-anchor="middle" fill="#222" stroke="#222" stroke-width="0.1">16</text>
<line x1="100.16" y1="433.90" x2="100.16" y2="436.80" stroke="#1a1a1a" stroke-width="0.9"/>
<text x="100.16" y="446.10" font-size="6.3" text-anchor="middle" fill="#222" stroke="#222" stroke-width="0.1">20</text>
<line x1="112.30" y1="433.90" x2="112.30" y2="436.80" stroke="#1a1a1a" stroke-width="0.9"/>
<text x="112.30" y="446.10" font-size="6.3" text-anchor="middle" fill="#222" stroke="#222" stroke-width="0.1">24</text>
<text x="0.00" y="0.00" font-size="7.2" text-anchor="middle" fill="#222" stroke="#222" stroke-width="0.1" textLength="18.20" lengthAdjust="spacingAndGlyphs" transform="translate(23.5,403.7) rotate(-90)">% GFP</text>
<text x="45.90" y="457.50" font-size="8.4" fill="#111" stroke="#111" stroke-width="0.1" textLength="82.00" lengthAdjust="spacingAndGlyphs">Weeks-post-transplantation</text>
<text x="167.00" y="358.20" font-size="8.8" fill="#111" stroke="#111" stroke-width="0.1" textLength="26.80" lengthAdjust="spacingAndGlyphs">CD61+</text>
<line x1="150.30" y1="423.36" x2="150.30" y2="427.08" stroke="#d6d6d6" stroke-width="0.85"/>
<line x1="148.70" y1="423.36" x2="151.90" y2="423.36" stroke="#d6d6d6" stroke-width="0.85"/>
<line x1="148.70" y1="427.08" x2="151.90" y2="427.08" stroke="#d6d6d6" stroke-width="0.85"/>
<line x1="162.44" y1="423.36" x2="162.44" y2="427.08" stroke="#d6d6d6" stroke-width="0.85"/>
<line x1="160.84" y1="423.36" x2="164.04" y2="423.36" stroke="#d6d6d6" stroke-width="0.85"/>
<line x1="160.84" y1="427.08" x2="164.04" y2="427.08" stroke="#d6d6d6" stroke-width="0.85"/>
<line x1="174.58" y1="423.36" x2="174.58" y2="427.08" stroke="#d6d6d6" stroke-width="0.85"/>
<line x1="172.98" y1="423.36" x2="176.18" y2="423.36" stroke="#d6d6d6" stroke-width="0.85"/>
<line x1="172.98" y1="427.08" x2="176.18" y2="427.08" stroke="#d6d6d6" stroke-width="0.85"/>
<line x1="186.72" y1="422.74" x2="186.72" y2="426.46" stroke="#d6d6d6" stroke-width="0.85"/>
<line x1="185.12" y1="422.74" x2="188.32" y2="422.74" stroke="#d6d6d6" stroke-width="0.85"/>
<line x1="185.12" y1="426.46" x2="188.32" y2="426.46" stroke="#d6d6d6" stroke-width="0.85"/>
<line x1="198.86" y1="422.74" x2="198.86" y2="426.46" stroke="#d6d6d6" stroke-width="0.85"/>
<line x1="197.26" y1="422.74" x2="200.46" y2="422.74" stroke="#d6d6d6" stroke-width="0.85"/>
<line x1="197.26" y1="426.46" x2="200.46" y2="426.46" stroke="#d6d6d6" stroke-width="0.85"/>
<line x1="211.00" y1="422.12" x2="211.00" y2="425.84" stroke="#d6d6d6" stroke-width="0.85"/>
<line x1="209.40" y1="422.12" x2="212.60" y2="422.12" stroke="#d6d6d6" stroke-width="0.85"/>
<line x1="209.40" y1="425.84" x2="212.60" y2="425.84" stroke="#d6d6d6" stroke-width="0.85"/>
<polyline points="150.30,425.22 162.44,425.22 174.58,425.22 186.72,424.60 198.86,424.60 211.00,423.98" fill="none" stroke="#c2c2c2" stroke-width="1.25" stroke-linejoin="round"/>
<circle cx="150.30" cy="425.22" r="2.00" fill="#c2c2c2" stroke="#c2c2c2" stroke-width="0.5"/>
<circle cx="162.44" cy="425.22" r="2.00" fill="#c2c2c2" stroke="#c2c2c2" stroke-width="0.5"/>
<circle cx="174.58" cy="425.22" r="2.00" fill="#c2c2c2" stroke="#c2c2c2" stroke-width="0.5"/>
<circle cx="186.72" cy="424.60" r="2.00" fill="#c2c2c2" stroke="#c2c2c2" stroke-width="0.5"/>
<circle cx="198.86" cy="424.60" r="2.00" fill="#c2c2c2" stroke="#c2c2c2" stroke-width="0.5"/>
<circle cx="211.00" cy="423.98" r="2.00" fill="#c2c2c2" stroke="#c2c2c2" stroke-width="0.5"/>
<line x1="150.30" y1="416.54" x2="150.30" y2="422.74" stroke="#dedede" stroke-width="0.85"/>
<line x1="148.70" y1="416.54" x2="151.90" y2="416.54" stroke="#dedede" stroke-width="0.85"/>
<line x1="148.70" y1="422.74" x2="151.90" y2="422.74" stroke="#dedede" stroke-width="0.85"/>
<line x1="162.44" y1="416.54" x2="162.44" y2="422.74" stroke="#dedede" stroke-width="0.85"/>
<line x1="160.84" y1="416.54" x2="164.04" y2="416.54" stroke="#dedede" stroke-width="0.85"/>
<line x1="160.84" y1="422.74" x2="164.04" y2="422.74" stroke="#dedede" stroke-width="0.85"/>
<line x1="174.58" y1="418.40" x2="174.58" y2="424.60" stroke="#dedede" stroke-width="0.85"/>
<line x1="172.98" y1="418.40" x2="176.18" y2="418.40" stroke="#dedede" stroke-width="0.85"/>
<line x1="172.98" y1="424.60" x2="176.18" y2="424.60" stroke="#dedede" stroke-width="0.85"/>
<line x1="186.72" y1="417.16" x2="186.72" y2="423.36" stroke="#dedede" stroke-width="0.85"/>
<line x1="185.12" y1="417.16" x2="188.32" y2="417.16" stroke="#dedede" stroke-width="0.85"/>
<line x1="185.12" y1="423.36" x2="188.32" y2="423.36" stroke="#dedede" stroke-width="0.85"/>
<line x1="198.86" y1="415.92" x2="198.86" y2="422.12" stroke="#dedede" stroke-width="0.85"/>
<line x1="197.26" y1="415.92" x2="200.46" y2="415.92" stroke="#dedede" stroke-width="0.85"/>
<line x1="197.26" y1="422.12" x2="200.46" y2="422.12" stroke="#dedede" stroke-width="0.85"/>
<line x1="211.00" y1="415.30" x2="211.00" y2="421.50" stroke="#dedede" stroke-width="0.85"/>
<line x1="209.40" y1="415.30" x2="212.60" y2="415.30" stroke="#dedede" stroke-width="0.85"/>
<line x1="209.40" y1="421.50" x2="212.60" y2="421.50" stroke="#dedede" stroke-width="0.85"/>
<polyline points="150.30,419.64 162.44,419.64 174.58,421.50 186.72,420.26 198.86,419.02 211.00,418.40" fill="none" stroke="#d4d4d4" stroke-width="1.25" stroke-linejoin="round" stroke-dasharray="2.6,1.5"/>
<circle cx="150.30" cy="419.64" r="1.90" fill="#fff" stroke="#d4d4d4" stroke-width="0.8"/>
<circle cx="162.44" cy="419.64" r="1.90" fill="#fff" stroke="#d4d4d4" stroke-width="0.8"/>
<circle cx="174.58" cy="421.50" r="1.90" fill="#fff" stroke="#d4d4d4" stroke-width="0.8"/>
<circle cx="186.72" cy="420.26" r="1.90" fill="#fff" stroke="#d4d4d4" stroke-width="0.8"/>
<circle cx="198.86" cy="419.02" r="1.90" fill="#fff" stroke="#d4d4d4" stroke-width="0.8"/>
<circle cx="211.00" cy="418.40" r="1.90" fill="#fff" stroke="#d4d4d4" stroke-width="0.8"/>
<line x1="150.30" y1="425.84" x2="150.30" y2="429.56" stroke="#7d8ad0" stroke-width="0.85"/>
<line x1="148.70" y1="425.84" x2="151.90" y2="425.84" stroke="#7d8ad0" stroke-width="0.85"/>
<line x1="148.70" y1="429.56" x2="151.90" y2="429.56" stroke="#7d8ad0" stroke-width="0.85"/>
<line x1="162.44" y1="425.22" x2="162.44" y2="430.18" stroke="#7d8ad0" stroke-width="0.85"/>
<line x1="160.84" y1="425.22" x2="164.04" y2="425.22" stroke="#7d8ad0" stroke-width="0.85"/>
<line x1="160.84" y1="430.18" x2="164.04" y2="430.18" stroke="#7d8ad0" stroke-width="0.85"/>
<line x1="174.58" y1="421.50" x2="174.58" y2="431.42" stroke="#7d8ad0" stroke-width="0.85"/>
<line x1="172.98" y1="421.50" x2="176.18" y2="421.50" stroke="#7d8ad0" stroke-width="0.85"/>
<line x1="172.98" y1="431.42" x2="176.18" y2="431.42" stroke="#7d8ad0" stroke-width="0.85"/>
<line x1="186.72" y1="431.42" x2="186.72" y2="433.90" stroke="#7d8ad0" stroke-width="0.85"/>
<line x1="185.12" y1="431.42" x2="188.32" y2="431.42" stroke="#7d8ad0" stroke-width="0.85"/>
<line x1="185.12" y1="433.90" x2="188.32" y2="433.90" stroke="#7d8ad0" stroke-width="0.85"/>
<polyline points="150.30,427.70 162.44,427.70 174.58,426.46 186.72,432.66" fill="none" stroke="#3b4ba3" stroke-width="1.25" stroke-linejoin="round"/>
<polygon points="150.30,425.50 152.50,429.46 148.10,429.46" fill="#3b4ba3" stroke="#3b4ba3" stroke-width="0.5"/>
<polygon points="162.44,425.50 164.64,429.46 160.24,429.46" fill="#3b4ba3" stroke="#3b4ba3" stroke-width="0.5"/>
<polygon points="174.58,424.26 176.78,428.22 172.38,428.22" fill="#3b4ba3" stroke="#3b4ba3" stroke-width="0.5"/>
<polygon points="186.72,430.46 188.92,434.42 184.52,434.42" fill="#3b4ba3" stroke="#3b4ba3" stroke-width="0.5"/>
<line x1="150.30" y1="408.48" x2="150.30" y2="412.20" stroke="#7d8ad0" stroke-width="0.85"/>
<line x1="148.70" y1="408.48" x2="151.90" y2="408.48" stroke="#7d8ad0" stroke-width="0.85"/>
<line x1="148.70" y1="412.20" x2="151.90" y2="412.20" stroke="#7d8ad0" stroke-width="0.85"/>
<line x1="162.44" y1="378.10" x2="162.44" y2="381.82" stroke="#7d8ad0" stroke-width="0.85"/>
<line x1="160.84" y1="378.10" x2="164.04" y2="378.10" stroke="#7d8ad0" stroke-width="0.85"/>
<line x1="160.84" y1="381.82" x2="164.04" y2="381.82" stroke="#7d8ad0" stroke-width="0.85"/>
<line x1="174.58" y1="372.52" x2="174.58" y2="375.00" stroke="#7d8ad0" stroke-width="0.85"/>
<line x1="172.98" y1="372.52" x2="176.18" y2="372.52" stroke="#7d8ad0" stroke-width="0.85"/>
<line x1="172.98" y1="375.00" x2="176.18" y2="375.00" stroke="#7d8ad0" stroke-width="0.85"/>
<line x1="186.72" y1="372.52" x2="186.72" y2="376.24" stroke="#7d8ad0" stroke-width="0.85"/>
<line x1="185.12" y1="372.52" x2="188.32" y2="372.52" stroke="#7d8ad0" stroke-width="0.85"/>
<line x1="185.12" y1="376.24" x2="188.32" y2="376.24" stroke="#7d8ad0" stroke-width="0.85"/>
<polyline points="150.30,410.34 162.44,379.96 174.58,373.76 186.72,374.38" fill="none" stroke="#6070c0" stroke-width="1.25" stroke-linejoin="round" stroke-dasharray="3,1.6"/>
<polygon points="150.30,408.14 152.50,412.10 148.10,412.10" fill="#fff" stroke="#6070c0" stroke-width="0.8"/>
<polygon points="162.44,377.76 164.64,381.72 160.24,381.72" fill="#fff" stroke="#6070c0" stroke-width="0.8"/>
<polygon points="174.58,371.56 176.78,375.52 172.38,375.52" fill="#fff" stroke="#6070c0" stroke-width="0.8"/>
<polygon points="186.72,372.18 188.92,376.14 184.52,376.14" fill="#fff" stroke="#6070c0" stroke-width="0.8"/>
<line x1="150.30" y1="419.02" x2="150.30" y2="423.98" stroke="#e57b6f" stroke-width="0.85"/>
<line x1="148.70" y1="419.02" x2="151.90" y2="419.02" stroke="#e57b6f" stroke-width="0.85"/>
<line x1="148.70" y1="423.98" x2="151.90" y2="423.98" stroke="#e57b6f" stroke-width="0.85"/>
<line x1="162.44" y1="404.14" x2="162.44" y2="416.54" stroke="#e57b6f" stroke-width="0.85"/>
<line x1="160.84" y1="404.14" x2="164.04" y2="404.14" stroke="#e57b6f" stroke-width="0.85"/>
<line x1="160.84" y1="416.54" x2="164.04" y2="416.54" stroke="#e57b6f" stroke-width="0.85"/>
<line x1="174.58" y1="414.06" x2="174.58" y2="423.98" stroke="#e57b6f" stroke-width="0.85"/>
<line x1="172.98" y1="414.06" x2="176.18" y2="414.06" stroke="#e57b6f" stroke-width="0.85"/>
<line x1="172.98" y1="423.98" x2="176.18" y2="423.98" stroke="#e57b6f" stroke-width="0.85"/>
<line x1="186.72" y1="416.54" x2="186.72" y2="426.46" stroke="#e57b6f" stroke-width="0.85"/>
<line x1="185.12" y1="416.54" x2="188.32" y2="416.54" stroke="#e57b6f" stroke-width="0.85"/>
<line x1="185.12" y1="426.46" x2="188.32" y2="426.46" stroke="#e57b6f" stroke-width="0.85"/>
<line x1="198.86" y1="418.40" x2="198.86" y2="430.80" stroke="#e57b6f" stroke-width="0.85"/>
<line x1="197.26" y1="418.40" x2="200.46" y2="418.40" stroke="#e57b6f" stroke-width="0.85"/>
<line x1="197.26" y1="430.80" x2="200.46" y2="430.80" stroke="#e57b6f" stroke-width="0.85"/>
<line x1="211.00" y1="421.50" x2="211.00" y2="431.42" stroke="#e57b6f" stroke-width="0.85"/>
<line x1="209.40" y1="421.50" x2="212.60" y2="421.50" stroke="#e57b6f" stroke-width="0.85"/>
<line x1="209.40" y1="431.42" x2="212.60" y2="431.42" stroke="#e57b6f" stroke-width="0.85"/>
<polyline points="150.30,421.50 162.44,410.34 174.58,419.02 186.72,421.50 198.86,424.60 211.00,426.46" fill="none" stroke="#d12a1c" stroke-width="1.25" stroke-linejoin="round"/>
<circle cx="150.30" cy="421.50" r="2.00" fill="#d12a1c" stroke="#d12a1c" stroke-width="0.5"/>
<circle cx="162.44" cy="410.34" r="2.00" fill="#d12a1c" stroke="#d12a1c" stroke-width="0.5"/>
<circle cx="174.58" cy="419.02" r="2.00" fill="#d12a1c" stroke="#d12a1c" stroke-width="0.5"/>
<circle cx="186.72" cy="421.50" r="2.00" fill="#d12a1c" stroke="#d12a1c" stroke-width="0.5"/>
<circle cx="198.86" cy="424.60" r="2.00" fill="#d12a1c" stroke="#d12a1c" stroke-width="0.5"/>
<circle cx="211.00" cy="426.46" r="2.00" fill="#d12a1c" stroke="#d12a1c" stroke-width="0.5"/>
<line x1="150.30" y1="409.10" x2="150.30" y2="412.82" stroke="#e57b6f" stroke-width="0.85"/>
<line x1="148.70" y1="409.10" x2="151.90" y2="409.10" stroke="#e57b6f" stroke-width="0.85"/>
<line x1="148.70" y1="412.82" x2="151.90" y2="412.82" stroke="#e57b6f" stroke-width="0.85"/>
<line x1="162.44" y1="389.88" x2="162.44" y2="399.80" stroke="#e57b6f" stroke-width="0.85"/>
<line x1="160.84" y1="389.88" x2="164.04" y2="389.88" stroke="#e57b6f" stroke-width="0.85"/>
<line x1="160.84" y1="399.80" x2="164.04" y2="399.80" stroke="#e57b6f" stroke-width="0.85"/>
<line x1="174.58" y1="396.70" x2="174.58" y2="401.66" stroke="#e57b6f" stroke-width="0.85"/>
<line x1="172.98" y1="396.70" x2="176.18" y2="396.70" stroke="#e57b6f" stroke-width="0.85"/>
<line x1="172.98" y1="401.66" x2="176.18" y2="401.66" stroke="#e57b6f" stroke-width="0.85"/>
<line x1="186.72" y1="388.02" x2="186.72" y2="392.98" stroke="#e57b6f" stroke-width="0.85"/>
<line x1="185.12" y1="388.02" x2="188.32" y2="388.02" stroke="#e57b6f" stroke-width="0.85"/>
<line x1="185.12" y1="392.98" x2="188.32" y2="392.98" stroke="#e57b6f" stroke-width="0.85"/>
<line x1="198.86" y1="383.06" x2="198.86" y2="386.78" stroke="#e57b6f" stroke-width="0.85"/>
<line x1="197.26" y1="383.06" x2="200.46" y2="383.06" stroke="#e57b6f" stroke-width="0.85"/>
<line x1="197.26" y1="386.78" x2="200.46" y2="386.78" stroke="#e57b6f" stroke-width="0.85"/>
<line x1="211.00" y1="386.16" x2="211.00" y2="388.64" stroke="#e57b6f" stroke-width="0.85"/>
<line x1="209.40" y1="386.16" x2="212.60" y2="386.16" stroke="#e57b6f" stroke-width="0.85"/>
<line x1="209.40" y1="388.64" x2="212.60" y2="388.64" stroke="#e57b6f" stroke-width="0.85"/>
<polyline points="150.30,410.96 162.44,394.84 174.58,399.18 186.72,390.50 198.86,384.92 211.00,387.40" fill="none" stroke="#de5243" stroke-width="1.25" stroke-linejoin="round" stroke-dasharray="3,1.6"/>
<circle cx="150.30" cy="410.96" r="1.90" fill="#fff" stroke="#de5243" stroke-width="0.8"/>
<circle cx="162.44" cy="394.84" r="1.90" fill="#fff" stroke="#de5243" stroke-width="0.8"/>
<circle cx="174.58" cy="399.18" r="1.90" fill="#fff" stroke="#de5243" stroke-width="0.8"/>
<circle cx="186.72" cy="390.50" r="1.90" fill="#fff" stroke="#de5243" stroke-width="0.8"/>
<circle cx="198.86" cy="384.92" r="1.90" fill="#fff" stroke="#de5243" stroke-width="0.8"/>
<circle cx="211.00" cy="387.40" r="1.90" fill="#fff" stroke="#de5243" stroke-width="0.8"/>
<circle cx="150.30" cy="394.84" r="0.72" fill="#4858b8"/>
<circle cx="159.59" cy="372.52" r="0.72" fill="#4858b8"/>
<circle cx="161.49" cy="372.52" r="0.72" fill="#4858b8"/>
<circle cx="163.39" cy="372.52" r="0.72" fill="#4858b8"/>
<circle cx="165.29" cy="372.52" r="0.72" fill="#4858b8"/>
<circle cx="171.73" cy="365.70" r="0.72" fill="#4858b8"/>
<circle cx="173.63" cy="365.70" r="0.72" fill="#4858b8"/>
<circle cx="175.53" cy="365.70" r="0.72" fill="#4858b8"/>
<circle cx="177.43" cy="365.70" r="0.72" fill="#4858b8"/>
<circle cx="174.58" cy="370.04" r="0.72" fill="#dc3325"/>
<circle cx="183.87" cy="365.70" r="0.72" fill="#4858b8"/>
<circle cx="185.77" cy="365.70" r="0.72" fill="#4858b8"/>
<circle cx="187.67" cy="365.70" r="0.72" fill="#4858b8"/>
<circle cx="189.57" cy="365.70" r="0.72" fill="#4858b8"/>
<circle cx="183.87" cy="370.04" r="0.72" fill="#dc3325"/>
<circle cx="185.77" cy="370.04" r="0.72" fill="#dc3325"/>
<circle cx="187.67" cy="370.04" r="0.72" fill="#dc3325"/>
<circle cx="189.57" cy="370.04" r="0.72" fill="#dc3325"/>
<circle cx="196.01" cy="370.04" r="0.72" fill="#dc3325"/>
<circle cx="197.91" cy="370.04" r="0.72" fill="#dc3325"/>
<circle cx="199.81" cy="370.04" r="0.72" fill="#dc3325"/>
<circle cx="201.71" cy="370.04" r="0.72" fill="#dc3325"/>
<circle cx="208.15" cy="370.04" r="0.72" fill="#dc3325"/>
<circle cx="210.05" cy="370.04" r="0.72" fill="#dc3325"/>
<circle cx="211.95" cy="370.04" r="0.72" fill="#dc3325"/>
<circle cx="213.85" cy="370.04" r="0.72" fill="#dc3325"/>
<line x1="144.80" y1="433.90" x2="144.80" y2="368.90" stroke="#1a1a1a" stroke-width="1.3"/>
<line x1="141.80" y1="433.90" x2="144.80" y2="433.90" stroke="#1a1a1a" stroke-width="0.9"/>
<text x="138.40" y="436.24" font-size="6.5" text-anchor="end" fill="#222" stroke="#222" stroke-width="0.1">0</text>
<line x1="141.80" y1="421.50" x2="144.80" y2="421.50" stroke="#1a1a1a" stroke-width="0.9"/>
<text x="138.40" y="423.84" font-size="6.5" text-anchor="end" fill="#222" stroke="#222" stroke-width="0.1">20</text>
<line x1="141.80" y1="409.10" x2="144.80" y2="409.10" stroke="#1a1a1a" stroke-width="0.9"/>
<text x="138.40" y="411.44" font-size="6.5" text-anchor="end" fill="#222" stroke="#222" stroke-width="0.1">40</text>
<line x1="141.80" y1="396.70" x2="144.80" y2="396.70" stroke="#1a1a1a" stroke-width="0.9"/>
<text x="138.40" y="399.04" font-size="6.5" text-anchor="end" fill="#222" stroke="#222" stroke-width="0.1">60</text>
<line x1="141.80" y1="384.30" x2="144.80" y2="384.30" stroke="#1a1a1a" stroke-width="0.9"/>
<text x="138.40" y="386.64" font-size="6.5" text-anchor="end" fill="#222" stroke="#222" stroke-width="0.1">80</text>
<line x1="141.80" y1="371.90" x2="144.80" y2="371.90" stroke="#1a1a1a" stroke-width="0.9"/>
<text x="138.40" y="374.24" font-size="6.5" text-anchor="end" fill="#222" stroke="#222" stroke-width="0.1">100</text>
<line x1="144.30" y1="433.90" x2="216.30" y2="433.90" stroke="#1a1a1a" stroke-width="1.3"/>
<line x1="150.30" y1="433.90" x2="150.30" y2="436.80" stroke="#1a1a1a" stroke-width="0.9"/>
<text x="150.30" y="446.10" font-size="6.3" text-anchor="middle" fill="#222" stroke="#222" stroke-width="0.1">4</text>
<line x1="162.44" y1="433.90" x2="162.44" y2="436.80" stroke="#1a1a1a" stroke-width="0.9"/>
<text x="162.44" y="446.10" font-size="6.3" text-anchor="middle" fill="#222" stroke="#222" stroke-width="0.1">8</text>
<line x1="174.58" y1="433.90" x2="174.58" y2="436.80" stroke="#1a1a1a" stroke-width="0.9"/>
<text x="174.58" y="446.10" font-size="6.3" text-anchor="middle" fill="#222" stroke="#222" stroke-width="0.1">12</text>
<line x1="186.72" y1="433.90" x2="186.72" y2="436.80" stroke="#1a1a1a" stroke-width="0.9"/>
<text x="186.72" y="446.10" font-size="6.3" text-anchor="middle" fill="#222" stroke="#222" stroke-width="0.1">16</text>
<line x1="198.86" y1="433.90" x2="198.86" y2="436.80" stroke="#1a1a1a" stroke-width="0.9"/>
<text x="198.86" y="446.10" font-size="6.3" text-anchor="middle" fill="#222" stroke="#222" stroke-width="0.1">20</text>
<line x1="211.00" y1="433.90" x2="211.00" y2="436.80" stroke="#1a1a1a" stroke-width="0.9"/>
<text x="211.00" y="446.10" font-size="6.3" text-anchor="middle" fill="#222" stroke="#222" stroke-width="0.1">24</text>
<text x="269.70" y="358.20" font-size="8.8" fill="#111" stroke="#111" stroke-width="0.1" textLength="19.40" lengthAdjust="spacingAndGlyphs">Gr1+</text>
<line x1="249.00" y1="406.00" x2="249.00" y2="412.20" stroke="#d6d6d6" stroke-width="0.85"/>
<line x1="247.40" y1="406.00" x2="250.60" y2="406.00" stroke="#d6d6d6" stroke-width="0.85"/>
<line x1="247.40" y1="412.20" x2="250.60" y2="412.20" stroke="#d6d6d6" stroke-width="0.85"/>
<line x1="261.18" y1="413.44" x2="261.18" y2="419.64" stroke="#d6d6d6" stroke-width="0.85"/>
<line x1="259.58" y1="413.44" x2="262.78" y2="413.44" stroke="#d6d6d6" stroke-width="0.85"/>
<line x1="259.58" y1="419.64" x2="262.78" y2="419.64" stroke="#d6d6d6" stroke-width="0.85"/>
<line x1="273.36" y1="414.68" x2="273.36" y2="420.88" stroke="#d6d6d6" stroke-width="0.85"/>
<line x1="271.76" y1="414.68" x2="274.96" y2="414.68" stroke="#d6d6d6" stroke-width="0.85"/>
<line x1="271.76" y1="420.88" x2="274.96" y2="420.88" stroke="#d6d6d6" stroke-width="0.85"/>
<line x1="285.54" y1="418.40" x2="285.54" y2="424.60" stroke="#d6d6d6" stroke-width="0.85"/>
<line x1="283.94" y1="418.40" x2="287.14" y2="418.40" stroke="#d6d6d6" stroke-width="0.85"/>
<line x1="283.94" y1="424.60" x2="287.14" y2="424.60" stroke="#d6d6d6" stroke-width="0.85"/>
<line x1="297.72" y1="413.44" x2="297.72" y2="419.64" stroke="#d6d6d6" stroke-width="0.85"/>
<line x1="296.12" y1="413.44" x2="299.32" y2="413.44" stroke="#d6d6d6" stroke-width="0.85"/>
<line x1="296.12" y1="419.64" x2="299.32" y2="419.64" stroke="#d6d6d6" stroke-width="0.85"/>
<line x1="309.90" y1="415.30" x2="309.90" y2="421.50" stroke="#d6d6d6" stroke-width="0.85"/>
<line x1="308.30" y1="415.30" x2="311.50" y2="415.30" stroke="#d6d6d6" stroke-width="0.85"/>
<line x1="308.30" y1="421.50" x2="311.50" y2="421.50" stroke="#d6d6d6" stroke-width="0.85"/>
<polyline points="249.00,409.10 261.18,416.54 273.36,417.78 285.54,421.50 297.72,416.54 309.90,418.40" fill="none" stroke="#c2c2c2" stroke-width="1.25" stroke-linejoin="round"/>
<circle cx="249.00" cy="409.10" r="2.00" fill="#c2c2c2" stroke="#c2c2c2" stroke-width="0.5"/>
<circle cx="261.18" cy="416.54" r="2.00" fill="#c2c2c2" stroke="#c2c2c2" stroke-width="0.5"/>
<circle cx="273.36" cy="417.78" r="2.00" fill="#c2c2c2" stroke="#c2c2c2" stroke-width="0.5"/>
<circle cx="285.54" cy="421.50" r="2.00" fill="#c2c2c2" stroke="#c2c2c2" stroke-width="0.5"/>
<circle cx="297.72" cy="416.54" r="2.00" fill="#c2c2c2" stroke="#c2c2c2" stroke-width="0.5"/>
<circle cx="309.90" cy="418.40" r="2.00" fill="#c2c2c2" stroke="#c2c2c2" stroke-width="0.5"/>
<line x1="249.00" y1="391.74" x2="249.00" y2="401.66" stroke="#dedede" stroke-width="0.85"/>
<line x1="247.40" y1="391.74" x2="250.60" y2="391.74" stroke="#dedede" stroke-width="0.85"/>
<line x1="247.40" y1="401.66" x2="250.60" y2="401.66" stroke="#dedede" stroke-width="0.85"/>
<line x1="261.18" y1="399.18" x2="261.18" y2="409.10" stroke="#dedede" stroke-width="0.85"/>
<line x1="259.58" y1="399.18" x2="262.78" y2="399.18" stroke="#dedede" stroke-width="0.85"/>
<line x1="259.58" y1="409.10" x2="262.78" y2="409.10" stroke="#dedede" stroke-width="0.85"/>
<line x1="273.36" y1="401.66" x2="273.36" y2="411.58" stroke="#dedede" stroke-width="0.85"/>
<line x1="271.76" y1="401.66" x2="274.96" y2="401.66" stroke="#dedede" stroke-width="0.85"/>
<line x1="271.76" y1="411.58" x2="274.96" y2="411.58" stroke="#dedede" stroke-width="0.85"/>
<line x1="285.54" y1="408.48" x2="285.54" y2="418.40" stroke="#dedede" stroke-width="0.85"/>
<line x1="283.94" y1="408.48" x2="287.14" y2="408.48" stroke="#dedede" stroke-width="0.85"/>
<line x1="283.94" y1="418.40" x2="287.14" y2="418.40" stroke="#dedede" stroke-width="0.85"/>
<line x1="297.72" y1="394.84" x2="297.72" y2="404.76" stroke="#dedede" stroke-width="0.85"/>
<line x1="296.12" y1="394.84" x2="299.32" y2="394.84" stroke="#dedede" stroke-width="0.85"/>
<line x1="296.12" y1="404.76" x2="299.32" y2="404.76" stroke="#dedede" stroke-width="0.85"/>
<line x1="309.90" y1="404.14" x2="309.90" y2="414.06" stroke="#dedede" stroke-width="0.85"/>
<line x1="308.30" y1="404.14" x2="311.50" y2="404.14" stroke="#dedede" stroke-width="0.85"/>
<line x1="308.30" y1="414.06" x2="311.50" y2="414.06" stroke="#dedede" stroke-width="0.85"/>
<polyline points="249.00,396.70 261.18,404.14 273.36,406.62 285.54,413.44 297.72,399.80 309.90,409.10" fill="none" stroke="#d4d4d4" stroke-width="1.25" stroke-linejoin="round" stroke-dasharray="2.6,1.5"/>
<circle cx="249.00" cy="396.70" r="1.90" fill="#fff" stroke="#d4d4d4" stroke-width="0.8"/>
<circle cx="261.18" cy="404.14" r="1.90" fill="#fff" stroke="#d4d4d4" stroke-width="0.8"/>
<circle cx="273.36" cy="406.62" r="1.90" fill="#fff" stroke="#d4d4d4" stroke-width="0.8"/>
<circle cx="285.54" cy="413.44" r="1.90" fill="#fff" stroke="#d4d4d4" stroke-width="0.8"/>
<circle cx="297.72" cy="399.80" r="1.90" fill="#fff" stroke="#d4d4d4" stroke-width="0.8"/>
<circle cx="309.90" cy="409.10" r="1.90" fill="#fff" stroke="#d4d4d4" stroke-width="0.8"/>
<line x1="249.00" y1="421.50" x2="249.00" y2="431.42" stroke="#7d8ad0" stroke-width="0.85"/>
<line x1="247.40" y1="421.50" x2="250.60" y2="421.50" stroke="#7d8ad0" stroke-width="0.85"/>
<line x1="247.40" y1="431.42" x2="250.60" y2="431.42" stroke="#7d8ad0" stroke-width="0.85"/>
<line x1="261.18" y1="430.18" x2="261.18" y2="433.90" stroke="#7d8ad0" stroke-width="0.85"/>
<line x1="259.58" y1="430.18" x2="262.78" y2="430.18" stroke="#7d8ad0" stroke-width="0.85"/>
<line x1="259.58" y1="433.90" x2="262.78" y2="433.90" stroke="#7d8ad0" stroke-width="0.85"/>
<line x1="273.36" y1="428.94" x2="273.36" y2="432.66" stroke="#7d8ad0" stroke-width="0.85"/>
<line x1="271.76" y1="428.94" x2="274.96" y2="428.94" stroke="#7d8ad0" stroke-width="0.85"/>
<line x1="271.76" y1="432.66" x2="274.96" y2="432.66" stroke="#7d8ad0" stroke-width="0.85"/>
<line x1="285.54" y1="421.50" x2="285.54" y2="431.42" stroke="#7d8ad0" stroke-width="0.85"/>
<line x1="283.94" y1="421.50" x2="287.14" y2="421.50" stroke="#7d8ad0" stroke-width="0.85"/>
<line x1="283.94" y1="431.42" x2="287.14" y2="431.42" stroke="#7d8ad0" stroke-width="0.85"/>
<polyline points="249.00,426.46 261.18,432.04 273.36,430.80 285.54,426.46" fill="none" stroke="#3b4ba3" stroke-width="1.25" stroke-linejoin="round"/>
<polygon points="249.00,424.26 251.20,428.22 246.80,428.22" fill="#3b4ba3" stroke="#3b4ba3" stroke-width="0.5"/>
<polygon points="261.18,429.84 263.38,433.80 258.98,433.80" fill="#3b4ba3" stroke="#3b4ba3" stroke-width="0.5"/>
<polygon points="273.36,428.60 275.56,432.56 271.16,432.56" fill="#3b4ba3" stroke="#3b4ba3" stroke-width="0.5"/>
<polygon points="285.54,424.26 287.74,428.22 283.34,428.22" fill="#3b4ba3" stroke="#3b4ba3" stroke-width="0.5"/>
<line x1="249.00" y1="385.54" x2="249.00" y2="389.26" stroke="#7d8ad0" stroke-width="0.85"/>
<line x1="247.40" y1="385.54" x2="250.60" y2="385.54" stroke="#7d8ad0" stroke-width="0.85"/>
<line x1="247.40" y1="389.26" x2="250.60" y2="389.26" stroke="#7d8ad0" stroke-width="0.85"/>
<line x1="261.18" y1="377.48" x2="261.18" y2="381.20" stroke="#7d8ad0" stroke-width="0.85"/>
<line x1="259.58" y1="377.48" x2="262.78" y2="377.48" stroke="#7d8ad0" stroke-width="0.85"/>
<line x1="259.58" y1="381.20" x2="262.78" y2="381.20" stroke="#7d8ad0" stroke-width="0.85"/>
<line x1="273.36" y1="377.48" x2="273.36" y2="381.20" stroke="#7d8ad0" stroke-width="0.85"/>
<line x1="271.76" y1="377.48" x2="274.96" y2="377.48" stroke="#7d8ad0" stroke-width="0.85"/>
<line x1="271.76" y1="381.20" x2="274.96" y2="381.20" stroke="#7d8ad0" stroke-width="0.85"/>
<line x1="285.54" y1="373.14" x2="285.54" y2="376.86" stroke="#7d8ad0" stroke-width="0.85"/>
<line x1="283.94" y1="373.14" x2="287.14" y2="373.14" stroke="#7d8ad0" stroke-width="0.85"/>
<line x1="283.94" y1="376.86" x2="287.14" y2="376.86" stroke="#7d8ad0" stroke-width="0.85"/>
<polyline points="249.00,387.40 261.18,379.34 273.36,379.34 285.54,375.00" fill="none" stroke="#6070c0" stroke-width="1.25" stroke-linejoin="round" stroke-dasharray="3,1.6"/>
<polygon points="249.00,385.20 251.20,389.16 246.80,389.16" fill="#fff" stroke="#6070c0" stroke-width="0.8"/>
<polygon points="261.18,377.14 263.38,381.10 258.98,381.10" fill="#fff" stroke="#6070c0" stroke-width="0.8"/>
<polygon points="273.36,377.14 275.56,381.10 271.16,381.10" fill="#fff" stroke="#6070c0" stroke-width="0.8"/>
<polygon points="285.54,372.80 287.74,376.76 283.34,376.76" fill="#fff" stroke="#6070c0" stroke-width="0.8"/>
<line x1="249.00" y1="410.96" x2="249.00" y2="423.36" stroke="#e57b6f" stroke-width="0.85"/>
<line x1="247.40" y1="410.96" x2="250.60" y2="410.96" stroke="#e57b6f" stroke-width="0.85"/>
<line x1="247.40" y1="423.36" x2="250.60" y2="423.36" stroke="#e57b6f" stroke-width="0.85"/>
<line x1="261.18" y1="396.08" x2="261.18" y2="406.00" stroke="#e57b6f" stroke-width="0.85"/>
<line x1="259.58" y1="396.08" x2="262.78" y2="396.08" stroke="#e57b6f" stroke-width="0.85"/>
<line x1="259.58" y1="406.00" x2="262.78" y2="406.00" stroke="#e57b6f" stroke-width="0.85"/>
<line x1="273.36" y1="401.04" x2="273.36" y2="410.96" stroke="#e57b6f" stroke-width="0.85"/>
<line x1="271.76" y1="401.04" x2="274.96" y2="401.04" stroke="#e57b6f" stroke-width="0.85"/>
<line x1="271.76" y1="410.96" x2="274.96" y2="410.96" stroke="#e57b6f" stroke-width="0.85"/>
<line x1="285.54" y1="401.04" x2="285.54" y2="413.44" stroke="#e57b6f" stroke-width="0.85"/>
<line x1="283.94" y1="401.04" x2="287.14" y2="401.04" stroke="#e57b6f" stroke-width="0.85"/>
<line x1="283.94" y1="413.44" x2="287.14" y2="413.44" stroke="#e57b6f" stroke-width="0.85"/>
<line x1="297.72" y1="402.90" x2="297.72" y2="421.50" stroke="#e57b6f" stroke-width="0.85"/>
<line x1="296.12" y1="402.90" x2="299.32" y2="402.90" stroke="#e57b6f" stroke-width="0.85"/>
<line x1="296.12" y1="421.50" x2="299.32" y2="421.50" stroke="#e57b6f" stroke-width="0.85"/>
<line x1="309.90" y1="407.86" x2="309.90" y2="428.94" stroke="#e57b6f" stroke-width="0.85"/>
<line x1="308.30" y1="407.86" x2="311.50" y2="407.86" stroke="#e57b6f" stroke-width="0.85"/>
<line x1="308.30" y1="428.94" x2="311.50" y2="428.94" stroke="#e57b6f" stroke-width="0.85"/>
<polyline points="249.00,417.16 261.18,401.04 273.36,406.00 285.54,407.24 297.72,412.20 309.90,418.40" fill="none" stroke="#d12a1c" stroke-width="1.25" stroke-linejoin="round"/>
<circle cx="249.00" cy="417.16" r="2.00" fill="#d12a1c" stroke="#d12a1c" stroke-width="0.5"/>
<circle cx="261.18" cy="401.04" r="2.00" fill="#d12a1c" stroke="#d12a1c" stroke-width="0.5"/>
<circle cx="273.36" cy="406.00" r="2.00" fill="#d12a1c" stroke="#d12a1c" stroke-width="0.5"/>
<circle cx="285.54" cy="407.24" r="2.00" fill="#d12a1c" stroke="#d12a1c" stroke-width="0.5"/>
<circle cx="297.72" cy="412.20" r="2.00" fill="#d12a1c" stroke="#d12a1c" stroke-width="0.5"/>
<circle cx="309.90" cy="418.40" r="2.00" fill="#d12a1c" stroke="#d12a1c" stroke-width="0.5"/>
<line x1="249.00" y1="396.08" x2="249.00" y2="404.76" stroke="#e57b6f" stroke-width="0.85"/>
<line x1="247.40" y1="396.08" x2="250.60" y2="396.08" stroke="#e57b6f" stroke-width="0.85"/>
<line x1="247.40" y1="404.76" x2="250.60" y2="404.76" stroke="#e57b6f" stroke-width="0.85"/>
<line x1="261.18" y1="389.26" x2="261.18" y2="392.98" stroke="#e57b6f" stroke-width="0.85"/>
<line x1="259.58" y1="389.26" x2="262.78" y2="389.26" stroke="#e57b6f" stroke-width="0.85"/>
<line x1="259.58" y1="392.98" x2="262.78" y2="392.98" stroke="#e57b6f" stroke-width="0.85"/>
<line x1="273.36" y1="388.64" x2="273.36" y2="391.12" stroke="#e57b6f" stroke-width="0.85"/>
<line x1="271.76" y1="388.64" x2="274.96" y2="388.64" stroke="#e57b6f" stroke-width="0.85"/>
<line x1="271.76" y1="391.12" x2="274.96" y2="391.12" stroke="#e57b6f" stroke-width="0.85"/>
<line x1="285.54" y1="381.82" x2="285.54" y2="385.54" stroke="#e57b6f" stroke-width="0.85"/>
<line x1="283.94" y1="381.82" x2="287.14" y2="381.82" stroke="#e57b6f" stroke-width="0.85"/>
<line x1="283.94" y1="385.54" x2="287.14" y2="385.54" stroke="#e57b6f" stroke-width="0.85"/>
<line x1="297.72" y1="381.82" x2="297.72" y2="388.02" stroke="#e57b6f" stroke-width="0.85"/>
<line x1="296.12" y1="381.82" x2="299.32" y2="381.82" stroke="#e57b6f" stroke-width="0.85"/>
<line x1="296.12" y1="388.02" x2="299.32" y2="388.02" stroke="#e57b6f" stroke-width="0.85"/>
<line x1="309.90" y1="378.72" x2="309.90" y2="384.92" stroke="#e57b6f" stroke-width="0.85"/>
<line x1="308.30" y1="378.72" x2="311.50" y2="378.72" stroke="#e57b6f" stroke-width="0.85"/>
<line x1="308.30" y1="384.92" x2="311.50" y2="384.92" stroke="#e57b6f" stroke-width="0.85"/>
<polyline points="249.00,400.42 261.18,391.12 273.36,389.88 285.54,383.68 297.72,384.92 309.90,381.82" fill="none" stroke="#de5243" stroke-width="1.25" stroke-linejoin="round" stroke-dasharray="3,1.6"/>
<circle cx="249.00" cy="400.42" r="1.90" fill="#fff" stroke="#de5243" stroke-width="0.8"/>
<circle cx="261.18" cy="391.12" r="1.90" fill="#fff" stroke="#de5243" stroke-width="0.8"/>
<circle cx="273.36" cy="389.88" r="1.90" fill="#fff" stroke="#de5243" stroke-width="0.8"/>
<circle cx="285.54" cy="383.68" r="1.90" fill="#fff" stroke="#de5243" stroke-width="0.8"/>
<circle cx="297.72" cy="384.92" r="1.90" fill="#fff" stroke="#de5243" stroke-width="0.8"/>
<circle cx="309.90" cy="381.82" r="1.90" fill="#fff" stroke="#de5243" stroke-width="0.8"/>
<circle cx="246.15" cy="382.44" r="0.72" fill="#4858b8"/>
<circle cx="248.05" cy="382.44" r="0.72" fill="#4858b8"/>
<circle cx="249.95" cy="382.44" r="0.72" fill="#4858b8"/>
<circle cx="251.85" cy="382.44" r="0.72" fill="#4858b8"/>
<circle cx="258.33" cy="374.38" r="0.72" fill="#4858b8"/>
<circle cx="260.23" cy="374.38" r="0.72" fill="#4858b8"/>
<circle cx="262.13" cy="374.38" r="0.72" fill="#4858b8"/>
<circle cx="264.03" cy="374.38" r="0.72" fill="#4858b8"/>
<circle cx="270.51" cy="371.28" r="0.72" fill="#4858b8"/>
<circle cx="272.41" cy="371.28" r="0.72" fill="#4858b8"/>
<circle cx="274.31" cy="371.28" r="0.72" fill="#4858b8"/>
<circle cx="276.21" cy="371.28" r="0.72" fill="#4858b8"/>
<circle cx="282.69" cy="366.94" r="0.72" fill="#4858b8"/>
<circle cx="284.59" cy="366.94" r="0.72" fill="#4858b8"/>
<circle cx="286.49" cy="366.94" r="0.72" fill="#4858b8"/>
<circle cx="288.39" cy="366.94" r="0.72" fill="#4858b8"/>
<circle cx="285.54" cy="370.04" r="0.72" fill="#dc3325"/>
<circle cx="296.77" cy="370.04" r="0.72" fill="#dc3325"/>
<circle cx="298.67" cy="370.04" r="0.72" fill="#dc3325"/>
<circle cx="308.00" cy="370.04" r="0.72" fill="#dc3325"/>
<circle cx="309.90" cy="370.04" r="0.72" fill="#dc3325"/>
<circle cx="311.80" cy="370.04" r="0.72" fill="#dc3325"/>
<line x1="242.80" y1="433.90" x2="242.80" y2="368.90" stroke="#1a1a1a" stroke-width="1.3"/>
<line x1="239.80" y1="433.90" x2="242.80" y2="433.90" stroke="#1a1a1a" stroke-width="0.9"/>
<text x="236.40" y="436.24" font-size="6.5" text-anchor="end" fill="#222" stroke="#222" stroke-width="0.1">0</text>
<line x1="239.80" y1="421.50" x2="242.80" y2="421.50" stroke="#1a1a1a" stroke-width="0.9"/>
<text x="236.40" y="423.84" font-size="6.5" text-anchor="end" fill="#222" stroke="#222" stroke-width="0.1">20</text>
<line x1="239.80" y1="409.10" x2="242.80" y2="409.10" stroke="#1a1a1a" stroke-width="0.9"/>
<text x="236.40" y="411.44" font-size="6.5" text-anchor="end" fill="#222" stroke="#222" stroke-width="0.1">40</text>
<line x1="239.80" y1="396.70" x2="242.80" y2="396.70" stroke="#1a1a1a" stroke-width="0.9"/>
<text x="236.40" y="399.04" font-size="6.5" text-anchor="end" fill="#222" stroke="#222" stroke-width="0.1">60</text>
<line x1="239.80" y1="384.30" x2="242.80" y2="384.30" stroke="#1a1a1a" stroke-width="0.9"/>
<text x="236.40" y="386.64" font-size="6.5" text-anchor="end" fill="#222" stroke="#222" stroke-width="0.1">80</text>
<line x1="239.80" y1="371.90" x2="242.80" y2="371.90" stroke="#1a1a1a" stroke-width="0.9"/>
<text x="236.40" y="374.24" font-size="6.5" text-anchor="end" fill="#222" stroke="#222" stroke-width="0.1">100</text>
<line x1="242.30" y1="433.90" x2="315.60" y2="433.90" stroke="#1a1a1a" stroke-width="1.3"/>
<line x1="249.00" y1="433.90" x2="249.00" y2="436.80" stroke="#1a1a1a" stroke-width="0.9"/>
<text x="249.00" y="446.10" font-size="6.3" text-anchor="middle" fill="#222" stroke="#222" stroke-width="0.1">4</text>
<line x1="261.18" y1="433.90" x2="261.18" y2="436.80" stroke="#1a1a1a" stroke-width="0.9"/>
<text x="261.18" y="446.10" font-size="6.3" text-anchor="middle" fill="#222" stroke="#222" stroke-width="0.1">8</text>
<line x1="273.36" y1="433.90" x2="273.36" y2="436.80" stroke="#1a1a1a" stroke-width="0.9"/>
<text x="273.36" y="446.10" font-size="6.3" text-anchor="middle" fill="#222" stroke="#222" stroke-width="0.1">12</text>
<line x1="285.54" y1="433.90" x2="285.54" y2="436.80" stroke="#1a1a1a" stroke-width="0.9"/>
<text x="285.54" y="446.10" font-size="6.3" text-anchor="middle" fill="#222" stroke="#222" stroke-width="0.1">16</text>
<line x1="297.72" y1="433.90" x2="297.72" y2="436.80" stroke="#1a1a1a" stroke-width="0.9"/>
<text x="297.72" y="446.10" font-size="6.3" text-anchor="middle" fill="#222" stroke="#222" stroke-width="0.1">20</text>
<line x1="309.90" y1="433.90" x2="309.90" y2="436.80" stroke="#1a1a1a" stroke-width="0.9"/>
<text x="309.90" y="446.10" font-size="6.3" text-anchor="middle" fill="#222" stroke="#222" stroke-width="0.1">24</text>
<text x="366.30" y="358.20" font-size="8.8" fill="#111" stroke="#111" stroke-width="0.1" textLength="24.40" lengthAdjust="spacingAndGlyphs">B220+</text>
<line x1="348.10" y1="421.50" x2="348.10" y2="425.22" stroke="#d6d6d6" stroke-width="0.85"/>
<line x1="346.50" y1="421.50" x2="349.70" y2="421.50" stroke="#d6d6d6" stroke-width="0.85"/>
<line x1="346.50" y1="425.22" x2="349.70" y2="425.22" stroke="#d6d6d6" stroke-width="0.85"/>
<line x1="360.16" y1="423.36" x2="360.16" y2="427.08" stroke="#d6d6d6" stroke-width="0.85"/>
<line x1="358.56" y1="423.36" x2="361.76" y2="423.36" stroke="#d6d6d6" stroke-width="0.85"/>
<line x1="358.56" y1="427.08" x2="361.76" y2="427.08" stroke="#d6d6d6" stroke-width="0.85"/>
<line x1="372.22" y1="423.98" x2="372.22" y2="427.70" stroke="#d6d6d6" stroke-width="0.85"/>
<line x1="370.62" y1="423.98" x2="373.82" y2="423.98" stroke="#d6d6d6" stroke-width="0.85"/>
<line x1="370.62" y1="427.70" x2="373.82" y2="427.70" stroke="#d6d6d6" stroke-width="0.85"/>
<line x1="384.28" y1="423.98" x2="384.28" y2="427.70" stroke="#d6d6d6" stroke-width="0.85"/>
<line x1="382.68" y1="423.98" x2="385.88" y2="423.98" stroke="#d6d6d6" stroke-width="0.85"/>
<line x1="382.68" y1="427.70" x2="385.88" y2="427.70" stroke="#d6d6d6" stroke-width="0.85"/>
<line x1="396.34" y1="426.46" x2="396.34" y2="430.18" stroke="#d6d6d6" stroke-width="0.85"/>
<line x1="394.74" y1="426.46" x2="397.94" y2="426.46" stroke="#d6d6d6" stroke-width="0.85"/>
<line x1="394.74" y1="430.18" x2="397.94" y2="430.18" stroke="#d6d6d6" stroke-width="0.85"/>
<line x1="408.40" y1="428.32" x2="408.40" y2="432.04" stroke="#d6d6d6" stroke-width="0.85"/>
<line x1="406.80" y1="428.32" x2="410.00" y2="428.32" stroke="#d6d6d6" stroke-width="0.85"/>
<line x1="406.80" y1="432.04" x2="410.00" y2="432.04" stroke="#d6d6d6" stroke-width="0.85"/>
<polyline points="348.10,423.36 360.16,425.22 372.22,425.84 384.28,425.84 396.34,428.32 408.40,430.18" fill="none" stroke="#c2c2c2" stroke-width="1.25" stroke-linejoin="round"/>
<circle cx="348.10" cy="423.36" r="2.00" fill="#c2c2c2" stroke="#c2c2c2" stroke-width="0.5"/>
<circle cx="360.16" cy="425.22" r="2.00" fill="#c2c2c2" stroke="#c2c2c2" stroke-width="0.5"/>
<circle cx="372.22" cy="425.84" r="2.00" fill="#c2c2c2" stroke="#c2c2c2" stroke-width="0.5"/>
<circle cx="384.28" cy="425.84" r="2.00" fill="#c2c2c2" stroke="#c2c2c2" stroke-width="0.5"/>
<circle cx="396.34" cy="428.32" r="2.00" fill="#c2c2c2" stroke="#c2c2c2" stroke-width="0.5"/>
<circle cx="408.40" cy="430.18" r="2.00" fill="#c2c2c2" stroke="#c2c2c2" stroke-width="0.5"/>
<line x1="348.10" y1="419.02" x2="348.10" y2="423.98" stroke="#dedede" stroke-width="0.85"/>
<line x1="346.50" y1="419.02" x2="349.70" y2="419.02" stroke="#dedede" stroke-width="0.85"/>
<line x1="346.50" y1="423.98" x2="349.70" y2="423.98" stroke="#dedede" stroke-width="0.85"/>
<line x1="360.16" y1="417.16" x2="360.16" y2="422.12" stroke="#dedede" stroke-width="0.85"/>
<line x1="358.56" y1="417.16" x2="361.76" y2="417.16" stroke="#dedede" stroke-width="0.85"/>
<line x1="358.56" y1="422.12" x2="361.76" y2="422.12" stroke="#dedede" stroke-width="0.85"/>
<line x1="372.22" y1="419.64" x2="372.22" y2="424.60" stroke="#dedede" stroke-width="0.85"/>
<line x1="370.62" y1="419.64" x2="373.82" y2="419.64" stroke="#dedede" stroke-width="0.85"/>
<line x1="370.62" y1="424.60" x2="373.82" y2="424.60" stroke="#dedede" stroke-width="0.85"/>
<line x1="384.28" y1="417.78" x2="384.28" y2="422.74" stroke="#dedede" stroke-width="0.85"/>
<line x1="382.68" y1="417.78" x2="385.88" y2="417.78" stroke="#dedede" stroke-width="0.85"/>
<line x1="382.68" y1="422.74" x2="385.88" y2="422.74" stroke="#dedede" stroke-width="0.85"/>
<line x1="396.34" y1="419.02" x2="396.34" y2="423.98" stroke="#dedede" stroke-width="0.85"/>
<line x1="394.74" y1="419.02" x2="397.94" y2="419.02" stroke="#dedede" stroke-width="0.85"/>
<line x1="394.74" y1="423.98" x2="397.94" y2="423.98" stroke="#dedede" stroke-width="0.85"/>
<line x1="408.40" y1="420.88" x2="408.40" y2="425.84" stroke="#dedede" stroke-width="0.85"/>
<line x1="406.80" y1="420.88" x2="410.00" y2="420.88" stroke="#dedede" stroke-width="0.85"/>
<line x1="406.80" y1="425.84" x2="410.00" y2="425.84" stroke="#dedede" stroke-width="0.85"/>
<polyline points="348.10,421.50 360.16,419.64 372.22,422.12 384.28,420.26 396.34,421.50 408.40,423.36" fill="none" stroke="#d4d4d4" stroke-width="1.25" stroke-linejoin="round" stroke-dasharray="2.6,1.5"/>
<circle cx="348.10" cy="421.50" r="1.90" fill="#fff" stroke="#d4d4d4" stroke-width="0.8"/>
<circle cx="360.16" cy="419.64" r="1.90" fill="#fff" stroke="#d4d4d4" stroke-width="0.8"/>
<circle cx="372.22" cy="422.12" r="1.90" fill="#fff" stroke="#d4d4d4" stroke-width="0.8"/>
<circle cx="384.28" cy="420.26" r="1.90" fill="#fff" stroke="#d4d4d4" stroke-width="0.8"/>
<circle cx="396.34" cy="421.50" r="1.90" fill="#fff" stroke="#d4d4d4" stroke-width="0.8"/>
<circle cx="408.40" cy="423.36" r="1.90" fill="#fff" stroke="#d4d4d4" stroke-width="0.8"/>
<line x1="348.10" y1="432.04" x2="348.10" y2="433.28" stroke="#7d8ad0" stroke-width="0.85"/>
<line x1="346.50" y1="432.04" x2="349.70" y2="432.04" stroke="#7d8ad0" stroke-width="0.85"/>
<line x1="346.50" y1="433.28" x2="349.70" y2="433.28" stroke="#7d8ad0" stroke-width="0.85"/>
<line x1="360.16" y1="433.28" x2="360.16" y2="433.90" stroke="#7d8ad0" stroke-width="0.85"/>
<line x1="358.56" y1="433.28" x2="361.76" y2="433.28" stroke="#7d8ad0" stroke-width="0.85"/>
<line x1="358.56" y1="433.90" x2="361.76" y2="433.90" stroke="#7d8ad0" stroke-width="0.85"/>
<line x1="372.22" y1="425.84" x2="372.22" y2="430.80" stroke="#7d8ad0" stroke-width="0.85"/>
<line x1="370.62" y1="425.84" x2="373.82" y2="425.84" stroke="#7d8ad0" stroke-width="0.85"/>
<line x1="370.62" y1="430.80" x2="373.82" y2="430.80" stroke="#7d8ad0" stroke-width="0.85"/>
<line x1="384.28" y1="430.80" x2="384.28" y2="433.28" stroke="#7d8ad0" stroke-width="0.85"/>
<line x1="382.68" y1="430.80" x2="385.88" y2="430.80" stroke="#7d8ad0" stroke-width="0.85"/>
<line x1="382.68" y1="433.28" x2="385.88" y2="433.28" stroke="#7d8ad0" stroke-width="0.85"/>
<polyline points="348.10,432.66 360.16,433.90 372.22,428.32 384.28,432.04" fill="none" stroke="#3b4ba3" stroke-width="1.25" stroke-linejoin="round"/>
<circle cx="348.10" cy="432.66" r="2.00" fill="#3b4ba3" stroke="#3b4ba3" stroke-width="0.5"/>
<circle cx="360.16" cy="433.90" r="2.00" fill="#3b4ba3" stroke="#3b4ba3" stroke-width="0.5"/>
<circle cx="372.22" cy="428.32" r="2.00" fill="#3b4ba3" stroke="#3b4ba3" stroke-width="0.5"/>
<circle cx="384.28" cy="432.04" r="2.00" fill="#3b4ba3" stroke="#3b4ba3" stroke-width="0.5"/>
<line x1="348.10" y1="422.12" x2="348.10" y2="425.84" stroke="#7d8ad0" stroke-width="0.85"/>
<line x1="346.50" y1="422.12" x2="349.70" y2="422.12" stroke="#7d8ad0" stroke-width="0.85"/>
<line x1="346.50" y1="425.84" x2="349.70" y2="425.84" stroke="#7d8ad0" stroke-width="0.85"/>
<line x1="360.16" y1="408.48" x2="360.16" y2="413.44" stroke="#7d8ad0" stroke-width="0.85"/>
<line x1="358.56" y1="408.48" x2="361.76" y2="408.48" stroke="#7d8ad0" stroke-width="0.85"/>
<line x1="358.56" y1="413.44" x2="361.76" y2="413.44" stroke="#7d8ad0" stroke-width="0.85"/>
<line x1="372.22" y1="392.36" x2="372.22" y2="396.08" stroke="#7d8ad0" stroke-width="0.85"/>
<line x1="370.62" y1="392.36" x2="373.82" y2="392.36" stroke="#7d8ad0" stroke-width="0.85"/>
<line x1="370.62" y1="396.08" x2="373.82" y2="396.08" stroke="#7d8ad0" stroke-width="0.85"/>
<line x1="384.28" y1="397.32" x2="384.28" y2="404.76" stroke="#7d8ad0" stroke-width="0.85"/>
<line x1="382.68" y1="397.32" x2="385.88" y2="397.32" stroke="#7d8ad0" stroke-width="0.85"/>
<line x1="382.68" y1="404.76" x2="385.88" y2="404.76" stroke="#7d8ad0" stroke-width="0.85"/>
<polyline points="348.10,423.98 360.16,410.96 372.22,394.22 384.28,401.04" fill="none" stroke="#6070c0" stroke-width="1.25" stroke-linejoin="round" stroke-dasharray="3,1.6"/>
<circle cx="348.10" cy="423.98" r="1.90" fill="#fff" stroke="#6070c0" stroke-width="0.8"/>
<circle cx="360.16" cy="410.96" r="1.90" fill="#fff" stroke="#6070c0" stroke-width="0.8"/>
<circle cx="372.22" cy="394.22" r="1.90" fill="#fff" stroke="#6070c0" stroke-width="0.8"/>
<circle cx="384.28" cy="401.04" r="1.90" fill="#fff" stroke="#6070c0" stroke-width="0.8"/>
<line x1="348.10" y1="410.34" x2="348.10" y2="417.78" stroke="#e57b6f" stroke-width="0.85"/>
<line x1="346.50" y1="410.34" x2="349.70" y2="410.34" stroke="#e57b6f" stroke-width="0.85"/>
<line x1="346.50" y1="417.78" x2="349.70" y2="417.78" stroke="#e57b6f" stroke-width="0.85"/>
<line x1="360.16" y1="404.14" x2="360.16" y2="411.58" stroke="#e57b6f" stroke-width="0.85"/>
<line x1="358.56" y1="404.14" x2="361.76" y2="404.14" stroke="#e57b6f" stroke-width="0.85"/>
<line x1="358.56" y1="411.58" x2="361.76" y2="411.58" stroke="#e57b6f" stroke-width="0.85"/>
<line x1="372.22" y1="401.66" x2="372.22" y2="416.54" stroke="#e57b6f" stroke-width="0.85"/>
<line x1="370.62" y1="401.66" x2="373.82" y2="401.66" stroke="#e57b6f" stroke-width="0.85"/>
<line x1="370.62" y1="416.54" x2="373.82" y2="416.54" stroke="#e57b6f" stroke-width="0.85"/>
<line x1="384.28" y1="404.76" x2="384.28" y2="419.64" stroke="#e57b6f" stroke-width="0.85"/>
<line x1="382.68" y1="404.76" x2="385.88" y2="404.76" stroke="#e57b6f" stroke-width="0.85"/>
<line x1="382.68" y1="419.64" x2="385.88" y2="419.64" stroke="#e57b6f" stroke-width="0.85"/>
<line x1="396.34" y1="412.20" x2="396.34" y2="428.32" stroke="#e57b6f" stroke-width="0.85"/>
<line x1="394.74" y1="412.20" x2="397.94" y2="412.20" stroke="#e57b6f" stroke-width="0.85"/>
<line x1="394.74" y1="428.32" x2="397.94" y2="428.32" stroke="#e57b6f" stroke-width="0.85"/>
<line x1="408.40" y1="414.06" x2="408.40" y2="431.42" stroke="#e57b6f" stroke-width="0.85"/>
<line x1="406.80" y1="414.06" x2="410.00" y2="414.06" stroke="#e57b6f" stroke-width="0.85"/>
<line x1="406.80" y1="431.42" x2="410.00" y2="431.42" stroke="#e57b6f" stroke-width="0.85"/>
<polyline points="348.10,414.06 360.16,407.86 372.22,409.10 384.28,412.20 396.34,420.26 408.40,422.74" fill="none" stroke="#d12a1c" stroke-width="1.25" stroke-linejoin="round"/>
<circle cx="348.10" cy="414.06" r="2.00" fill="#d12a1c" stroke="#d12a1c" stroke-width="0.5"/>
<circle cx="360.16" cy="407.86" r="2.00" fill="#d12a1c" stroke="#d12a1c" stroke-width="0.5"/>
<circle cx="372.22" cy="409.10" r="2.00" fill="#d12a1c" stroke="#d12a1c" stroke-width="0.5"/>
<circle cx="384.28" cy="412.20" r="2.00" fill="#d12a1c" stroke="#d12a1c" stroke-width="0.5"/>
<circle cx="396.34" cy="420.26" r="2.00" fill="#d12a1c" stroke="#d12a1c" stroke-width="0.5"/>
<circle cx="408.40" cy="422.74" r="2.00" fill="#d12a1c" stroke="#d12a1c" stroke-width="0.5"/>
<line x1="348.10" y1="412.20" x2="348.10" y2="418.40" stroke="#e57b6f" stroke-width="0.85"/>
<line x1="346.50" y1="412.20" x2="349.70" y2="412.20" stroke="#e57b6f" stroke-width="0.85"/>
<line x1="346.50" y1="418.40" x2="349.70" y2="418.40" stroke="#e57b6f" stroke-width="0.85"/>
<line x1="360.16" y1="393.60" x2="360.16" y2="402.28" stroke="#e57b6f" stroke-width="0.85"/>
<line x1="358.56" y1="393.60" x2="361.76" y2="393.60" stroke="#e57b6f" stroke-width="0.85"/>
<line x1="358.56" y1="402.28" x2="361.76" y2="402.28" stroke="#e57b6f" stroke-width="0.85"/>
<line x1="372.22" y1="392.36" x2="372.22" y2="398.56" stroke="#e57b6f" stroke-width="0.85"/>
<line x1="370.62" y1="392.36" x2="373.82" y2="392.36" stroke="#e57b6f" stroke-width="0.85"/>
<line x1="370.62" y1="398.56" x2="373.82" y2="398.56" stroke="#e57b6f" stroke-width="0.85"/>
<line x1="384.28" y1="388.02" x2="384.28" y2="396.70" stroke="#e57b6f" stroke-width="0.85"/>
<line x1="382.68" y1="388.02" x2="385.88" y2="388.02" stroke="#e57b6f" stroke-width="0.85"/>
<line x1="382.68" y1="396.70" x2="385.88" y2="396.70" stroke="#e57b6f" stroke-width="0.85"/>
<line x1="396.34" y1="391.74" x2="396.34" y2="397.94" stroke="#e57b6f" stroke-width="0.85"/>
<line x1="394.74" y1="391.74" x2="397.94" y2="391.74" stroke="#e57b6f" stroke-width="0.85"/>
<line x1="394.74" y1="397.94" x2="397.94" y2="397.94" stroke="#e57b6f" stroke-width="0.85"/>
<line x1="408.40" y1="394.22" x2="408.40" y2="400.42" stroke="#e57b6f" stroke-width="0.85"/>
<line x1="406.80" y1="394.22" x2="410.00" y2="394.22" stroke="#e57b6f" stroke-width="0.85"/>
<line x1="406.80" y1="400.42" x2="410.00" y2="400.42" stroke="#e57b6f" stroke-width="0.85"/>
<polyline points="348.10,415.30 360.16,397.94 372.22,395.46 384.28,392.36 396.34,394.84 408.40,397.32" fill="none" stroke="#de5243" stroke-width="1.25" stroke-linejoin="round" stroke-dasharray="3,1.6"/>
<circle cx="348.10" cy="415.30" r="1.90" fill="#fff" stroke="#de5243" stroke-width="0.8"/>
<circle cx="360.16" cy="397.94" r="1.90" fill="#fff" stroke="#de5243" stroke-width="0.8"/>
<circle cx="372.22" cy="395.46" r="1.90" fill="#fff" stroke="#de5243" stroke-width="0.8"/>
<circle cx="384.28" cy="392.36" r="1.90" fill="#fff" stroke="#de5243" stroke-width="0.8"/>
<circle cx="396.34" cy="394.84" r="1.90" fill="#fff" stroke="#de5243" stroke-width="0.8"/>
<circle cx="408.40" cy="397.32" r="1.90" fill="#fff" stroke="#de5243" stroke-width="0.8"/>
<circle cx="348.10" cy="401.04" r="0.72" fill="#4858b8"/>
<circle cx="357.31" cy="390.50" r="0.72" fill="#4858b8"/>
<circle cx="359.21" cy="390.50" r="0.72" fill="#4858b8"/>
<circle cx="361.11" cy="390.50" r="0.72" fill="#4858b8"/>
<circle cx="363.01" cy="390.50" r="0.72" fill="#4858b8"/>
<circle cx="369.37" cy="386.78" r="0.72" fill="#4858b8"/>
<circle cx="371.27" cy="386.78" r="0.72" fill="#4858b8"/>
<circle cx="373.17" cy="386.78" r="0.72" fill="#4858b8"/>
<circle cx="375.07" cy="386.78" r="0.72" fill="#4858b8"/>
<circle cx="381.43" cy="383.06" r="0.72" fill="#4858b8"/>
<circle cx="383.33" cy="383.06" r="0.72" fill="#4858b8"/>
<circle cx="385.23" cy="383.06" r="0.72" fill="#4858b8"/>
<circle cx="387.13" cy="383.06" r="0.72" fill="#4858b8"/>
<circle cx="396.34" cy="383.06" r="0.72" fill="#dc3325"/>
<circle cx="408.40" cy="383.06" r="0.72" fill="#dc3325"/>
<line x1="342.20" y1="433.90" x2="342.20" y2="368.90" stroke="#1a1a1a" stroke-width="1.3"/>
<line x1="339.20" y1="433.90" x2="342.20" y2="433.90" stroke="#1a1a1a" stroke-width="0.9"/>
<text x="335.80" y="436.24" font-size="6.5" text-anchor="end" fill="#222" stroke="#222" stroke-width="0.1">0</text>
<line x1="339.20" y1="421.50" x2="342.20" y2="421.50" stroke="#1a1a1a" stroke-width="0.9"/>
<text x="335.80" y="423.84" font-size="6.5" text-anchor="end" fill="#222" stroke="#222" stroke-width="0.1">20</text>
<line x1="339.20" y1="409.10" x2="342.20" y2="409.10" stroke="#1a1a1a" stroke-width="0.9"/>
<text x="335.80" y="411.44" font-size="6.5" text-anchor="end" fill="#222" stroke="#222" stroke-width="0.1">40</text>
<line x1="339.20" y1="396.70" x2="342.20" y2="396.70" stroke="#1a1a1a" stroke-width="0.9"/>
<text x="335.80" y="399.04" font-size="6.5" text-anchor="end" fill="#222" stroke="#222" stroke-width="0.1">60</text>
<line x1="339.20" y1="384.30" x2="342.20" y2="384.30" stroke="#1a1a1a" stroke-width="0.9"/>
<text x="335.80" y="386.64" font-size="6.5" text-anchor="end" fill="#222" stroke="#222" stroke-width="0.1">80</text>
<line x1="339.20" y1="371.90" x2="342.20" y2="371.90" stroke="#1a1a1a" stroke-width="0.9"/>
<text x="335.80" y="374.24" font-size="6.5" text-anchor="end" fill="#222" stroke="#222" stroke-width="0.1">100</text>
<line x1="341.70" y1="433.90" x2="414.10" y2="433.90" stroke="#1a1a1a" stroke-width="1.3"/>
<line x1="348.10" y1="433.90" x2="348.10" y2="436.80" stroke="#1a1a1a" stroke-width="0.9"/>
<text x="348.10" y="446.10" font-size="6.3" text-anchor="middle" fill="#222" stroke="#222" stroke-width="0.1">4</text>
<line x1="360.16" y1="433.90" x2="360.16" y2="436.80" stroke="#1a1a1a" stroke-width="0.9"/>
<text x="360.16" y="446.10" font-size="6.3" text-anchor="middle" fill="#222" stroke="#222" stroke-width="0.1">8</text>
<line x1="372.22" y1="433.90" x2="372.22" y2="436.80" stroke="#1a1a1a" stroke-width="0.9"/>
<text x="372.22" y="446.10" font-size="6.3" text-anchor="middle" fill="#222" stroke="#222" stroke-width="0.1">12</text>
<line x1="384.28" y1="433.90" x2="384.28" y2="436.80" stroke="#1a1a1a" stroke-width="0.9"/>
<text x="384.28" y="446.10" font-size="6.3" text-anchor="middle" fill="#222" stroke="#222" stroke-width="0.1">16</text>
<line x1="396.34" y1="433.90" x2="396.34" y2="436.80" stroke="#1a1a1a" stroke-width="0.9"/>
<text x="396.34" y="446.10" font-size="6.3" text-anchor="middle" fill="#222" stroke="#222" stroke-width="0.1">20</text>
<line x1="408.40" y1="433.90" x2="408.40" y2="436.80" stroke="#1a1a1a" stroke-width="0.9"/>
<text x="408.40" y="446.10" font-size="6.3" text-anchor="middle" fill="#222" stroke="#222" stroke-width="0.1">24</text>
<text x="465.50" y="358.20" font-size="8.8" fill="#111" stroke="#111" stroke-width="0.1" textLength="22.10" lengthAdjust="spacingAndGlyphs">CD3+</text>
<line x1="446.60" y1="422.74" x2="446.60" y2="426.46" stroke="#d6d6d6" stroke-width="0.85"/>
<line x1="445.00" y1="422.74" x2="448.20" y2="422.74" stroke="#d6d6d6" stroke-width="0.85"/>
<line x1="445.00" y1="426.46" x2="448.20" y2="426.46" stroke="#d6d6d6" stroke-width="0.85"/>
<line x1="458.66" y1="423.36" x2="458.66" y2="427.08" stroke="#d6d6d6" stroke-width="0.85"/>
<line x1="457.06" y1="423.36" x2="460.26" y2="423.36" stroke="#d6d6d6" stroke-width="0.85"/>
<line x1="457.06" y1="427.08" x2="460.26" y2="427.08" stroke="#d6d6d6" stroke-width="0.85"/>
<line x1="470.72" y1="423.98" x2="470.72" y2="427.70" stroke="#d6d6d6" stroke-width="0.85"/>
<line x1="469.12" y1="423.98" x2="472.32" y2="423.98" stroke="#d6d6d6" stroke-width="0.85"/>
<line x1="469.12" y1="427.70" x2="472.32" y2="427.70" stroke="#d6d6d6" stroke-width="0.85"/>
<line x1="482.78" y1="424.60" x2="482.78" y2="428.32" stroke="#d6d6d6" stroke-width="0.85"/>
<line x1="481.18" y1="424.60" x2="484.38" y2="424.60" stroke="#d6d6d6" stroke-width="0.85"/>
<line x1="481.18" y1="428.32" x2="484.38" y2="428.32" stroke="#d6d6d6" stroke-width="0.85"/>
<line x1="494.84" y1="425.84" x2="494.84" y2="429.56" stroke="#d6d6d6" stroke-width="0.85"/>
<line x1="493.24" y1="425.84" x2="496.44" y2="425.84" stroke="#d6d6d6" stroke-width="0.85"/>
<line x1="493.24" y1="429.56" x2="496.44" y2="429.56" stroke="#d6d6d6" stroke-width="0.85"/>
<line x1="506.90" y1="427.08" x2="506.90" y2="430.80" stroke="#d6d6d6" stroke-width="0.85"/>
<line x1="505.30" y1="427.08" x2="508.50" y2="427.08" stroke="#d6d6d6" stroke-width="0.85"/>
<line x1="505.30" y1="430.80" x2="508.50" y2="430.80" stroke="#d6d6d6" stroke-width="0.85"/>
<polyline points="446.60,424.60 458.66,425.22 470.72,425.84 482.78,426.46 494.84,427.70 506.90,428.94" fill="none" stroke="#c2c2c2" stroke-width="1.25" stroke-linejoin="round"/>
<circle cx="446.60" cy="424.60" r="2.00" fill="#c2c2c2" stroke="#c2c2c2" stroke-width="0.5"/>
<circle cx="458.66" cy="425.22" r="2.00" fill="#c2c2c2" stroke="#c2c2c2" stroke-width="0.5"/>
<circle cx="470.72" cy="425.84" r="2.00" fill="#c2c2c2" stroke="#c2c2c2" stroke-width="0.5"/>
<circle cx="482.78" cy="426.46" r="2.00" fill="#c2c2c2" stroke="#c2c2c2" stroke-width="0.5"/>
<circle cx="494.84" cy="427.70" r="2.00" fill="#c2c2c2" stroke="#c2c2c2" stroke-width="0.5"/>
<circle cx="506.90" cy="428.94" r="2.00" fill="#c2c2c2" stroke="#c2c2c2" stroke-width="0.5"/>
<line x1="446.60" y1="420.26" x2="446.60" y2="425.22" stroke="#dedede" stroke-width="0.85"/>
<line x1="445.00" y1="420.26" x2="448.20" y2="420.26" stroke="#dedede" stroke-width="0.85"/>
<line x1="445.00" y1="425.22" x2="448.20" y2="425.22" stroke="#dedede" stroke-width="0.85"/>
<line x1="458.66" y1="417.78" x2="458.66" y2="422.74" stroke="#dedede" stroke-width="0.85"/>
<line x1="457.06" y1="417.78" x2="460.26" y2="417.78" stroke="#dedede" stroke-width="0.85"/>
<line x1="457.06" y1="422.74" x2="460.26" y2="422.74" stroke="#dedede" stroke-width="0.85"/>
<line x1="470.72" y1="419.02" x2="470.72" y2="423.98" stroke="#dedede" stroke-width="0.85"/>
<line x1="469.12" y1="419.02" x2="472.32" y2="419.02" stroke="#dedede" stroke-width="0.85"/>
<line x1="469.12" y1="423.98" x2="472.32" y2="423.98" stroke="#dedede" stroke-width="0.85"/>
<line x1="482.78" y1="419.64" x2="482.78" y2="424.60" stroke="#dedede" stroke-width="0.85"/>
<line x1="481.18" y1="419.64" x2="484.38" y2="419.64" stroke="#dedede" stroke-width="0.85"/>
<line x1="481.18" y1="424.60" x2="484.38" y2="424.60" stroke="#dedede" stroke-width="0.85"/>
<line x1="494.84" y1="420.26" x2="494.84" y2="425.22" stroke="#dedede" stroke-width="0.85"/>
<line x1="493.24" y1="420.26" x2="496.44" y2="420.26" stroke="#dedede" stroke-width="0.85"/>
<line x1="493.24" y1="425.22" x2="496.44" y2="425.22" stroke="#dedede" stroke-width="0.85"/>
<line x1="506.90" y1="420.88" x2="506.90" y2="425.84" stroke="#dedede" stroke-width="0.85"/>
<line x1="505.30" y1="420.88" x2="508.50" y2="420.88" stroke="#dedede" stroke-width="0.85"/>
<line x1="505.30" y1="425.84" x2="508.50" y2="425.84" stroke="#dedede" stroke-width="0.85"/>
<polyline points="446.60,422.74 458.66,420.26 470.72,421.50 482.78,422.12 494.84,422.74 506.90,423.36" fill="none" stroke="#d4d4d4" stroke-width="1.25" stroke-linejoin="round" stroke-dasharray="2.6,1.5"/>
<circle cx="446.60" cy="422.74" r="1.90" fill="#fff" stroke="#d4d4d4" stroke-width="0.8"/>
<circle cx="458.66" cy="420.26" r="1.90" fill="#fff" stroke="#d4d4d4" stroke-width="0.8"/>
<circle cx="470.72" cy="421.50" r="1.90" fill="#fff" stroke="#d4d4d4" stroke-width="0.8"/>
<circle cx="482.78" cy="422.12" r="1.90" fill="#fff" stroke="#d4d4d4" stroke-width="0.8"/>
<circle cx="494.84" cy="422.74" r="1.90" fill="#fff" stroke="#d4d4d4" stroke-width="0.8"/>
<circle cx="506.90" cy="423.36" r="1.90" fill="#fff" stroke="#d4d4d4" stroke-width="0.8"/>
<line x1="446.60" y1="432.04" x2="446.60" y2="433.28" stroke="#7d8ad0" stroke-width="0.85"/>
<line x1="445.00" y1="432.04" x2="448.20" y2="432.04" stroke="#7d8ad0" stroke-width="0.85"/>
<line x1="445.00" y1="433.28" x2="448.20" y2="433.28" stroke="#7d8ad0" stroke-width="0.85"/>
<line x1="458.66" y1="433.28" x2="458.66" y2="433.90" stroke="#7d8ad0" stroke-width="0.85"/>
<line x1="457.06" y1="433.28" x2="460.26" y2="433.28" stroke="#7d8ad0" stroke-width="0.85"/>
<line x1="457.06" y1="433.90" x2="460.26" y2="433.90" stroke="#7d8ad0" stroke-width="0.85"/>
<line x1="470.72" y1="432.04" x2="470.72" y2="433.28" stroke="#7d8ad0" stroke-width="0.85"/>
<line x1="469.12" y1="432.04" x2="472.32" y2="432.04" stroke="#7d8ad0" stroke-width="0.85"/>
<line x1="469.12" y1="433.28" x2="472.32" y2="433.28" stroke="#7d8ad0" stroke-width="0.85"/>
<line x1="482.78" y1="431.42" x2="482.78" y2="432.66" stroke="#7d8ad0" stroke-width="0.85"/>
<line x1="481.18" y1="431.42" x2="484.38" y2="431.42" stroke="#7d8ad0" stroke-width="0.85"/>
<line x1="481.18" y1="432.66" x2="484.38" y2="432.66" stroke="#7d8ad0" stroke-width="0.85"/>
<polyline points="446.60,432.66 458.66,433.90 470.72,432.66 482.78,432.04" fill="none" stroke="#3b4ba3" stroke-width="1.25" stroke-linejoin="round"/>
<circle cx="446.60" cy="432.66" r="2.00" fill="#3b4ba3" stroke="#3b4ba3" stroke-width="0.5"/>
<circle cx="458.66" cy="433.90" r="2.00" fill="#3b4ba3" stroke="#3b4ba3" stroke-width="0.5"/>
<circle cx="470.72" cy="432.66" r="2.00" fill="#3b4ba3" stroke="#3b4ba3" stroke-width="0.5"/>
<circle cx="482.78" cy="432.04" r="2.00" fill="#3b4ba3" stroke="#3b4ba3" stroke-width="0.5"/>
<line x1="446.60" y1="423.36" x2="446.60" y2="425.84" stroke="#7d8ad0" stroke-width="0.85"/>
<line x1="445.00" y1="423.36" x2="448.20" y2="423.36" stroke="#7d8ad0" stroke-width="0.85"/>
<line x1="445.00" y1="425.84" x2="448.20" y2="425.84" stroke="#7d8ad0" stroke-width="0.85"/>
<line x1="458.66" y1="419.02" x2="458.66" y2="422.74" stroke="#7d8ad0" stroke-width="0.85"/>
<line x1="457.06" y1="419.02" x2="460.26" y2="419.02" stroke="#7d8ad0" stroke-width="0.85"/>
<line x1="457.06" y1="422.74" x2="460.26" y2="422.74" stroke="#7d8ad0" stroke-width="0.85"/>
<line x1="470.72" y1="410.96" x2="470.72" y2="415.92" stroke="#7d8ad0" stroke-width="0.85"/>
<line x1="469.12" y1="410.96" x2="472.32" y2="410.96" stroke="#7d8ad0" stroke-width="0.85"/>
<line x1="469.12" y1="415.92" x2="472.32" y2="415.92" stroke="#7d8ad0" stroke-width="0.85"/>
<line x1="482.78" y1="403.52" x2="482.78" y2="412.20" stroke="#7d8ad0" stroke-width="0.85"/>
<line x1="481.18" y1="403.52" x2="484.38" y2="403.52" stroke="#7d8ad0" stroke-width="0.85"/>
<line x1="481.18" y1="412.20" x2="484.38" y2="412.20" stroke="#7d8ad0" stroke-width="0.85"/>
<polyline points="446.60,424.60 458.66,420.88 470.72,413.44 482.78,407.86" fill="none" stroke="#6070c0" stroke-width="1.25" stroke-linejoin="round" stroke-dasharray="3,1.6"/>
<circle cx="446.60" cy="424.60" r="1.90" fill="#fff" stroke="#6070c0" stroke-width="0.8"/>
<circle cx="458.66" cy="420.88" r="1.90" fill="#fff" stroke="#6070c0" stroke-width="0.8"/>
<circle cx="470.72" cy="413.44" r="1.90" fill="#fff" stroke="#6070c0" stroke-width="0.8"/>
<circle cx="482.78" cy="407.86" r="1.90" fill="#fff" stroke="#6070c0" stroke-width="0.8"/>
<line x1="446.60" y1="416.54" x2="446.60" y2="422.74" stroke="#e57b6f" stroke-width="0.85"/>
<line x1="445.00" y1="416.54" x2="448.20" y2="416.54" stroke="#e57b6f" stroke-width="0.85"/>
<line x1="445.00" y1="422.74" x2="448.20" y2="422.74" stroke="#e57b6f" stroke-width="0.85"/>
<line x1="458.66" y1="404.76" x2="458.66" y2="412.20" stroke="#e57b6f" stroke-width="0.85"/>
<line x1="457.06" y1="404.76" x2="460.26" y2="404.76" stroke="#e57b6f" stroke-width="0.85"/>
<line x1="457.06" y1="412.20" x2="460.26" y2="412.20" stroke="#e57b6f" stroke-width="0.85"/>
<line x1="470.72" y1="402.90" x2="470.72" y2="415.30" stroke="#e57b6f" stroke-width="0.85"/>
<line x1="469.12" y1="402.90" x2="472.32" y2="402.90" stroke="#e57b6f" stroke-width="0.85"/>
<line x1="469.12" y1="415.30" x2="472.32" y2="415.30" stroke="#e57b6f" stroke-width="0.85"/>
<line x1="482.78" y1="410.34" x2="482.78" y2="422.74" stroke="#e57b6f" stroke-width="0.85"/>
<line x1="481.18" y1="410.34" x2="484.38" y2="410.34" stroke="#e57b6f" stroke-width="0.85"/>
<line x1="481.18" y1="422.74" x2="484.38" y2="422.74" stroke="#e57b6f" stroke-width="0.85"/>
<line x1="494.84" y1="410.34" x2="494.84" y2="428.94" stroke="#e57b6f" stroke-width="0.85"/>
<line x1="493.24" y1="410.34" x2="496.44" y2="410.34" stroke="#e57b6f" stroke-width="0.85"/>
<line x1="493.24" y1="428.94" x2="496.44" y2="428.94" stroke="#e57b6f" stroke-width="0.85"/>
<line x1="506.90" y1="412.20" x2="506.90" y2="430.80" stroke="#e57b6f" stroke-width="0.85"/>
<line x1="505.30" y1="412.20" x2="508.50" y2="412.20" stroke="#e57b6f" stroke-width="0.85"/>
<line x1="505.30" y1="430.80" x2="508.50" y2="430.80" stroke="#e57b6f" stroke-width="0.85"/>
<polyline points="446.60,419.64 458.66,408.48 470.72,409.10 482.78,416.54 494.84,419.64 506.90,421.50" fill="none" stroke="#d12a1c" stroke-width="1.25" stroke-linejoin="round"/>
<circle cx="446.60" cy="419.64" r="2.00" fill="#d12a1c" stroke="#d12a1c" stroke-width="0.5"/>
<circle cx="458.66" cy="408.48" r="2.00" fill="#d12a1c" stroke="#d12a1c" stroke-width="0.5"/>
<circle cx="470.72" cy="409.10" r="2.00" fill="#d12a1c" stroke="#d12a1c" stroke-width="0.5"/>
<circle cx="482.78" cy="416.54" r="2.00" fill="#d12a1c" stroke="#d12a1c" stroke-width="0.5"/>
<circle cx="494.84" cy="419.64" r="2.00" fill="#d12a1c" stroke="#d12a1c" stroke-width="0.5"/>
<circle cx="506.90" cy="421.50" r="2.00" fill="#d12a1c" stroke="#d12a1c" stroke-width="0.5"/>
<line x1="446.60" y1="411.58" x2="446.60" y2="416.54" stroke="#e57b6f" stroke-width="0.85"/>
<line x1="445.00" y1="411.58" x2="448.20" y2="411.58" stroke="#e57b6f" stroke-width="0.85"/>
<line x1="445.00" y1="416.54" x2="448.20" y2="416.54" stroke="#e57b6f" stroke-width="0.85"/>
<line x1="458.66" y1="397.94" x2="458.66" y2="404.14" stroke="#e57b6f" stroke-width="0.85"/>
<line x1="457.06" y1="397.94" x2="460.26" y2="397.94" stroke="#e57b6f" stroke-width="0.85"/>
<line x1="457.06" y1="404.14" x2="460.26" y2="404.14" stroke="#e57b6f" stroke-width="0.85"/>
<line x1="470.72" y1="394.84" x2="470.72" y2="402.28" stroke="#e57b6f" stroke-width="0.85"/>
<line x1="469.12" y1="394.84" x2="472.32" y2="394.84" stroke="#e57b6f" stroke-width="0.85"/>
<line x1="469.12" y1="402.28" x2="472.32" y2="402.28" stroke="#e57b6f" stroke-width="0.85"/>
<line x1="482.78" y1="394.22" x2="482.78" y2="397.94" stroke="#e57b6f" stroke-width="0.85"/>
<line x1="481.18" y1="394.22" x2="484.38" y2="394.22" stroke="#e57b6f" stroke-width="0.85"/>
<line x1="481.18" y1="397.94" x2="484.38" y2="397.94" stroke="#e57b6f" stroke-width="0.85"/>
<line x1="494.84" y1="391.74" x2="494.84" y2="397.94" stroke="#e57b6f" stroke-width="0.85"/>
<line x1="493.24" y1="391.74" x2="496.44" y2="391.74" stroke="#e57b6f" stroke-width="0.85"/>
<line x1="493.24" y1="397.94" x2="496.44" y2="397.94" stroke="#e57b6f" stroke-width="0.85"/>
<line x1="506.90" y1="396.70" x2="506.90" y2="400.42" stroke="#e57b6f" stroke-width="0.85"/>
<line x1="505.30" y1="396.70" x2="508.50" y2="396.70" stroke="#e57b6f" stroke-width="0.85"/>
<line x1="505.30" y1="400.42" x2="508.50" y2="400.42" stroke="#e57b6f" stroke-width="0.85"/>
<polyline points="446.60,414.06 458.66,401.04 470.72,398.56 482.78,396.08 494.84,394.84 506.90,398.56" fill="none" stroke="#de5243" stroke-width="1.25" stroke-linejoin="round" stroke-dasharray="3,1.6"/>
<circle cx="446.60" cy="414.06" r="1.90" fill="#fff" stroke="#de5243" stroke-width="0.8"/>
<circle cx="458.66" cy="401.04" r="1.90" fill="#fff" stroke="#de5243" stroke-width="0.8"/>
<circle cx="470.72" cy="398.56" r="1.90" fill="#fff" stroke="#de5243" stroke-width="0.8"/>
<circle cx="482.78" cy="396.08" r="1.90" fill="#fff" stroke="#de5243" stroke-width="0.8"/>
<circle cx="494.84" cy="394.84" r="1.90" fill="#fff" stroke="#de5243" stroke-width="0.8"/>
<circle cx="506.90" cy="398.56" r="1.90" fill="#fff" stroke="#de5243" stroke-width="0.8"/>
<circle cx="446.60" cy="399.18" r="0.72" fill="#4858b8"/>
<circle cx="455.81" cy="391.74" r="0.72" fill="#4858b8"/>
<circle cx="457.71" cy="391.74" r="0.72" fill="#4858b8"/>
<circle cx="459.61" cy="391.74" r="0.72" fill="#4858b8"/>
<circle cx="461.51" cy="391.74" r="0.72" fill="#4858b8"/>
<circle cx="467.87" cy="387.40" r="0.72" fill="#4858b8"/>
<circle cx="469.77" cy="387.40" r="0.72" fill="#4858b8"/>
<circle cx="471.67" cy="387.40" r="0.72" fill="#4858b8"/>
<circle cx="473.57" cy="387.40" r="0.72" fill="#4858b8"/>
<circle cx="479.93" cy="383.68" r="0.72" fill="#4858b8"/>
<circle cx="481.83" cy="383.68" r="0.72" fill="#4858b8"/>
<circle cx="483.73" cy="383.68" r="0.72" fill="#4858b8"/>
<circle cx="485.63" cy="383.68" r="0.72" fill="#4858b8"/>
<circle cx="494.84" cy="383.68" r="0.72" fill="#dc3325"/>
<circle cx="506.90" cy="383.68" r="0.72" fill="#dc3325"/>
<line x1="441.10" y1="433.90" x2="441.10" y2="368.90" stroke="#1a1a1a" stroke-width="1.3"/>
<line x1="438.10" y1="433.90" x2="441.10" y2="433.90" stroke="#1a1a1a" stroke-width="0.9"/>
<text x="434.70" y="436.24" font-size="6.5" text-anchor="end" fill="#222" stroke="#222" stroke-width="0.1">0</text>
<line x1="438.10" y1="421.50" x2="441.10" y2="421.50" stroke="#1a1a1a" stroke-width="0.9"/>
<text x="434.70" y="423.84" font-size="6.5" text-anchor="end" fill="#222" stroke="#222" stroke-width="0.1">20</text>
<line x1="438.10" y1="409.10" x2="441.10" y2="409.10" stroke="#1a1a1a" stroke-width="0.9"/>
<text x="434.70" y="411.44" font-size="6.5" text-anchor="end" fill="#222" stroke="#222" stroke-width="0.1">40</text>
<line x1="438.10" y1="396.70" x2="441.10" y2="396.70" stroke="#1a1a1a" stroke-width="0.9"/>
<text x="434.70" y="399.04" font-size="6.5" text-anchor="end" fill="#222" stroke="#222" stroke-width="0.1">60</text>
<line x1="438.10" y1="384.30" x2="441.10" y2="384.30" stroke="#1a1a1a" stroke-width="0.9"/>
<text x="434.70" y="386.64" font-size="6.5" text-anchor="end" fill="#222" stroke="#222" stroke-width="0.1">80</text>
<line x1="438.10" y1="371.90" x2="441.10" y2="371.90" stroke="#1a1a1a" stroke-width="0.9"/>
<text x="434.70" y="374.24" font-size="6.5" text-anchor="end" fill="#222" stroke="#222" stroke-width="0.1">100</text>
<line x1="440.60" y1="433.90" x2="512.60" y2="433.90" stroke="#1a1a1a" stroke-width="1.3"/>
<line x1="446.60" y1="433.90" x2="446.60" y2="436.80" stroke="#1a1a1a" stroke-width="0.9"/>
<text x="446.60" y="446.10" font-size="6.3" text-anchor="middle" fill="#222" stroke="#222" stroke-width="0.1">4</text>
<line x1="458.66" y1="433.90" x2="458.66" y2="436.80" stroke="#1a1a1a" stroke-width="0.9"/>
<text x="458.66" y="446.10" font-size="6.3" text-anchor="middle" fill="#222" stroke="#222" stroke-width="0.1">8</text>
<line x1="470.72" y1="433.90" x2="470.72" y2="436.80" stroke="#1a1a1a" stroke-width="0.9"/>
<text x="470.72" y="446.10" font-size="6.3" text-anchor="middle" fill="#222" stroke="#222" stroke-width="0.1">12</text>
<line x1="482.78" y1="433.90" x2="482.78" y2="436.80" stroke="#1a1a1a" stroke-width="0.9"/>
<text x="482.78" y="446.10" font-size="6.3" text-anchor="middle" fill="#222" stroke="#222" stroke-width="0.1">16</text>
<line x1="494.84" y1="433.90" x2="494.84" y2="436.80" stroke="#1a1a1a" stroke-width="0.9"/>
<text x="494.84" y="446.10" font-size="6.3" text-anchor="middle" fill="#222" stroke="#222" stroke-width="0.1">20</text>
<line x1="506.90" y1="433.90" x2="506.90" y2="436.80" stroke="#1a1a1a" stroke-width="0.9"/>
<text x="506.90" y="446.10" font-size="6.3" text-anchor="middle" fill="#222" stroke="#222" stroke-width="0.1">24</text>
<text x="7.00" y="479.90" font-size="10.8" font-weight="bold">D</text>
<text x="42.30" y="479.60" font-size="8.7" stroke="#000" stroke-width="0.1" textLength="303.40" lengthAdjust="spacingAndGlyphs"><tspan font-style="italic">In vivo</tspan> lineage contribution of CD41<tspan dy="-3.4" font-size="5.8">lo</tspan><tspan dy="3.4"> and CD41</tspan><tspan dy="-3.4" font-size="5.8">hi</tspan><tspan dy="3.4"> HSCs to HSPCs of recipients</tspan></text>
<rect x="58.90" y="489.10" width="4.90" height="3.10" fill="#fff" stroke="#1a1a1a" stroke-width="1.0" rx="0.3"/>
<text x="67.60" y="492.60" font-size="5.8" fill="#1a1a1a" stroke="#1a1a1a" stroke-width="0.1" textLength="25.60" lengthAdjust="spacingAndGlyphs"><tspan font-style="italic">WT</tspan> CD41<tspan dy="-2.3" font-size="3.8">lo</tspan></text>
<rect x="102.30" y="489.10" width="4.90" height="3.10" fill="#fff" stroke="#6070c0" stroke-width="1.0" rx="0.3"/>
<text x="110.80" y="492.60" font-size="5.8" fill="#6070c0" stroke="#6070c0" stroke-width="0.1" textLength="25.20" lengthAdjust="spacingAndGlyphs"><tspan font-style="italic">VF</tspan> CD41<tspan dy="-2.3" font-size="3.8">lo</tspan></text>
<rect x="144.50" y="489.10" width="4.90" height="3.10" fill="#fff" stroke="#de5243" stroke-width="1.0" rx="0.3"/>
<text x="153.10" y="492.60" font-size="5.8" fill="#de5243" stroke="#de5243" stroke-width="0.1" textLength="23.80" lengthAdjust="spacingAndGlyphs"><tspan font-style="italic">E12</tspan> CD41<tspan dy="-2.3" font-size="3.8">lo</tspan></text>
<rect x="189.30" y="489.10" width="4.90" height="3.10" fill="#bdbdbd" stroke="#1a1a1a" stroke-width="1.0" rx="0.3"/>
<text x="197.70" y="492.60" font-size="5.8" fill="#1a1a1a" stroke="#1a1a1a" stroke-width="0.1" textLength="25.90" lengthAdjust="spacingAndGlyphs"><tspan font-style="italic">WT</tspan> CD41<tspan dy="-2.3" font-size="3.8">hi</tspan></text>
<rect x="233.30" y="488.60" width="5.90" height="4.10" fill="#3b4ba3"/>
<text x="241.70" y="492.60" font-size="5.8" fill="#6070c0" stroke="#6070c0" stroke-width="0.1" textLength="24.80" lengthAdjust="spacingAndGlyphs"><tspan font-style="italic">VF</tspan> CD41<tspan dy="-2.3" font-size="3.8">hi</tspan></text>
<rect x="274.30" y="488.60" width="5.90" height="4.10" fill="#d12a1c"/>
<text x="282.70" y="492.60" font-size="5.8" fill="#de5243" stroke="#de5243" stroke-width="0.1" textLength="26.80" lengthAdjust="spacingAndGlyphs"><tspan font-style="italic">E12</tspan> CD41<tspan dy="-2.3" font-size="3.8">hi</tspan></text>
<text x="47.60" y="507.00" font-size="6.7" fill="#222" stroke="#222" stroke-width="0.1" textLength="38.90" lengthAdjust="spacingAndGlyphs">Bone marrow</text>
<text x="0.00" y="0.00" font-size="7.2" text-anchor="middle" fill="#222" stroke="#222" stroke-width="0.1" textLength="16.60" lengthAdjust="spacingAndGlyphs" transform="translate(24.8,548.0) rotate(-90)">% GFP</text>
<line x1="51.20" y1="563.38" x2="51.20" y2="558.37" stroke="#1a1a1a" stroke-width="0.8"/>
<line x1="50.10" y1="558.37" x2="52.30" y2="558.37" stroke="#1a1a1a" stroke-width="0.8"/>
<rect x="50.05" y="563.78" width="2.30" height="10.62" fill="#fff" stroke="#1a1a1a" stroke-width="0.8"/>
<rect x="53.95" y="573.80" width="2.30" height="0.60" fill="#bdbdbd" stroke="#1a1a1a" stroke-width="0.8"/>
<line x1="59.00" y1="547.35" x2="59.00" y2="539.33" stroke="#6070c0" stroke-width="0.8"/>
<line x1="57.90" y1="539.33" x2="60.10" y2="539.33" stroke="#6070c0" stroke-width="0.8"/>
<rect x="57.85" y="547.75" width="2.30" height="26.65" fill="#fff" stroke="#6070c0" stroke-width="0.8"/>
<rect x="61.35" y="573.90" width="3.10" height="0.50" fill="#3b4ba3"/>
<line x1="66.70" y1="550.85" x2="66.70" y2="541.33" stroke="#de5243" stroke-width="0.8"/>
<line x1="65.60" y1="541.33" x2="67.80" y2="541.33" stroke="#de5243" stroke-width="0.8"/>
<rect x="65.55" y="551.25" width="2.30" height="23.15" fill="#fff" stroke="#de5243" stroke-width="0.8"/>
<line x1="70.50" y1="571.39" x2="70.50" y2="568.39" stroke="#d12a1c" stroke-width="0.8"/>
<line x1="69.40" y1="568.39" x2="71.60" y2="568.39" stroke="#d12a1c" stroke-width="0.8"/>
<rect x="68.95" y="571.39" width="3.10" height="3.01" fill="#d12a1c"/>
<circle cx="58.90" cy="513.60" r="0.72" fill="#4858b8"/>
<circle cx="60.80" cy="513.60" r="0.72" fill="#4858b8"/>
<circle cx="62.70" cy="513.60" r="0.72" fill="#4858b8"/>
<circle cx="68.60" cy="517.50" r="0.72" fill="#dc3325"/>
<circle cx="53.20" cy="522.20" r="0.5" fill="#bbb"/>
<line x1="78.50" y1="568.39" x2="78.50" y2="563.38" stroke="#1a1a1a" stroke-width="0.8"/>
<line x1="77.40" y1="563.38" x2="79.60" y2="563.38" stroke="#1a1a1a" stroke-width="0.8"/>
<rect x="77.35" y="568.79" width="2.30" height="5.61" fill="#fff" stroke="#1a1a1a" stroke-width="0.8"/>
<rect x="81.25" y="573.80" width="2.30" height="0.60" fill="#bdbdbd" stroke="#1a1a1a" stroke-width="0.8"/>
<line x1="86.30" y1="539.33" x2="86.30" y2="532.32" stroke="#6070c0" stroke-width="0.8"/>
<line x1="85.20" y1="532.32" x2="87.40" y2="532.32" stroke="#6070c0" stroke-width="0.8"/>
<rect x="85.15" y="539.73" width="2.30" height="34.67" fill="#fff" stroke="#6070c0" stroke-width="0.8"/>
<rect x="88.65" y="574.00" width="3.10" height="0.40" fill="#3b4ba3"/>
<line x1="94.00" y1="550.35" x2="94.00" y2="542.34" stroke="#de5243" stroke-width="0.8"/>
<line x1="92.90" y1="542.34" x2="95.10" y2="542.34" stroke="#de5243" stroke-width="0.8"/>
<rect x="92.85" y="550.75" width="2.30" height="23.65" fill="#fff" stroke="#de5243" stroke-width="0.8"/>
<line x1="97.80" y1="570.89" x2="97.80" y2="567.89" stroke="#d12a1c" stroke-width="0.8"/>
<line x1="96.70" y1="567.89" x2="98.90" y2="567.89" stroke="#d12a1c" stroke-width="0.8"/>
<rect x="96.25" y="570.89" width="3.10" height="3.51" fill="#d12a1c"/>
<circle cx="85.25" cy="513.60" r="0.72" fill="#4858b8"/>
<circle cx="87.15" cy="513.60" r="0.72" fill="#4858b8"/>
<circle cx="89.05" cy="513.60" r="0.72" fill="#4858b8"/>
<circle cx="90.95" cy="513.60" r="0.72" fill="#4858b8"/>
<circle cx="95.90" cy="517.50" r="0.72" fill="#dc3325"/>
<circle cx="80.50" cy="522.20" r="0.5" fill="#bbb"/>
<line x1="105.80" y1="568.39" x2="105.80" y2="564.38" stroke="#1a1a1a" stroke-width="0.8"/>
<line x1="104.70" y1="564.38" x2="106.90" y2="564.38" stroke="#1a1a1a" stroke-width="0.8"/>
<rect x="104.65" y="568.79" width="2.30" height="5.61" fill="#fff" stroke="#1a1a1a" stroke-width="0.8"/>
<rect x="108.55" y="573.80" width="2.30" height="0.60" fill="#bdbdbd" stroke="#1a1a1a" stroke-width="0.8"/>
<line x1="113.60" y1="536.32" x2="113.60" y2="530.31" stroke="#6070c0" stroke-width="0.8"/>
<line x1="112.50" y1="530.31" x2="114.70" y2="530.31" stroke="#6070c0" stroke-width="0.8"/>
<rect x="112.45" y="536.72" width="2.30" height="37.68" fill="#fff" stroke="#6070c0" stroke-width="0.8"/>
<rect x="115.95" y="574.00" width="3.10" height="0.40" fill="#3b4ba3"/>
<line x1="121.30" y1="550.35" x2="121.30" y2="543.34" stroke="#de5243" stroke-width="0.8"/>
<line x1="120.20" y1="543.34" x2="122.40" y2="543.34" stroke="#de5243" stroke-width="0.8"/>
<rect x="120.15" y="550.75" width="2.30" height="23.65" fill="#fff" stroke="#de5243" stroke-width="0.8"/>
<line x1="125.10" y1="570.39" x2="125.10" y2="567.39" stroke="#d12a1c" stroke-width="0.8"/>
<line x1="124.00" y1="567.39" x2="126.20" y2="567.39" stroke="#d12a1c" stroke-width="0.8"/>
<rect x="123.55" y="570.39" width="3.10" height="4.01" fill="#d12a1c"/>
<circle cx="112.55" cy="513.60" r="0.72" fill="#4858b8"/>
<circle cx="114.45" cy="513.60" r="0.72" fill="#4858b8"/>
<circle cx="116.35" cy="513.60" r="0.72" fill="#4858b8"/>
<circle cx="118.25" cy="513.60" r="0.72" fill="#4858b8"/>
<circle cx="123.20" cy="517.50" r="0.72" fill="#dc3325"/>
<line x1="133.10" y1="568.39" x2="133.10" y2="563.88" stroke="#1a1a1a" stroke-width="0.8"/>
<line x1="132.00" y1="563.88" x2="134.20" y2="563.88" stroke="#1a1a1a" stroke-width="0.8"/>
<rect x="131.95" y="568.79" width="2.30" height="5.61" fill="#fff" stroke="#1a1a1a" stroke-width="0.8"/>
<rect x="135.85" y="573.80" width="2.30" height="0.60" fill="#bdbdbd" stroke="#1a1a1a" stroke-width="0.8"/>
<line x1="140.90" y1="536.32" x2="140.90" y2="529.81" stroke="#6070c0" stroke-width="0.8"/>
<line x1="139.80" y1="529.81" x2="142.00" y2="529.81" stroke="#6070c0" stroke-width="0.8"/>
<rect x="139.75" y="536.72" width="2.30" height="37.68" fill="#fff" stroke="#6070c0" stroke-width="0.8"/>
<rect x="143.25" y="574.00" width="3.10" height="0.40" fill="#3b4ba3"/>
<line x1="148.60" y1="548.35" x2="148.60" y2="540.83" stroke="#de5243" stroke-width="0.8"/>
<line x1="147.50" y1="540.83" x2="149.70" y2="540.83" stroke="#de5243" stroke-width="0.8"/>
<rect x="147.45" y="548.75" width="2.30" height="25.65" fill="#fff" stroke="#de5243" stroke-width="0.8"/>
<line x1="152.40" y1="571.89" x2="152.40" y2="569.39" stroke="#d12a1c" stroke-width="0.8"/>
<line x1="151.30" y1="569.39" x2="153.50" y2="569.39" stroke="#d12a1c" stroke-width="0.8"/>
<rect x="150.85" y="571.89" width="3.10" height="2.50" fill="#d12a1c"/>
<circle cx="139.85" cy="513.60" r="0.72" fill="#4858b8"/>
<circle cx="141.75" cy="513.60" r="0.72" fill="#4858b8"/>
<circle cx="143.65" cy="513.60" r="0.72" fill="#4858b8"/>
<circle cx="145.55" cy="513.60" r="0.72" fill="#4858b8"/>
<circle cx="149.55" cy="517.50" r="0.72" fill="#dc3325"/>
<circle cx="151.45" cy="517.50" r="0.72" fill="#dc3325"/>
<line x1="160.40" y1="569.39" x2="160.40" y2="565.38" stroke="#1a1a1a" stroke-width="0.8"/>
<line x1="159.30" y1="565.38" x2="161.50" y2="565.38" stroke="#1a1a1a" stroke-width="0.8"/>
<rect x="159.25" y="569.79" width="2.30" height="4.61" fill="#fff" stroke="#1a1a1a" stroke-width="0.8"/>
<rect x="163.15" y="573.80" width="2.30" height="0.60" fill="#bdbdbd" stroke="#1a1a1a" stroke-width="0.8"/>
<line x1="168.20" y1="535.32" x2="168.20" y2="530.31" stroke="#6070c0" stroke-width="0.8"/>
<line x1="167.10" y1="530.31" x2="169.30" y2="530.31" stroke="#6070c0" stroke-width="0.8"/>
<rect x="167.05" y="535.72" width="2.30" height="38.68" fill="#fff" stroke="#6070c0" stroke-width="0.8"/>
<rect x="170.55" y="574.00" width="3.10" height="0.40" fill="#3b4ba3"/>
<line x1="175.90" y1="537.83" x2="175.90" y2="528.81" stroke="#de5243" stroke-width="0.8"/>
<line x1="174.80" y1="528.81" x2="177.00" y2="528.81" stroke="#de5243" stroke-width="0.8"/>
<rect x="174.75" y="538.23" width="2.30" height="36.17" fill="#fff" stroke="#de5243" stroke-width="0.8"/>
<line x1="179.70" y1="571.39" x2="179.70" y2="568.39" stroke="#d12a1c" stroke-width="0.8"/>
<line x1="178.60" y1="568.39" x2="180.80" y2="568.39" stroke="#d12a1c" stroke-width="0.8"/>
<rect x="178.15" y="571.39" width="3.10" height="3.01" fill="#d12a1c"/>
<circle cx="167.15" cy="513.60" r="0.72" fill="#4858b8"/>
<circle cx="169.05" cy="513.60" r="0.72" fill="#4858b8"/>
<circle cx="170.95" cy="513.60" r="0.72" fill="#4858b8"/>
<circle cx="172.85" cy="513.60" r="0.72" fill="#4858b8"/>
<circle cx="175.90" cy="517.50" r="0.72" fill="#dc3325"/>
<circle cx="177.80" cy="517.50" r="0.72" fill="#dc3325"/>
<circle cx="179.70" cy="517.50" r="0.72" fill="#dc3325"/>
<line x1="187.70" y1="568.89" x2="187.70" y2="564.88" stroke="#1a1a1a" stroke-width="0.8"/>
<line x1="186.60" y1="564.88" x2="188.80" y2="564.88" stroke="#1a1a1a" stroke-width="0.8"/>
<rect x="186.55" y="569.29" width="2.30" height="5.11" fill="#fff" stroke="#1a1a1a" stroke-width="0.8"/>
<rect x="190.45" y="573.80" width="2.30" height="0.60" fill="#bdbdbd" stroke="#1a1a1a" stroke-width="0.8"/>
<line x1="195.50" y1="536.82" x2="195.50" y2="530.31" stroke="#6070c0" stroke-width="0.8"/>
<line x1="194.40" y1="530.31" x2="196.60" y2="530.31" stroke="#6070c0" stroke-width="0.8"/>
<rect x="194.35" y="537.22" width="2.30" height="37.18" fill="#fff" stroke="#6070c0" stroke-width="0.8"/>
<rect x="197.85" y="574.00" width="3.10" height="0.40" fill="#3b4ba3"/>
<line x1="203.20" y1="545.84" x2="203.20" y2="538.33" stroke="#de5243" stroke-width="0.8"/>
<line x1="202.10" y1="538.33" x2="204.30" y2="538.33" stroke="#de5243" stroke-width="0.8"/>
<rect x="202.05" y="546.24" width="2.30" height="28.16" fill="#fff" stroke="#de5243" stroke-width="0.8"/>
<line x1="207.00" y1="571.89" x2="207.00" y2="569.39" stroke="#d12a1c" stroke-width="0.8"/>
<line x1="205.90" y1="569.39" x2="208.10" y2="569.39" stroke="#d12a1c" stroke-width="0.8"/>
<rect x="205.45" y="571.89" width="3.10" height="2.50" fill="#d12a1c"/>
<circle cx="194.45" cy="513.60" r="0.72" fill="#4858b8"/>
<circle cx="196.35" cy="513.60" r="0.72" fill="#4858b8"/>
<circle cx="198.25" cy="513.60" r="0.72" fill="#4858b8"/>
<circle cx="200.15" cy="513.60" r="0.72" fill="#4858b8"/>
<circle cx="203.20" cy="517.50" r="0.72" fill="#dc3325"/>
<circle cx="205.10" cy="517.50" r="0.72" fill="#dc3325"/>
<circle cx="207.00" cy="517.50" r="0.72" fill="#dc3325"/>
<line x1="215.00" y1="570.39" x2="215.00" y2="565.88" stroke="#1a1a1a" stroke-width="0.8"/>
<line x1="213.90" y1="565.88" x2="216.10" y2="565.88" stroke="#1a1a1a" stroke-width="0.8"/>
<rect x="213.85" y="570.79" width="2.30" height="3.61" fill="#fff" stroke="#1a1a1a" stroke-width="0.8"/>
<rect x="217.75" y="573.80" width="2.30" height="0.60" fill="#bdbdbd" stroke="#1a1a1a" stroke-width="0.8"/>
<line x1="222.80" y1="534.32" x2="222.80" y2="529.31" stroke="#6070c0" stroke-width="0.8"/>
<line x1="221.70" y1="529.31" x2="223.90" y2="529.31" stroke="#6070c0" stroke-width="0.8"/>
<rect x="221.65" y="534.72" width="2.30" height="39.68" fill="#fff" stroke="#6070c0" stroke-width="0.8"/>
<rect x="225.15" y="574.00" width="3.10" height="0.40" fill="#3b4ba3"/>
<line x1="230.50" y1="548.35" x2="230.50" y2="540.33" stroke="#de5243" stroke-width="0.8"/>
<line x1="229.40" y1="540.33" x2="231.60" y2="540.33" stroke="#de5243" stroke-width="0.8"/>
<rect x="229.35" y="548.75" width="2.30" height="25.65" fill="#fff" stroke="#de5243" stroke-width="0.8"/>
<line x1="234.30" y1="572.40" x2="234.30" y2="569.89" stroke="#d12a1c" stroke-width="0.8"/>
<line x1="233.20" y1="569.89" x2="235.40" y2="569.89" stroke="#d12a1c" stroke-width="0.8"/>
<rect x="232.75" y="572.40" width="3.10" height="2.00" fill="#d12a1c"/>
<circle cx="221.75" cy="513.60" r="0.72" fill="#4858b8"/>
<circle cx="223.65" cy="513.60" r="0.72" fill="#4858b8"/>
<circle cx="225.55" cy="513.60" r="0.72" fill="#4858b8"/>
<circle cx="227.45" cy="513.60" r="0.72" fill="#4858b8"/>
<circle cx="231.45" cy="517.50" r="0.72" fill="#dc3325"/>
<circle cx="233.35" cy="517.50" r="0.72" fill="#dc3325"/>
<line x1="242.30" y1="567.39" x2="242.30" y2="563.38" stroke="#1a1a1a" stroke-width="0.8"/>
<line x1="241.20" y1="563.38" x2="243.40" y2="563.38" stroke="#1a1a1a" stroke-width="0.8"/>
<rect x="241.15" y="567.79" width="2.30" height="6.61" fill="#fff" stroke="#1a1a1a" stroke-width="0.8"/>
<rect x="245.05" y="573.80" width="2.30" height="0.60" fill="#bdbdbd" stroke="#1a1a1a" stroke-width="0.8"/>
<line x1="250.10" y1="535.32" x2="250.10" y2="530.31" stroke="#6070c0" stroke-width="0.8"/>
<line x1="249.00" y1="530.31" x2="251.20" y2="530.31" stroke="#6070c0" stroke-width="0.8"/>
<rect x="248.95" y="535.72" width="2.30" height="38.68" fill="#fff" stroke="#6070c0" stroke-width="0.8"/>
<rect x="252.45" y="574.00" width="3.10" height="0.40" fill="#3b4ba3"/>
<line x1="257.80" y1="549.35" x2="257.80" y2="541.33" stroke="#de5243" stroke-width="0.8"/>
<line x1="256.70" y1="541.33" x2="258.90" y2="541.33" stroke="#de5243" stroke-width="0.8"/>
<rect x="256.65" y="549.75" width="2.30" height="24.65" fill="#fff" stroke="#de5243" stroke-width="0.8"/>
<line x1="261.60" y1="571.89" x2="261.60" y2="569.39" stroke="#d12a1c" stroke-width="0.8"/>
<line x1="260.50" y1="569.39" x2="262.70" y2="569.39" stroke="#d12a1c" stroke-width="0.8"/>
<rect x="260.05" y="571.89" width="3.10" height="2.50" fill="#d12a1c"/>
<circle cx="249.05" cy="513.60" r="0.72" fill="#4858b8"/>
<circle cx="250.95" cy="513.60" r="0.72" fill="#4858b8"/>
<circle cx="252.85" cy="513.60" r="0.72" fill="#4858b8"/>
<circle cx="254.75" cy="513.60" r="0.72" fill="#4858b8"/>
<circle cx="258.75" cy="517.50" r="0.72" fill="#dc3325"/>
<circle cx="260.65" cy="517.50" r="0.72" fill="#dc3325"/>
<line x1="269.60" y1="572.40" x2="269.60" y2="571.39" stroke="#1a1a1a" stroke-width="0.8"/>
<line x1="268.50" y1="571.39" x2="270.70" y2="571.39" stroke="#1a1a1a" stroke-width="0.8"/>
<rect x="268.45" y="572.80" width="2.30" height="1.60" fill="#fff" stroke="#1a1a1a" stroke-width="0.8"/>
<rect x="272.35" y="573.80" width="2.30" height="0.60" fill="#bdbdbd" stroke="#1a1a1a" stroke-width="0.8"/>
<line x1="277.40" y1="532.82" x2="277.40" y2="527.81" stroke="#6070c0" stroke-width="0.8"/>
<line x1="276.30" y1="527.81" x2="278.50" y2="527.81" stroke="#6070c0" stroke-width="0.8"/>
<rect x="276.25" y="533.22" width="2.30" height="41.18" fill="#fff" stroke="#6070c0" stroke-width="0.8"/>
<rect x="279.75" y="574.00" width="3.10" height="0.40" fill="#3b4ba3"/>
<line x1="285.10" y1="535.32" x2="285.10" y2="525.80" stroke="#de5243" stroke-width="0.8"/>
<line x1="284.00" y1="525.80" x2="286.20" y2="525.80" stroke="#de5243" stroke-width="0.8"/>
<rect x="283.95" y="535.72" width="2.30" height="38.68" fill="#fff" stroke="#de5243" stroke-width="0.8"/>
<line x1="288.90" y1="572.40" x2="288.90" y2="569.89" stroke="#d12a1c" stroke-width="0.8"/>
<line x1="287.80" y1="569.89" x2="290.00" y2="569.89" stroke="#d12a1c" stroke-width="0.8"/>
<rect x="287.35" y="572.40" width="3.10" height="2.00" fill="#d12a1c"/>
<circle cx="276.35" cy="513.60" r="0.72" fill="#4858b8"/>
<circle cx="278.25" cy="513.60" r="0.72" fill="#4858b8"/>
<circle cx="280.15" cy="513.60" r="0.72" fill="#4858b8"/>
<circle cx="282.05" cy="513.60" r="0.72" fill="#4858b8"/>
<circle cx="284.15" cy="517.50" r="0.72" fill="#dc3325"/>
<circle cx="286.05" cy="517.50" r="0.72" fill="#dc3325"/>
<circle cx="287.95" cy="517.50" r="0.72" fill="#dc3325"/>
<circle cx="289.85" cy="517.50" r="0.72" fill="#dc3325"/>
<line x1="296.90" y1="568.89" x2="296.90" y2="564.88" stroke="#1a1a1a" stroke-width="0.8"/>
<line x1="295.80" y1="564.88" x2="298.00" y2="564.88" stroke="#1a1a1a" stroke-width="0.8"/>
<rect x="295.75" y="569.29" width="2.30" height="5.11" fill="#fff" stroke="#1a1a1a" stroke-width="0.8"/>
<rect x="299.65" y="573.80" width="2.30" height="0.60" fill="#bdbdbd" stroke="#1a1a1a" stroke-width="0.8"/>
<line x1="304.70" y1="535.32" x2="304.70" y2="529.31" stroke="#6070c0" stroke-width="0.8"/>
<line x1="303.60" y1="529.31" x2="305.80" y2="529.31" stroke="#6070c0" stroke-width="0.8"/>
<rect x="303.55" y="535.72" width="2.30" height="38.68" fill="#fff" stroke="#6070c0" stroke-width="0.8"/>
<rect x="307.05" y="574.00" width="3.10" height="0.40" fill="#3b4ba3"/>
<line x1="312.40" y1="534.82" x2="312.40" y2="525.80" stroke="#de5243" stroke-width="0.8"/>
<line x1="311.30" y1="525.80" x2="313.50" y2="525.80" stroke="#de5243" stroke-width="0.8"/>
<rect x="311.25" y="535.22" width="2.30" height="39.18" fill="#fff" stroke="#de5243" stroke-width="0.8"/>
<line x1="316.20" y1="571.89" x2="316.20" y2="569.39" stroke="#d12a1c" stroke-width="0.8"/>
<line x1="315.10" y1="569.39" x2="317.30" y2="569.39" stroke="#d12a1c" stroke-width="0.8"/>
<rect x="314.65" y="571.89" width="3.10" height="2.50" fill="#d12a1c"/>
<circle cx="303.65" cy="513.60" r="0.72" fill="#4858b8"/>
<circle cx="305.55" cy="513.60" r="0.72" fill="#4858b8"/>
<circle cx="307.45" cy="513.60" r="0.72" fill="#4858b8"/>
<circle cx="309.35" cy="513.60" r="0.72" fill="#4858b8"/>
<circle cx="311.45" cy="517.50" r="0.72" fill="#dc3325"/>
<circle cx="313.35" cy="517.50" r="0.72" fill="#dc3325"/>
<circle cx="315.25" cy="517.50" r="0.72" fill="#dc3325"/>
<circle cx="317.15" cy="517.50" r="0.72" fill="#dc3325"/>
<line x1="47.60" y1="574.40" x2="47.60" y2="521.30" stroke="#1a1a1a" stroke-width="1.3"/>
<line x1="44.60" y1="574.40" x2="47.60" y2="574.40" stroke="#1a1a1a" stroke-width="0.9"/>
<text x="41.20" y="576.74" font-size="6.5" text-anchor="end" fill="#222" stroke="#222" stroke-width="0.1">0</text>
<line x1="44.60" y1="564.38" x2="47.60" y2="564.38" stroke="#1a1a1a" stroke-width="0.9"/>
<text x="41.20" y="566.72" font-size="6.5" text-anchor="end" fill="#222" stroke="#222" stroke-width="0.1">20</text>
<line x1="44.60" y1="554.36" x2="47.60" y2="554.36" stroke="#1a1a1a" stroke-width="0.9"/>
<text x="41.20" y="556.70" font-size="6.5" text-anchor="end" fill="#222" stroke="#222" stroke-width="0.1">40</text>
<line x1="44.60" y1="544.34" x2="47.60" y2="544.34" stroke="#1a1a1a" stroke-width="0.9"/>
<text x="41.20" y="546.68" font-size="6.5" text-anchor="end" fill="#222" stroke="#222" stroke-width="0.1">60</text>
<line x1="44.60" y1="534.32" x2="47.60" y2="534.32" stroke="#1a1a1a" stroke-width="0.9"/>
<text x="41.20" y="536.66" font-size="6.5" text-anchor="end" fill="#222" stroke="#222" stroke-width="0.1">80</text>
<line x1="44.60" y1="524.30" x2="47.60" y2="524.30" stroke="#1a1a1a" stroke-width="0.9"/>
<text x="41.20" y="526.64" font-size="6.5" text-anchor="end" fill="#222" stroke="#222" stroke-width="0.1">100</text>
<line x1="47.10" y1="574.40" x2="320.40" y2="574.40" stroke="#1a1a1a" stroke-width="1.3"/>
<text x="47.60" y="594.80" font-size="6.7" fill="#222" stroke="#222" stroke-width="0.1" textLength="19.40" lengthAdjust="spacingAndGlyphs">Spleen</text>
<text x="0.00" y="0.00" font-size="7.2" text-anchor="middle" fill="#222" stroke="#222" stroke-width="0.1" textLength="16.60" lengthAdjust="spacingAndGlyphs" transform="translate(24.8,633.0) rotate(-90)">% GFP</text>
<line x1="51.20" y1="647.02" x2="51.20" y2="641.53" stroke="#1a1a1a" stroke-width="0.8"/>
<line x1="50.10" y1="641.53" x2="52.30" y2="641.53" stroke="#1a1a1a" stroke-width="0.8"/>
<rect x="50.05" y="647.42" width="2.30" height="11.08" fill="#fff" stroke="#1a1a1a" stroke-width="0.8"/>
<rect x="53.95" y="657.90" width="2.30" height="0.60" fill="#bdbdbd" stroke="#1a1a1a" stroke-width="0.8"/>
<line x1="59.00" y1="633.55" x2="59.00" y2="625.57" stroke="#6070c0" stroke-width="0.8"/>
<line x1="57.90" y1="625.57" x2="60.10" y2="625.57" stroke="#6070c0" stroke-width="0.8"/>
<rect x="57.85" y="633.95" width="2.30" height="24.55" fill="#fff" stroke="#6070c0" stroke-width="0.8"/>
<rect x="61.35" y="658.10" width="3.10" height="0.40" fill="#3b4ba3"/>
<line x1="66.70" y1="624.07" x2="66.70" y2="613.59" stroke="#de5243" stroke-width="0.8"/>
<line x1="65.60" y1="613.59" x2="67.80" y2="613.59" stroke="#de5243" stroke-width="0.8"/>
<rect x="65.55" y="624.47" width="2.30" height="34.03" fill="#fff" stroke="#de5243" stroke-width="0.8"/>
<line x1="70.50" y1="657.00" x2="70.50" y2="654.51" stroke="#d12a1c" stroke-width="0.8"/>
<line x1="69.40" y1="654.51" x2="71.60" y2="654.51" stroke="#d12a1c" stroke-width="0.8"/>
<rect x="68.95" y="657.00" width="3.10" height="1.50" fill="#d12a1c"/>
<circle cx="57.95" cy="601.10" r="0.72" fill="#4858b8"/>
<circle cx="59.85" cy="601.10" r="0.72" fill="#4858b8"/>
<circle cx="61.75" cy="601.10" r="0.72" fill="#4858b8"/>
<circle cx="63.65" cy="601.10" r="0.72" fill="#4858b8"/>
<circle cx="66.70" cy="605.00" r="0.72" fill="#dc3325"/>
<circle cx="68.60" cy="605.00" r="0.72" fill="#dc3325"/>
<circle cx="70.50" cy="605.00" r="0.72" fill="#dc3325"/>
<circle cx="53.20" cy="609.70" r="0.5" fill="#bbb"/>
<text x="60.80" y="667.60" font-size="6.3" text-anchor="middle" fill="#222" stroke="#222" stroke-width="0.1">LT-HSC</text>
<line x1="78.50" y1="653.01" x2="78.50" y2="649.02" stroke="#1a1a1a" stroke-width="0.8"/>
<line x1="77.40" y1="649.02" x2="79.60" y2="649.02" stroke="#1a1a1a" stroke-width="0.8"/>
<rect x="77.35" y="653.41" width="2.30" height="5.09" fill="#fff" stroke="#1a1a1a" stroke-width="0.8"/>
<rect x="81.25" y="655.91" width="2.30" height="2.59" fill="#bdbdbd" stroke="#1a1a1a" stroke-width="0.8"/>
<line x1="86.30" y1="620.08" x2="86.30" y2="616.58" stroke="#6070c0" stroke-width="0.8"/>
<line x1="85.20" y1="616.58" x2="87.40" y2="616.58" stroke="#6070c0" stroke-width="0.8"/>
<rect x="85.15" y="620.48" width="2.30" height="38.02" fill="#fff" stroke="#6070c0" stroke-width="0.8"/>
<rect x="88.65" y="658.10" width="3.10" height="0.40" fill="#3b4ba3"/>
<line x1="94.00" y1="624.57" x2="94.00" y2="616.58" stroke="#de5243" stroke-width="0.8"/>
<line x1="92.90" y1="616.58" x2="95.10" y2="616.58" stroke="#de5243" stroke-width="0.8"/>
<rect x="92.85" y="624.97" width="2.30" height="33.53" fill="#fff" stroke="#de5243" stroke-width="0.8"/>
<line x1="97.80" y1="651.01" x2="97.80" y2="649.02" stroke="#d12a1c" stroke-width="0.8"/>
<line x1="96.70" y1="649.02" x2="98.90" y2="649.02" stroke="#d12a1c" stroke-width="0.8"/>
<rect x="96.25" y="651.01" width="3.10" height="7.49" fill="#d12a1c"/>
<circle cx="85.25" cy="601.10" r="0.72" fill="#4858b8"/>
<circle cx="87.15" cy="601.10" r="0.72" fill="#4858b8"/>
<circle cx="89.05" cy="601.10" r="0.72" fill="#4858b8"/>
<circle cx="90.95" cy="601.10" r="0.72" fill="#4858b8"/>
<circle cx="94.95" cy="605.00" r="0.72" fill="#dc3325"/>
<circle cx="96.85" cy="605.00" r="0.72" fill="#dc3325"/>
<text x="88.10" y="667.60" font-size="6.3" text-anchor="middle" fill="#222" stroke="#222" stroke-width="0.1">LSK</text>
<line x1="105.80" y1="654.51" x2="105.80" y2="652.01" stroke="#1a1a1a" stroke-width="0.8"/>
<line x1="104.70" y1="652.01" x2="106.90" y2="652.01" stroke="#1a1a1a" stroke-width="0.8"/>
<rect x="104.65" y="654.91" width="2.30" height="3.59" fill="#fff" stroke="#1a1a1a" stroke-width="0.8"/>
<rect x="108.55" y="657.90" width="2.30" height="0.60" fill="#bdbdbd" stroke="#1a1a1a" stroke-width="0.8"/>
<line x1="113.60" y1="619.58" x2="113.60" y2="613.59" stroke="#6070c0" stroke-width="0.8"/>
<line x1="112.50" y1="613.59" x2="114.70" y2="613.59" stroke="#6070c0" stroke-width="0.8"/>
<rect x="112.45" y="619.98" width="2.30" height="38.52" fill="#fff" stroke="#6070c0" stroke-width="0.8"/>
<rect x="115.95" y="658.10" width="3.10" height="0.40" fill="#3b4ba3"/>
<line x1="121.30" y1="630.56" x2="121.30" y2="622.07" stroke="#de5243" stroke-width="0.8"/>
<line x1="120.20" y1="622.07" x2="122.40" y2="622.07" stroke="#de5243" stroke-width="0.8"/>
<rect x="120.15" y="630.96" width="2.30" height="27.54" fill="#fff" stroke="#de5243" stroke-width="0.8"/>
<line x1="125.10" y1="656.50" x2="125.10" y2="654.01" stroke="#d12a1c" stroke-width="0.8"/>
<line x1="124.00" y1="654.01" x2="126.20" y2="654.01" stroke="#d12a1c" stroke-width="0.8"/>
<rect x="123.55" y="656.50" width="3.10" height="2.00" fill="#d12a1c"/>
<circle cx="112.55" cy="601.10" r="0.72" fill="#4858b8"/>
<circle cx="114.45" cy="601.10" r="0.72" fill="#4858b8"/>
<circle cx="116.35" cy="601.10" r="0.72" fill="#4858b8"/>
<circle cx="118.25" cy="601.10" r="0.72" fill="#4858b8"/>
<circle cx="122.25" cy="605.00" r="0.72" fill="#dc3325"/>
<circle cx="124.15" cy="605.00" r="0.72" fill="#dc3325"/>
<text x="115.40" y="667.60" font-size="6.3" text-anchor="middle" fill="#222" stroke="#222" stroke-width="0.1">CMP</text>
<line x1="133.10" y1="653.01" x2="133.10" y2="647.52" stroke="#1a1a1a" stroke-width="0.8"/>
<line x1="132.00" y1="647.52" x2="134.20" y2="647.52" stroke="#1a1a1a" stroke-width="0.8"/>
<rect x="131.95" y="653.41" width="2.30" height="5.09" fill="#fff" stroke="#1a1a1a" stroke-width="0.8"/>
<rect x="135.85" y="657.90" width="2.30" height="0.60" fill="#bdbdbd" stroke="#1a1a1a" stroke-width="0.8"/>
<line x1="140.90" y1="617.58" x2="140.90" y2="613.59" stroke="#6070c0" stroke-width="0.8"/>
<line x1="139.80" y1="613.59" x2="142.00" y2="613.59" stroke="#6070c0" stroke-width="0.8"/>
<rect x="139.75" y="617.98" width="2.30" height="40.52" fill="#fff" stroke="#6070c0" stroke-width="0.8"/>
<rect x="143.25" y="658.10" width="3.10" height="0.40" fill="#3b4ba3"/>
<line x1="148.60" y1="631.06" x2="148.60" y2="622.57" stroke="#de5243" stroke-width="0.8"/>
<line x1="147.50" y1="622.57" x2="149.70" y2="622.57" stroke="#de5243" stroke-width="0.8"/>
<rect x="147.45" y="631.46" width="2.30" height="27.04" fill="#fff" stroke="#de5243" stroke-width="0.8"/>
<line x1="152.40" y1="656.00" x2="152.40" y2="652.01" stroke="#d12a1c" stroke-width="0.8"/>
<line x1="151.30" y1="652.01" x2="153.50" y2="652.01" stroke="#d12a1c" stroke-width="0.8"/>
<rect x="150.85" y="656.00" width="3.10" height="2.50" fill="#d12a1c"/>
<circle cx="139.85" cy="601.10" r="0.72" fill="#4858b8"/>
<circle cx="141.75" cy="601.10" r="0.72" fill="#4858b8"/>
<circle cx="143.65" cy="601.10" r="0.72" fill="#4858b8"/>
<circle cx="145.55" cy="601.10" r="0.72" fill="#4858b8"/>
<circle cx="149.55" cy="605.00" r="0.72" fill="#dc3325"/>
<circle cx="151.45" cy="605.00" r="0.72" fill="#dc3325"/>
<text x="142.70" y="667.60" font-size="6.3" text-anchor="middle" fill="#222" stroke="#222" stroke-width="0.1">GMP</text>
<line x1="160.40" y1="651.01" x2="160.40" y2="646.52" stroke="#1a1a1a" stroke-width="0.8"/>
<line x1="159.30" y1="646.52" x2="161.50" y2="646.52" stroke="#1a1a1a" stroke-width="0.8"/>
<rect x="159.25" y="651.41" width="2.30" height="7.09" fill="#fff" stroke="#1a1a1a" stroke-width="0.8"/>
<rect x="163.15" y="657.90" width="2.30" height="0.60" fill="#bdbdbd" stroke="#1a1a1a" stroke-width="0.8"/>
<line x1="168.20" y1="612.09" x2="168.20" y2="610.60" stroke="#6070c0" stroke-width="0.8"/>
<line x1="167.10" y1="610.60" x2="169.30" y2="610.60" stroke="#6070c0" stroke-width="0.8"/>
<rect x="167.05" y="612.49" width="2.30" height="46.01" fill="#fff" stroke="#6070c0" stroke-width="0.8"/>
<rect x="170.55" y="658.10" width="3.10" height="0.40" fill="#3b4ba3"/>
<line x1="175.90" y1="620.08" x2="175.90" y2="610.10" stroke="#de5243" stroke-width="0.8"/>
<line x1="174.80" y1="610.10" x2="177.00" y2="610.10" stroke="#de5243" stroke-width="0.8"/>
<rect x="174.75" y="620.48" width="2.30" height="38.02" fill="#fff" stroke="#de5243" stroke-width="0.8"/>
<line x1="179.70" y1="656.50" x2="179.70" y2="653.51" stroke="#d12a1c" stroke-width="0.8"/>
<line x1="178.60" y1="653.51" x2="180.80" y2="653.51" stroke="#d12a1c" stroke-width="0.8"/>
<rect x="178.15" y="656.50" width="3.10" height="2.00" fill="#d12a1c"/>
<circle cx="167.15" cy="601.10" r="0.72" fill="#4858b8"/>
<circle cx="169.05" cy="601.10" r="0.72" fill="#4858b8"/>
<circle cx="170.95" cy="601.10" r="0.72" fill="#4858b8"/>
<circle cx="172.85" cy="601.10" r="0.72" fill="#4858b8"/>
<circle cx="175.90" cy="605.00" r="0.72" fill="#dc3325"/>
<circle cx="177.80" cy="605.00" r="0.72" fill="#dc3325"/>
<circle cx="179.70" cy="605.00" r="0.72" fill="#dc3325"/>
<text x="170.00" y="667.60" font-size="6.3" text-anchor="middle" fill="#222" stroke="#222" stroke-width="0.1">MEP</text>
<line x1="187.70" y1="652.01" x2="187.70" y2="647.52" stroke="#1a1a1a" stroke-width="0.8"/>
<line x1="186.60" y1="647.52" x2="188.80" y2="647.52" stroke="#1a1a1a" stroke-width="0.8"/>
<rect x="186.55" y="652.41" width="2.30" height="6.09" fill="#fff" stroke="#1a1a1a" stroke-width="0.8"/>
<rect x="190.45" y="657.90" width="2.30" height="0.60" fill="#bdbdbd" stroke="#1a1a1a" stroke-width="0.8"/>
<line x1="195.50" y1="614.59" x2="195.50" y2="612.09" stroke="#6070c0" stroke-width="0.8"/>
<line x1="194.40" y1="612.09" x2="196.60" y2="612.09" stroke="#6070c0" stroke-width="0.8"/>
<rect x="194.35" y="614.99" width="2.30" height="43.51" fill="#fff" stroke="#6070c0" stroke-width="0.8"/>
<rect x="197.85" y="658.10" width="3.10" height="0.40" fill="#3b4ba3"/>
<line x1="203.20" y1="621.57" x2="203.20" y2="611.10" stroke="#de5243" stroke-width="0.8"/>
<line x1="202.10" y1="611.10" x2="204.30" y2="611.10" stroke="#de5243" stroke-width="0.8"/>
<rect x="202.05" y="621.97" width="2.30" height="36.53" fill="#fff" stroke="#de5243" stroke-width="0.8"/>
<line x1="207.00" y1="656.50" x2="207.00" y2="653.51" stroke="#d12a1c" stroke-width="0.8"/>
<line x1="205.90" y1="653.51" x2="208.10" y2="653.51" stroke="#d12a1c" stroke-width="0.8"/>
<rect x="205.45" y="656.50" width="3.10" height="2.00" fill="#d12a1c"/>
<circle cx="194.45" cy="601.10" r="0.72" fill="#4858b8"/>
<circle cx="196.35" cy="601.10" r="0.72" fill="#4858b8"/>
<circle cx="198.25" cy="601.10" r="0.72" fill="#4858b8"/>
<circle cx="200.15" cy="601.10" r="0.72" fill="#4858b8"/>
<circle cx="203.20" cy="605.00" r="0.72" fill="#dc3325"/>
<circle cx="205.10" cy="605.00" r="0.72" fill="#dc3325"/>
<circle cx="207.00" cy="605.00" r="0.72" fill="#dc3325"/>
<text x="197.30" y="667.60" font-size="6.3" text-anchor="middle" fill="#222" stroke="#222" stroke-width="0.1">MyP</text>
<line x1="215.00" y1="654.01" x2="215.00" y2="650.52" stroke="#1a1a1a" stroke-width="0.8"/>
<line x1="213.90" y1="650.52" x2="216.10" y2="650.52" stroke="#1a1a1a" stroke-width="0.8"/>
<rect x="213.85" y="654.41" width="2.30" height="4.09" fill="#fff" stroke="#1a1a1a" stroke-width="0.8"/>
<rect x="217.75" y="657.90" width="2.30" height="0.60" fill="#bdbdbd" stroke="#1a1a1a" stroke-width="0.8"/>
<line x1="222.80" y1="618.08" x2="222.80" y2="614.09" stroke="#6070c0" stroke-width="0.8"/>
<line x1="221.70" y1="614.09" x2="223.90" y2="614.09" stroke="#6070c0" stroke-width="0.8"/>
<rect x="221.65" y="618.48" width="2.30" height="40.02" fill="#fff" stroke="#6070c0" stroke-width="0.8"/>
<rect x="225.15" y="658.10" width="3.10" height="0.40" fill="#3b4ba3"/>
<line x1="230.50" y1="628.56" x2="230.50" y2="620.08" stroke="#de5243" stroke-width="0.8"/>
<line x1="229.40" y1="620.08" x2="231.60" y2="620.08" stroke="#de5243" stroke-width="0.8"/>
<rect x="229.35" y="628.96" width="2.30" height="29.54" fill="#fff" stroke="#de5243" stroke-width="0.8"/>
<line x1="234.30" y1="656.50" x2="234.30" y2="654.01" stroke="#d12a1c" stroke-width="0.8"/>
<line x1="233.20" y1="654.01" x2="235.40" y2="654.01" stroke="#d12a1c" stroke-width="0.8"/>
<rect x="232.75" y="656.50" width="3.10" height="2.00" fill="#d12a1c"/>
<circle cx="221.75" cy="601.10" r="0.72" fill="#4858b8"/>
<circle cx="223.65" cy="601.10" r="0.72" fill="#4858b8"/>
<circle cx="225.55" cy="601.10" r="0.72" fill="#4858b8"/>
<circle cx="227.45" cy="601.10" r="0.72" fill="#4858b8"/>
<circle cx="231.45" cy="605.00" r="0.72" fill="#dc3325"/>
<circle cx="233.35" cy="605.00" r="0.72" fill="#dc3325"/>
<circle cx="216.05" cy="609.70" r="0.5" fill="#bbb"/>
<circle cx="217.95" cy="609.70" r="0.5" fill="#bbb"/>
<text x="224.60" y="667.60" font-size="6.3" text-anchor="middle" fill="#222" stroke="#222" stroke-width="0.1">Pre-Meg-E</text>
<line x1="242.30" y1="650.52" x2="242.30" y2="647.52" stroke="#1a1a1a" stroke-width="0.8"/>
<line x1="241.20" y1="647.52" x2="243.40" y2="647.52" stroke="#1a1a1a" stroke-width="0.8"/>
<rect x="241.15" y="650.92" width="2.30" height="7.58" fill="#fff" stroke="#1a1a1a" stroke-width="0.8"/>
<rect x="245.05" y="657.90" width="2.30" height="0.60" fill="#bdbdbd" stroke="#1a1a1a" stroke-width="0.8"/>
<line x1="250.10" y1="617.08" x2="250.10" y2="613.09" stroke="#6070c0" stroke-width="0.8"/>
<line x1="249.00" y1="613.09" x2="251.20" y2="613.09" stroke="#6070c0" stroke-width="0.8"/>
<rect x="248.95" y="617.48" width="2.30" height="41.02" fill="#fff" stroke="#6070c0" stroke-width="0.8"/>
<rect x="252.45" y="658.10" width="3.10" height="0.40" fill="#3b4ba3"/>
<line x1="257.80" y1="627.06" x2="257.80" y2="618.58" stroke="#de5243" stroke-width="0.8"/>
<line x1="256.70" y1="618.58" x2="258.90" y2="618.58" stroke="#de5243" stroke-width="0.8"/>
<rect x="256.65" y="627.46" width="2.30" height="31.04" fill="#fff" stroke="#de5243" stroke-width="0.8"/>
<line x1="261.60" y1="656.50" x2="261.60" y2="654.01" stroke="#d12a1c" stroke-width="0.8"/>
<line x1="260.50" y1="654.01" x2="262.70" y2="654.01" stroke="#d12a1c" stroke-width="0.8"/>
<rect x="260.05" y="656.50" width="3.10" height="2.00" fill="#d12a1c"/>
<circle cx="249.05" cy="601.10" r="0.72" fill="#4858b8"/>
<circle cx="250.95" cy="601.10" r="0.72" fill="#4858b8"/>
<circle cx="252.85" cy="601.10" r="0.72" fill="#4858b8"/>
<circle cx="254.75" cy="601.10" r="0.72" fill="#4858b8"/>
<circle cx="258.75" cy="605.00" r="0.72" fill="#dc3325"/>
<circle cx="260.65" cy="605.00" r="0.72" fill="#dc3325"/>
<circle cx="243.35" cy="609.70" r="0.5" fill="#bbb"/>
<circle cx="245.25" cy="609.70" r="0.5" fill="#bbb"/>
<text x="251.90" y="667.60" font-size="6.3" text-anchor="middle" fill="#222" stroke="#222" stroke-width="0.1">MkP</text>
<line x1="269.60" y1="656.50" x2="269.60" y2="655.51" stroke="#1a1a1a" stroke-width="0.8"/>
<line x1="268.50" y1="655.51" x2="270.70" y2="655.51" stroke="#1a1a1a" stroke-width="0.8"/>
<rect x="268.45" y="656.90" width="2.30" height="1.60" fill="#fff" stroke="#1a1a1a" stroke-width="0.8"/>
<rect x="272.35" y="657.40" width="2.30" height="1.10" fill="#bdbdbd" stroke="#1a1a1a" stroke-width="0.8"/>
<line x1="277.40" y1="612.59" x2="277.40" y2="610.60" stroke="#6070c0" stroke-width="0.8"/>
<line x1="276.30" y1="610.60" x2="278.50" y2="610.60" stroke="#6070c0" stroke-width="0.8"/>
<rect x="276.25" y="612.99" width="2.30" height="45.51" fill="#fff" stroke="#6070c0" stroke-width="0.8"/>
<rect x="279.75" y="658.10" width="3.10" height="0.40" fill="#3b4ba3"/>
<line x1="285.10" y1="623.07" x2="285.10" y2="610.10" stroke="#de5243" stroke-width="0.8"/>
<line x1="284.00" y1="610.10" x2="286.20" y2="610.10" stroke="#de5243" stroke-width="0.8"/>
<rect x="283.95" y="623.47" width="2.30" height="35.03" fill="#fff" stroke="#de5243" stroke-width="0.8"/>
<line x1="288.90" y1="657.50" x2="288.90" y2="656.50" stroke="#d12a1c" stroke-width="0.8"/>
<line x1="287.80" y1="656.50" x2="290.00" y2="656.50" stroke="#d12a1c" stroke-width="0.8"/>
<rect x="287.35" y="657.50" width="3.10" height="1.00" fill="#d12a1c"/>
<circle cx="276.35" cy="601.10" r="0.72" fill="#4858b8"/>
<circle cx="278.25" cy="601.10" r="0.72" fill="#4858b8"/>
<circle cx="280.15" cy="601.10" r="0.72" fill="#4858b8"/>
<circle cx="282.05" cy="601.10" r="0.72" fill="#4858b8"/>
<circle cx="285.10" cy="605.00" r="0.72" fill="#dc3325"/>
<circle cx="287.00" cy="605.00" r="0.72" fill="#dc3325"/>
<circle cx="288.90" cy="605.00" r="0.72" fill="#dc3325"/>
<circle cx="270.65" cy="609.70" r="0.5" fill="#bbb"/>
<circle cx="272.55" cy="609.70" r="0.5" fill="#bbb"/>
<text x="279.20" y="667.60" font-size="6.3" text-anchor="middle" fill="#222" stroke="#222" stroke-width="0.1">Pre-CFU-E</text>
<line x1="296.90" y1="653.51" x2="296.90" y2="651.01" stroke="#1a1a1a" stroke-width="0.8"/>
<line x1="295.80" y1="651.01" x2="298.00" y2="651.01" stroke="#1a1a1a" stroke-width="0.8"/>
<rect x="295.75" y="653.91" width="2.30" height="4.59" fill="#fff" stroke="#1a1a1a" stroke-width="0.8"/>
<rect x="299.65" y="657.90" width="2.30" height="0.60" fill="#bdbdbd" stroke="#1a1a1a" stroke-width="0.8"/>
<line x1="304.70" y1="610.60" x2="304.70" y2="610.10" stroke="#6070c0" stroke-width="0.8"/>
<line x1="303.60" y1="610.10" x2="305.80" y2="610.10" stroke="#6070c0" stroke-width="0.8"/>
<rect x="303.55" y="611.00" width="2.30" height="47.50" fill="#fff" stroke="#6070c0" stroke-width="0.8"/>
<rect x="307.05" y="658.10" width="3.10" height="0.40" fill="#3b4ba3"/>
<line x1="312.40" y1="619.58" x2="312.40" y2="610.10" stroke="#de5243" stroke-width="0.8"/>
<line x1="311.30" y1="610.10" x2="313.50" y2="610.10" stroke="#de5243" stroke-width="0.8"/>
<rect x="311.25" y="619.98" width="2.30" height="38.52" fill="#fff" stroke="#de5243" stroke-width="0.8"/>
<line x1="316.20" y1="656.50" x2="316.20" y2="652.51" stroke="#d12a1c" stroke-width="0.8"/>
<line x1="315.10" y1="652.51" x2="317.30" y2="652.51" stroke="#d12a1c" stroke-width="0.8"/>
<rect x="314.65" y="656.50" width="3.10" height="2.00" fill="#d12a1c"/>
<circle cx="303.65" cy="601.10" r="0.72" fill="#4858b8"/>
<circle cx="305.55" cy="601.10" r="0.72" fill="#4858b8"/>
<circle cx="307.45" cy="601.10" r="0.72" fill="#4858b8"/>
<circle cx="309.35" cy="601.10" r="0.72" fill="#4858b8"/>
<circle cx="312.40" cy="605.00" r="0.72" fill="#dc3325"/>
<circle cx="314.30" cy="605.00" r="0.72" fill="#dc3325"/>
<circle cx="316.20" cy="605.00" r="0.72" fill="#dc3325"/>
<circle cx="297.95" cy="609.70" r="0.5" fill="#bbb"/>
<circle cx="299.85" cy="609.70" r="0.5" fill="#bbb"/>
<text x="306.50" y="667.60" font-size="6.3" text-anchor="middle" fill="#222" stroke="#222" stroke-width="0.1">CFU-E</text>
<line x1="47.60" y1="658.50" x2="47.60" y2="605.60" stroke="#1a1a1a" stroke-width="1.3"/>
<line x1="44.60" y1="658.50" x2="47.60" y2="658.50" stroke="#1a1a1a" stroke-width="0.9"/>
<text x="41.20" y="660.84" font-size="6.5" text-anchor="end" fill="#222" stroke="#222" stroke-width="0.1">0</text>
<line x1="44.60" y1="648.52" x2="47.60" y2="648.52" stroke="#1a1a1a" stroke-width="0.9"/>
<text x="41.20" y="650.86" font-size="6.5" text-anchor="end" fill="#222" stroke="#222" stroke-width="0.1">20</text>
<line x1="44.60" y1="638.54" x2="47.60" y2="638.54" stroke="#1a1a1a" stroke-width="0.9"/>
<text x="41.20" y="640.88" font-size="6.5" text-anchor="end" fill="#222" stroke="#222" stroke-width="0.1">40</text>
<line x1="44.60" y1="628.56" x2="47.60" y2="628.56" stroke="#1a1a1a" stroke-width="0.9"/>
<text x="41.20" y="630.90" font-size="6.5" text-anchor="end" fill="#222" stroke="#222" stroke-width="0.1">60</text>
<line x1="44.60" y1="618.58" x2="47.60" y2="618.58" stroke="#1a1a1a" stroke-width="0.9"/>
<text x="41.20" y="620.92" font-size="6.5" text-anchor="end" fill="#222" stroke="#222" stroke-width="0.1">80</text>
<line x1="44.60" y1="608.60" x2="47.60" y2="608.60" stroke="#1a1a1a" stroke-width="0.9"/>
<text x="41.20" y="610.94" font-size="6.5" text-anchor="end" fill="#222" stroke="#222" stroke-width="0.1">100</text>
<line x1="47.10" y1="658.50" x2="320.40" y2="658.50" stroke="#1a1a1a" stroke-width="1.3"/>
<text x="353.40" y="479.30" font-size="10.2" font-weight="bold">E</text>
<text x="366.50" y="479.00" font-size="8.8" stroke="#000" stroke-width="0.1" textLength="113.10" lengthAdjust="spacingAndGlyphs">Percentage of CD41<tspan dy="-3.4" font-size="5.8">hi/lo</tspan><tspan dy="3.4"> HSCs</tspan></text>
<text x="376.80" y="490.30" font-size="8.8" stroke="#000" stroke-width="0.1" textLength="94.20" lengthAdjust="spacingAndGlyphs">within the GFP<tspan dy="-3.4" font-size="5.8">+</tspan><tspan dy="3.4"> LT-HSCs</tspan></text>
<text x="391.80" y="501.00" font-size="7.0" fill="#222" stroke="#222" stroke-width="0.1">%</text>
<line x1="411.50" y1="510.18" x2="411.50" y2="507.57" stroke="#222" stroke-width="0.9"/>
<line x1="410.00" y1="507.57" x2="413.00" y2="507.57" stroke="#222" stroke-width="0.9"/>
<rect x="408.90" y="510.68" width="5.30" height="63.53" fill="#fff" stroke="#6070c0" stroke-width="1.0"/>
<rect x="408.40" y="562.31" width="6.20" height="11.89" fill="#3b4ba3"/>
<line x1="411.50" y1="562.31" x2="411.50" y2="559.45" stroke="#222" stroke-width="0.9"/>
<line x1="410.00" y1="559.45" x2="413.00" y2="559.45" stroke="#222" stroke-width="0.9"/>
<line x1="404.20" y1="574.20" x2="404.20" y2="506.20" stroke="#1a1a1a" stroke-width="1.3"/>
<line x1="401.20" y1="574.20" x2="404.20" y2="574.20" stroke="#1a1a1a" stroke-width="0.9"/>
<text x="397.80" y="576.54" font-size="6.5" text-anchor="end" fill="#222" stroke="#222" stroke-width="0.1">0</text>
<line x1="401.20" y1="561.20" x2="404.20" y2="561.20" stroke="#1a1a1a" stroke-width="0.9"/>
<text x="397.80" y="563.54" font-size="6.5" text-anchor="end" fill="#222" stroke="#222" stroke-width="0.1">20</text>
<line x1="401.20" y1="548.20" x2="404.20" y2="548.20" stroke="#1a1a1a" stroke-width="0.9"/>
<text x="397.80" y="550.54" font-size="6.5" text-anchor="end" fill="#222" stroke="#222" stroke-width="0.1">40</text>
<line x1="401.20" y1="535.20" x2="404.20" y2="535.20" stroke="#1a1a1a" stroke-width="0.9"/>
<text x="397.80" y="537.54" font-size="6.5" text-anchor="end" fill="#222" stroke="#222" stroke-width="0.1">60</text>
<line x1="401.20" y1="522.20" x2="404.20" y2="522.20" stroke="#1a1a1a" stroke-width="0.9"/>
<text x="397.80" y="524.54" font-size="6.5" text-anchor="end" fill="#222" stroke="#222" stroke-width="0.1">80</text>
<line x1="401.20" y1="509.20" x2="404.20" y2="509.20" stroke="#1a1a1a" stroke-width="0.9"/>
<text x="397.80" y="511.54" font-size="6.5" text-anchor="end" fill="#222" stroke="#222" stroke-width="0.1">100</text>
<line x1="403.70" y1="574.20" x2="443.00" y2="574.20" stroke="#1a1a1a" stroke-width="1.3"/>
<text x="436.30" y="567.60" font-size="5.0" fill="#333" stroke="#333" stroke-width="0.1">n.a</text>
<text x="423.50" y="515.60" font-size="5.5" fill="#333" stroke="#333" stroke-width="0.1" textLength="24.40" lengthAdjust="spacingAndGlyphs">Recipient:</text>
<rect x="423.90" y="521.30" width="3.60" height="2.30" fill="#fff" stroke="#6070c0" stroke-width="0.8"/>
<rect x="423.50" y="530.40" width="4.20" height="2.60" fill="#3b4ba3"/>
<text x="430.60" y="524.30" font-size="5.6" fill="#333" stroke="#333" stroke-width="0.1">CD41<tspan dy="-2.2" font-size="3.6">lo</tspan></text>
<text x="430.60" y="533.30" font-size="5.6" fill="#333" stroke="#333" stroke-width="0.1">CD41<tspan dy="-2.2" font-size="3.6">hi</tspan></text>
<text x="411.40" y="583.30" font-size="6.8" text-anchor="middle" fill="#4555b0" stroke="#4555b0" stroke-width="0.1" font-style="italic">VF</text>
<text x="439.20" y="583.30" font-size="6.8" text-anchor="middle" fill="#4555b0" stroke="#4555b0" stroke-width="0.1" font-style="italic">VF</text>
<text x="379.60" y="588.60" font-size="6.4" fill="#222" stroke="#222" stroke-width="0.1" textLength="18.30" lengthAdjust="spacingAndGlyphs">Donor</text>
<text x="379.60" y="596.60" font-size="6.4" fill="#222" stroke="#222" stroke-width="0.1" textLength="17.30" lengthAdjust="spacingAndGlyphs">HSCs:</text>
<line x1="400.40" y1="587.70" x2="422.30" y2="587.70" stroke="#222" stroke-width="0.9"/>
<line x1="427.70" y1="587.70" x2="449.80" y2="587.70" stroke="#222" stroke-width="0.9"/>
<text x="401.70" y="596.40" font-size="6.4" fill="#222" stroke="#222" stroke-width="0.1">CD41<tspan dy="-2.6" font-size="4">lo</tspan></text>
<text x="429.60" y="596.40" font-size="6.4" fill="#222" stroke="#222" stroke-width="0.1">CD41<tspan dy="-2.6" font-size="4">hi</tspan></text>
</svg>
<div id="frame"></div>
</div></body></html>
